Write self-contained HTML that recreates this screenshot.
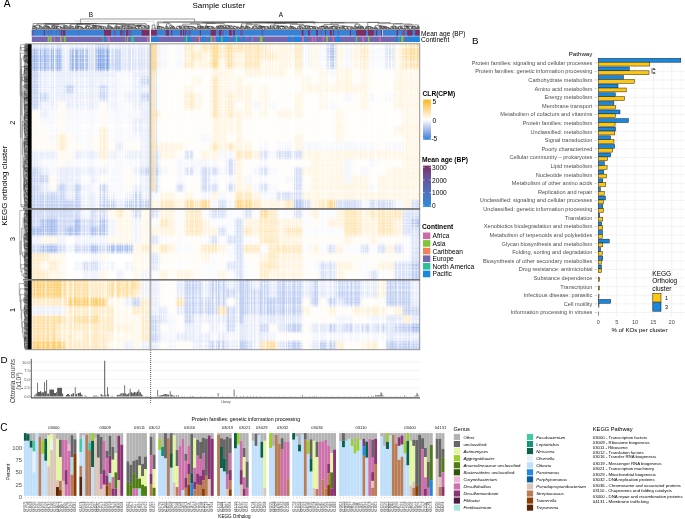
<!DOCTYPE html>
<html><head><meta charset="utf-8"><style>
html,body{margin:0;padding:0;background:#fff;}
body{width:685px;height:519px;overflow:hidden;position:relative;}
svg{position:absolute;left:0;top:0;font-family:"Liberation Sans",sans-serif;will-change:transform;}
</style></head><body>
<svg width="685" height="519" viewBox="0 0 685 519">
<rect width="685" height="519" fill="#fff"/>
<text x="3.7" y="7.3" font-size="10.2">A</text>
<text x="472" y="43.9" font-size="9.8">B</text>
<text x="0.2" y="431" font-size="10">C</text>
<text x="0.6" y="362.8" font-size="9.9">D</text>
<defs><filter id="bl" x="-5%" y="-5%" width="110%" height="110%"><feGaussianBlur stdDeviation="1.3"/></filter></defs>
<clipPath id="cp1"><rect x="32" y="44" width="117.6" height="164.2"/></clipPath>
<g clip-path="url(#cp1)"><g filter="url(#bl)">
<rect x="28" y="40" width="125.6" height="172.2" fill="#fff"/>
<rect x="28" y="40" width="12.42" height="12.23" fill="#c5d3f3"/>
<rect x="40.4" y="40" width="8.42" height="12.23" fill="#e8edfa"/>
<rect x="48.8" y="40" width="16.82" height="12.23" fill="#c5d3f3"/>
<rect x="65.6" y="40" width="8.42" height="12.23" fill="#e8edfa"/>
<rect x="74" y="40" width="8.42" height="12.23" fill="#c5d3f3"/>
<rect x="82.4" y="40" width="16.82" height="12.23" fill="#e8edfa"/>
<rect x="99.2" y="40" width="16.82" height="12.23" fill="#c5d3f3"/>
<rect x="116" y="40" width="37.62" height="12.23" fill="#e8edfa"/>
<rect x="28" y="52.21" width="12.42" height="8.23" fill="#9eb8eb"/>
<rect x="40.4" y="52.21" width="8.42" height="8.23" fill="#c5d3f3"/>
<rect x="48.8" y="52.21" width="8.42" height="8.23" fill="#9eb8eb"/>
<rect x="57.2" y="52.21" width="8.42" height="8.23" fill="#c5d3f3"/>
<rect x="65.6" y="52.21" width="8.42" height="8.23" fill="#e8edfa"/>
<rect x="74" y="52.21" width="16.82" height="8.23" fill="#9eb8eb"/>
<rect x="90.8" y="52.21" width="8.42" height="8.23" fill="#c5d3f3"/>
<rect x="99.2" y="52.21" width="16.82" height="8.23" fill="#9eb8eb"/>
<rect x="116" y="52.21" width="8.42" height="8.23" fill="#c5d3f3"/>
<rect x="124.4" y="52.21" width="8.42" height="8.23" fill="#e8edfa"/>
<rect x="132.8" y="52.21" width="8.42" height="8.23" fill="#c5d3f3"/>
<rect x="141.2" y="52.21" width="12.42" height="8.23" fill="#e8edfa"/>
<rect x="28" y="60.42" width="12.42" height="8.23" fill="#9eb8eb"/>
<rect x="40.4" y="60.42" width="8.42" height="8.23" fill="#c5d3f3"/>
<rect x="48.8" y="60.42" width="8.42" height="8.23" fill="#9eb8eb"/>
<rect x="57.2" y="60.42" width="8.42" height="8.23" fill="#c5d3f3"/>
<rect x="65.6" y="60.42" width="8.42" height="8.23" fill="#e8edfa"/>
<rect x="74" y="60.42" width="8.42" height="8.23" fill="#9eb8eb"/>
<rect x="82.4" y="60.42" width="8.42" height="8.23" fill="#c5d3f3"/>
<rect x="90.8" y="60.42" width="8.42" height="8.23" fill="#e8edfa"/>
<rect x="99.2" y="60.42" width="8.42" height="8.23" fill="#9eb8eb"/>
<rect x="107.6" y="60.42" width="8.42" height="8.23" fill="#c5d3f3"/>
<rect x="116" y="60.42" width="16.82" height="8.23" fill="#e8edfa"/>
<rect x="132.8" y="60.42" width="8.42" height="8.23" fill="#c5d3f3"/>
<rect x="141.2" y="60.42" width="12.42" height="8.23" fill="#e8edfa"/>
<rect x="28" y="68.63" width="12.42" height="8.23" fill="#c5d3f3"/>
<rect x="40.4" y="68.63" width="75.62" height="8.23" fill="#e8edfa"/>
<rect x="116" y="68.63" width="16.82" height="8.23" fill="#f7f8fd"/>
<rect x="132.8" y="68.63" width="20.82" height="8.23" fill="#e8edfa"/>
<rect x="28" y="76.84" width="12.42" height="8.23" fill="#c5d3f3"/>
<rect x="40.4" y="76.84" width="75.62" height="8.23" fill="#e8edfa"/>
<rect x="116" y="76.84" width="16.82" height="8.23" fill="#f7f8fd"/>
<rect x="132.8" y="76.84" width="8.42" height="8.23" fill="#e8edfa"/>
<rect x="141.2" y="76.84" width="12.42" height="8.23" fill="#c5d3f3"/>
<rect x="28" y="85.05" width="12.42" height="8.23" fill="#c5d3f3"/>
<rect x="40.4" y="85.05" width="25.22" height="8.23" fill="#e8edfa"/>
<rect x="65.6" y="85.05" width="8.42" height="8.23" fill="#c5d3f3"/>
<rect x="74" y="85.05" width="25.22" height="8.23" fill="#e8edfa"/>
<rect x="99.2" y="85.05" width="8.42" height="8.23" fill="#c5d3f3"/>
<rect x="107.6" y="85.05" width="8.42" height="8.23" fill="#e8edfa"/>
<rect x="116" y="85.05" width="16.82" height="8.23" fill="#f7f8fd"/>
<rect x="132.8" y="85.05" width="20.82" height="8.23" fill="#e8edfa"/>
<rect x="28" y="93.26" width="20.82" height="8.23" fill="#c5d3f3"/>
<rect x="48.8" y="93.26" width="50.42" height="8.23" fill="#e8edfa"/>
<rect x="99.2" y="93.26" width="8.42" height="8.23" fill="#c5d3f3"/>
<rect x="107.6" y="93.26" width="8.42" height="8.23" fill="#e8edfa"/>
<rect x="116" y="93.26" width="8.42" height="8.23" fill="#f7f8fd"/>
<rect x="124.4" y="93.26" width="16.82" height="8.23" fill="#e8edfa"/>
<rect x="141.2" y="93.26" width="12.42" height="8.23" fill="#c5d3f3"/>
<rect x="28" y="101.47" width="12.42" height="8.23" fill="#c5d3f3"/>
<rect x="40.4" y="101.47" width="16.82" height="8.23" fill="#e8edfa"/>
<rect x="57.2" y="101.47" width="8.42" height="8.23" fill="#fffaf2"/>
<rect x="65.6" y="101.47" width="33.62" height="8.23" fill="#e8edfa"/>
<rect x="99.2" y="101.47" width="8.42" height="8.23" fill="#fffaf2"/>
<rect x="107.6" y="101.47" width="8.42" height="8.23" fill="#e8edfa"/>
<rect x="116" y="101.47" width="16.82" height="8.23" fill="#f7f8fd"/>
<rect x="132.8" y="101.47" width="20.82" height="8.23" fill="#e8edfa"/>
<rect x="28" y="109.68" width="12.42" height="8.23" fill="#fffaf2"/>
<rect x="40.4" y="109.68" width="8.42" height="8.23" fill="#e8edfa"/>
<rect x="48.8" y="109.68" width="8.42" height="8.23" fill="#f7f8fd"/>
<rect x="57.2" y="109.68" width="8.42" height="8.23" fill="#fffaf2"/>
<rect x="65.6" y="109.68" width="33.62" height="8.23" fill="#f7f8fd"/>
<rect x="99.2" y="109.68" width="8.42" height="8.23" fill="#fffaf2"/>
<rect x="107.6" y="109.68" width="33.62" height="8.23" fill="#f7f8fd"/>
<rect x="141.2" y="109.68" width="12.42" height="8.23" fill="#e8edfa"/>
<rect x="28" y="117.89" width="12.42" height="8.23" fill="#fffaf2"/>
<rect x="40.4" y="117.89" width="16.82" height="8.23" fill="#f7f8fd"/>
<rect x="57.2" y="117.89" width="8.42" height="8.23" fill="#fffaf2"/>
<rect x="65.6" y="117.89" width="33.62" height="8.23" fill="#f7f8fd"/>
<rect x="99.2" y="117.89" width="8.42" height="8.23" fill="#fffaf2"/>
<rect x="107.6" y="117.89" width="25.22" height="8.23" fill="#f7f8fd"/>
<rect x="132.8" y="117.89" width="20.82" height="8.23" fill="#e8edfa"/>
<rect x="28" y="126.1" width="20.82" height="8.23" fill="#fffaf2"/>
<rect x="48.8" y="126.1" width="8.42" height="8.23" fill="#f7f8fd"/>
<rect x="57.2" y="126.1" width="8.42" height="8.23" fill="#fffaf2"/>
<rect x="65.6" y="126.1" width="33.62" height="8.23" fill="#f7f8fd"/>
<rect x="99.2" y="126.1" width="8.42" height="8.23" fill="#ffeecd"/>
<rect x="107.6" y="126.1" width="25.22" height="8.23" fill="#f7f8fd"/>
<rect x="132.8" y="126.1" width="20.82" height="8.23" fill="#e8edfa"/>
<rect x="28" y="134.31" width="20.82" height="8.23" fill="#fffaf2"/>
<rect x="48.8" y="134.31" width="8.42" height="8.23" fill="#f7f8fd"/>
<rect x="57.2" y="134.31" width="8.42" height="8.23" fill="#ffeecd"/>
<rect x="65.6" y="134.31" width="8.42" height="8.23" fill="#fffaf2"/>
<rect x="74" y="134.31" width="16.82" height="8.23" fill="#f7f8fd"/>
<rect x="90.8" y="134.31" width="8.42" height="8.23" fill="#fffaf2"/>
<rect x="99.2" y="134.31" width="8.42" height="8.23" fill="#ffeecd"/>
<rect x="107.6" y="134.31" width="33.62" height="8.23" fill="#f7f8fd"/>
<rect x="141.2" y="134.31" width="12.42" height="8.23" fill="#e8edfa"/>
<rect x="28" y="142.52" width="29.22" height="8.23" fill="#fffaf2"/>
<rect x="57.2" y="142.52" width="8.42" height="8.23" fill="#ffeecd"/>
<rect x="65.6" y="142.52" width="16.82" height="8.23" fill="#fffaf2"/>
<rect x="82.4" y="142.52" width="8.42" height="8.23" fill="#f7f8fd"/>
<rect x="90.8" y="142.52" width="8.42" height="8.23" fill="#fffaf2"/>
<rect x="99.2" y="142.52" width="8.42" height="8.23" fill="#ffeecd"/>
<rect x="107.6" y="142.52" width="8.42" height="8.23" fill="#fffaf2"/>
<rect x="116" y="142.52" width="8.42" height="8.23" fill="#e8edfa"/>
<rect x="124.4" y="142.52" width="16.82" height="8.23" fill="#fffaf2"/>
<rect x="141.2" y="142.52" width="12.42" height="8.23" fill="#e8edfa"/>
<rect x="28" y="150.73" width="29.22" height="8.23" fill="#e8edfa"/>
<rect x="57.2" y="150.73" width="16.82" height="8.23" fill="#fffaf2"/>
<rect x="74" y="150.73" width="25.22" height="8.23" fill="#e8edfa"/>
<rect x="99.2" y="150.73" width="8.42" height="8.23" fill="#ffeecd"/>
<rect x="107.6" y="150.73" width="8.42" height="8.23" fill="#e8edfa"/>
<rect x="116" y="150.73" width="8.42" height="8.23" fill="#f7f8fd"/>
<rect x="124.4" y="150.73" width="29.22" height="8.23" fill="#e8edfa"/>
<rect x="28" y="158.94" width="12.42" height="8.23" fill="#e8edfa"/>
<rect x="40.4" y="158.94" width="16.82" height="8.23" fill="#f7f8fd"/>
<rect x="57.2" y="158.94" width="8.42" height="8.23" fill="#fffaf2"/>
<rect x="65.6" y="158.94" width="33.62" height="8.23" fill="#f7f8fd"/>
<rect x="99.2" y="158.94" width="8.42" height="8.23" fill="#fffaf2"/>
<rect x="107.6" y="158.94" width="33.62" height="8.23" fill="#f7f8fd"/>
<rect x="141.2" y="158.94" width="12.42" height="8.23" fill="#e8edfa"/>
<rect x="28" y="167.15" width="12.42" height="8.23" fill="#c5d3f3"/>
<rect x="40.4" y="167.15" width="8.42" height="8.23" fill="#e8edfa"/>
<rect x="48.8" y="167.15" width="8.42" height="8.23" fill="#f7f8fd"/>
<rect x="57.2" y="167.15" width="50.42" height="8.23" fill="#e8edfa"/>
<rect x="107.6" y="167.15" width="16.82" height="8.23" fill="#f7f8fd"/>
<rect x="124.4" y="167.15" width="8.42" height="8.23" fill="#fffaf2"/>
<rect x="132.8" y="167.15" width="8.42" height="8.23" fill="#e8edfa"/>
<rect x="141.2" y="167.15" width="12.42" height="8.23" fill="#c5d3f3"/>
<rect x="28" y="175.36" width="20.82" height="8.23" fill="#c5d3f3"/>
<rect x="48.8" y="175.36" width="8.42" height="8.23" fill="#fffaf2"/>
<rect x="57.2" y="175.36" width="25.22" height="8.23" fill="#e8edfa"/>
<rect x="82.4" y="175.36" width="8.42" height="8.23" fill="#f7f8fd"/>
<rect x="90.8" y="175.36" width="8.42" height="8.23" fill="#e8edfa"/>
<rect x="99.2" y="175.36" width="8.42" height="8.23" fill="#fffaf2"/>
<rect x="107.6" y="175.36" width="16.82" height="8.23" fill="#f7f8fd"/>
<rect x="124.4" y="175.36" width="8.42" height="8.23" fill="#fffaf2"/>
<rect x="132.8" y="175.36" width="8.42" height="8.23" fill="#f7f8fd"/>
<rect x="141.2" y="175.36" width="12.42" height="8.23" fill="#e8edfa"/>
<rect x="28" y="183.57" width="12.42" height="8.23" fill="#c5d3f3"/>
<rect x="40.4" y="183.57" width="8.42" height="8.23" fill="#e8edfa"/>
<rect x="48.8" y="183.57" width="8.42" height="8.23" fill="#fffaf2"/>
<rect x="57.2" y="183.57" width="8.42" height="8.23" fill="#c5d3f3"/>
<rect x="65.6" y="183.57" width="8.42" height="8.23" fill="#e8edfa"/>
<rect x="74" y="183.57" width="8.42" height="8.23" fill="#c5d3f3"/>
<rect x="82.4" y="183.57" width="8.42" height="8.23" fill="#e8edfa"/>
<rect x="90.8" y="183.57" width="8.42" height="8.23" fill="#f7f8fd"/>
<rect x="99.2" y="183.57" width="8.42" height="8.23" fill="#c5d3f3"/>
<rect x="107.6" y="183.57" width="16.82" height="8.23" fill="#f7f8fd"/>
<rect x="124.4" y="183.57" width="8.42" height="8.23" fill="#fffaf2"/>
<rect x="132.8" y="183.57" width="20.82" height="8.23" fill="#e8edfa"/>
<rect x="28" y="191.78" width="37.62" height="8.23" fill="#c5d3f3"/>
<rect x="65.6" y="191.78" width="8.42" height="8.23" fill="#e8edfa"/>
<rect x="74" y="191.78" width="8.42" height="8.23" fill="#c5d3f3"/>
<rect x="82.4" y="191.78" width="16.82" height="8.23" fill="#e8edfa"/>
<rect x="99.2" y="191.78" width="8.42" height="8.23" fill="#c5d3f3"/>
<rect x="107.6" y="191.78" width="8.42" height="8.23" fill="#e8edfa"/>
<rect x="116" y="191.78" width="8.42" height="8.23" fill="#f7f8fd"/>
<rect x="124.4" y="191.78" width="8.42" height="8.23" fill="#e8edfa"/>
<rect x="132.8" y="191.78" width="8.42" height="8.23" fill="#c5d3f3"/>
<rect x="141.2" y="191.78" width="12.42" height="8.23" fill="#e8edfa"/>
<rect x="28" y="199.99" width="54.42" height="12.23" fill="#c5d3f3"/>
<rect x="82.4" y="199.99" width="16.82" height="12.23" fill="#e8edfa"/>
<rect x="99.2" y="199.99" width="16.82" height="12.23" fill="#c5d3f3"/>
<rect x="116" y="199.99" width="8.42" height="12.23" fill="#e8edfa"/>
<rect x="124.4" y="199.99" width="29.22" height="12.23" fill="#c5d3f3"/>
<rect x="28" y="40" width="34" height="9" fill="#d9e1f7"/>
<rect x="62" y="40" width="8" height="9" fill="#f2f5fc"/>
<rect x="70" y="40" width="26" height="9" fill="#e5ebfa"/>
<rect x="96" y="40" width="14" height="9" fill="#c7d4f3"/>
<rect x="110" y="40" width="44" height="9" fill="#eaeefb"/>
<rect x="28" y="49" width="34" height="22" fill="#9eb8eb"/>
<rect x="62" y="49" width="8" height="22" fill="#eaeefb"/>
<rect x="70" y="49" width="18" height="22" fill="#9ab4ea"/>
<rect x="88" y="49" width="8" height="22" fill="#d9e1f7"/>
<rect x="96" y="49" width="14" height="22" fill="#81a5e5"/>
<rect x="110" y="49" width="11" height="22" fill="#c3d1f2"/>
<rect x="121" y="49" width="33" height="22" fill="#dde4f8"/>
</g></g>
<clipPath id="cp2"><rect x="32" y="209.8" width="117.6" height="69.2"/></clipPath>
<g clip-path="url(#cp2)"><g filter="url(#bl)">
<rect x="28" y="205.8" width="125.6" height="77.2" fill="#fff"/>
<rect x="28" y="205.8" width="54.42" height="12.67" fill="#ced9f5"/>
<rect x="82.4" y="205.8" width="8.42" height="12.67" fill="#f0f3fc"/>
<rect x="90.8" y="205.8" width="16.82" height="12.67" fill="#ced9f5"/>
<rect x="107.6" y="205.8" width="8.42" height="12.67" fill="#fff7e7"/>
<rect x="116" y="205.8" width="8.42" height="12.67" fill="#ffeac3"/>
<rect x="124.4" y="205.8" width="8.42" height="12.67" fill="#fff7e7"/>
<rect x="132.8" y="205.8" width="8.42" height="12.67" fill="#ced9f5"/>
<rect x="141.2" y="205.8" width="12.42" height="12.67" fill="#fff7e7"/>
<rect x="28" y="218.45" width="12.42" height="8.67" fill="#ced9f5"/>
<rect x="40.4" y="218.45" width="16.82" height="8.67" fill="#a8beed"/>
<rect x="57.2" y="218.45" width="16.82" height="8.67" fill="#ced9f5"/>
<rect x="74" y="218.45" width="8.42" height="8.67" fill="#a8beed"/>
<rect x="82.4" y="218.45" width="16.82" height="8.67" fill="#ced9f5"/>
<rect x="99.2" y="218.45" width="8.42" height="8.67" fill="#a8beed"/>
<rect x="107.6" y="218.45" width="8.42" height="8.67" fill="#f0f3fc"/>
<rect x="116" y="218.45" width="16.82" height="8.67" fill="#fff7e7"/>
<rect x="132.8" y="218.45" width="8.42" height="8.67" fill="#f0f3fc"/>
<rect x="141.2" y="218.45" width="12.42" height="8.67" fill="#fff7e7"/>
<rect x="28" y="227.1" width="29.22" height="8.67" fill="#a8beed"/>
<rect x="57.2" y="227.1" width="8.42" height="8.67" fill="#ced9f5"/>
<rect x="65.6" y="227.1" width="16.82" height="8.67" fill="#a8beed"/>
<rect x="82.4" y="227.1" width="8.42" height="8.67" fill="#ced9f5"/>
<rect x="90.8" y="227.1" width="16.82" height="8.67" fill="#a8beed"/>
<rect x="107.6" y="227.1" width="8.42" height="8.67" fill="#f0f3fc"/>
<rect x="116" y="227.1" width="16.82" height="8.67" fill="#fff7e7"/>
<rect x="132.8" y="227.1" width="8.42" height="8.67" fill="#f0f3fc"/>
<rect x="141.2" y="227.1" width="12.42" height="8.67" fill="#fff7e7"/>
<rect x="28" y="235.75" width="12.42" height="8.67" fill="#f0f3fc"/>
<rect x="40.4" y="235.75" width="16.82" height="8.67" fill="#fff7e7"/>
<rect x="57.2" y="235.75" width="8.42" height="8.67" fill="#f0f3fc"/>
<rect x="74" y="235.75" width="33.62" height="8.67" fill="#f0f3fc"/>
<rect x="107.6" y="235.75" width="25.22" height="8.67" fill="#fff7e7"/>
<rect x="132.8" y="235.75" width="8.42" height="8.67" fill="#f0f3fc"/>
<rect x="141.2" y="235.75" width="12.42" height="8.67" fill="#fff7e7"/>
<rect x="28" y="244.4" width="12.42" height="8.67" fill="#ced9f5"/>
<rect x="40.4" y="244.4" width="16.82" height="8.67" fill="#a8beed"/>
<rect x="57.2" y="244.4" width="8.42" height="8.67" fill="#ced9f5"/>
<rect x="65.6" y="244.4" width="8.42" height="8.67" fill="#f0f3fc"/>
<rect x="74" y="244.4" width="16.82" height="8.67" fill="#ced9f5"/>
<rect x="90.8" y="244.4" width="8.42" height="8.67" fill="#a8beed"/>
<rect x="99.2" y="244.4" width="8.42" height="8.67" fill="#ced9f5"/>
<rect x="107.6" y="244.4" width="25.22" height="8.67" fill="#a8beed"/>
<rect x="132.8" y="244.4" width="8.42" height="8.67" fill="#fff7e7"/>
<rect x="141.2" y="244.4" width="12.42" height="8.67" fill="#ffeac3"/>
<rect x="28" y="253.05" width="20.82" height="8.67" fill="#ffeac3"/>
<rect x="48.8" y="253.05" width="16.82" height="8.67" fill="#fff7e7"/>
<rect x="90.8" y="253.05" width="8.42" height="8.67" fill="#f0f3fc"/>
<rect x="99.2" y="253.05" width="8.42" height="8.67" fill="#fff7e7"/>
<rect x="132.8" y="253.05" width="20.82" height="8.67" fill="#fff7e7"/>
<rect x="28" y="261.7" width="12.42" height="8.67" fill="#ffeac3"/>
<rect x="40.4" y="261.7" width="8.42" height="8.67" fill="#fff7e7"/>
<rect x="48.8" y="261.7" width="8.42" height="8.67" fill="#ffeac3"/>
<rect x="57.2" y="261.7" width="8.42" height="8.67" fill="#fff7e7"/>
<rect x="74" y="261.7" width="8.42" height="8.67" fill="#f0f3fc"/>
<rect x="82.4" y="261.7" width="16.82" height="8.67" fill="#ced9f5"/>
<rect x="99.2" y="261.7" width="16.82" height="8.67" fill="#f0f3fc"/>
<rect x="124.4" y="261.7" width="8.42" height="8.67" fill="#f0f3fc"/>
<rect x="132.8" y="261.7" width="20.82" height="8.67" fill="#fff7e7"/>
<rect x="28" y="270.35" width="20.82" height="12.67" fill="#ffeac3"/>
<rect x="48.8" y="270.35" width="16.82" height="12.67" fill="#fff7e7"/>
<rect x="82.4" y="270.35" width="16.82" height="12.67" fill="#f0f3fc"/>
<rect x="99.2" y="270.35" width="8.42" height="12.67" fill="#fff7e7"/>
<rect x="116" y="270.35" width="8.42" height="12.67" fill="#f0f3fc"/>
<rect x="132.8" y="270.35" width="8.42" height="12.67" fill="#fff7e7"/>
<rect x="141.2" y="270.35" width="12.42" height="12.67" fill="#f0f3fc"/>
</g></g>
<clipPath id="cp3"><rect x="32" y="280.6" width="117.6" height="69"/></clipPath>
<g clip-path="url(#cp3)"><g filter="url(#bl)">
<rect x="28" y="276.6" width="125.6" height="77" fill="#fff"/>
<rect x="28" y="276.6" width="37.62" height="12.64" fill="#ffce6d"/>
<rect x="65.6" y="276.6" width="25.22" height="12.64" fill="#ffde9f"/>
<rect x="90.8" y="276.6" width="16.82" height="12.64" fill="#ffeac3"/>
<rect x="107.6" y="276.6" width="33.62" height="12.64" fill="#ffde9f"/>
<rect x="141.2" y="276.6" width="12.42" height="12.64" fill="#ecf0fb"/>
<rect x="28" y="289.23" width="37.62" height="8.64" fill="#ffce6d"/>
<rect x="65.6" y="289.23" width="25.22" height="8.64" fill="#ffde9f"/>
<rect x="90.8" y="289.23" width="16.82" height="8.64" fill="#ffeac3"/>
<rect x="107.6" y="289.23" width="25.22" height="8.64" fill="#ffde9f"/>
<rect x="132.8" y="289.23" width="8.42" height="8.64" fill="#ffeac3"/>
<rect x="141.2" y="289.23" width="12.42" height="8.64" fill="#ecf0fb"/>
<rect x="28" y="297.85" width="37.62" height="8.64" fill="#ffeac3"/>
<rect x="65.6" y="297.85" width="42.02" height="8.64" fill="#ffce6d"/>
<rect x="107.6" y="297.85" width="16.82" height="8.64" fill="#fff9ed"/>
<rect x="124.4" y="297.85" width="8.42" height="8.64" fill="#ecf0fb"/>
<rect x="132.8" y="297.85" width="8.42" height="8.64" fill="#c7d4f3"/>
<rect x="141.2" y="297.85" width="12.42" height="8.64" fill="#ffeac3"/>
<rect x="28" y="306.48" width="37.62" height="8.64" fill="#ecf0fb"/>
<rect x="65.6" y="306.48" width="50.42" height="8.64" fill="#ffeac3"/>
<rect x="116" y="306.48" width="16.82" height="8.64" fill="#fff9ed"/>
<rect x="132.8" y="306.48" width="20.82" height="8.64" fill="#ffeac3"/>
<rect x="28" y="315.1" width="37.62" height="8.64" fill="#ffde9f"/>
<rect x="65.6" y="315.1" width="8.42" height="8.64" fill="#ffeac3"/>
<rect x="74" y="315.1" width="25.22" height="8.64" fill="#ffde9f"/>
<rect x="99.2" y="315.1" width="16.82" height="8.64" fill="#ffeac3"/>
<rect x="116" y="315.1" width="25.22" height="8.64" fill="#fff9ed"/>
<rect x="141.2" y="315.1" width="12.42" height="8.64" fill="#ffeac3"/>
<rect x="28" y="323.73" width="29.22" height="8.64" fill="#ffde9f"/>
<rect x="57.2" y="323.73" width="58.82" height="8.64" fill="#ffeac3"/>
<rect x="116" y="323.73" width="16.82" height="8.64" fill="#fff2da"/>
<rect x="132.8" y="323.73" width="8.42" height="8.64" fill="#fff9ed"/>
<rect x="141.2" y="323.73" width="12.42" height="8.64" fill="#ffeac3"/>
<rect x="28" y="332.35" width="29.22" height="8.64" fill="#ffde9f"/>
<rect x="57.2" y="332.35" width="16.82" height="8.64" fill="#ffeac3"/>
<rect x="74" y="332.35" width="8.42" height="8.64" fill="#fff2da"/>
<rect x="82.4" y="332.35" width="25.22" height="8.64" fill="#ffeac3"/>
<rect x="107.6" y="332.35" width="8.42" height="8.64" fill="#fff2da"/>
<rect x="116" y="332.35" width="25.22" height="8.64" fill="#fff9ed"/>
<rect x="141.2" y="332.35" width="12.42" height="8.64" fill="#ffeac3"/>
<rect x="28" y="340.98" width="37.62" height="12.64" fill="#ffce6d"/>
<rect x="65.6" y="340.98" width="42.02" height="12.64" fill="#ffeac3"/>
<rect x="107.6" y="340.98" width="16.82" height="12.64" fill="#fff9ed"/>
<rect x="124.4" y="340.98" width="8.42" height="12.64" fill="#ecf0fb"/>
<rect x="132.8" y="340.98" width="8.42" height="12.64" fill="#fff9ed"/>
<rect x="141.2" y="340.98" width="12.42" height="12.64" fill="#ecf0fb"/>
</g></g>
<clipPath id="cp4"><rect x="151.2" y="44" width="268.4" height="164.2"/></clipPath>
<g clip-path="url(#cp4)"><g filter="url(#bl)">
<rect x="147.2" y="40" width="276.4" height="172.2" fill="#fff"/>
<rect x="147.2" y="40" width="12.41" height="12.23" fill="#ffe8bd"/>
<rect x="159.59" y="40" width="8.41" height="12.23" fill="#f5f7fd"/>
<rect x="167.97" y="40" width="8.41" height="12.23" fill="#fffdf9"/>
<rect x="176.36" y="40" width="8.41" height="12.23" fill="#f5f7fd"/>
<rect x="184.75" y="40" width="8.41" height="12.23" fill="#ffe8bd"/>
<rect x="193.14" y="40" width="8.41" height="12.23" fill="#fff5e1"/>
<rect x="201.52" y="40" width="8.41" height="12.23" fill="#ffe8bd"/>
<rect x="209.91" y="40" width="8.41" height="12.23" fill="#ffd88c"/>
<rect x="218.3" y="40" width="8.41" height="12.23" fill="#ffe8bd"/>
<rect x="226.69" y="40" width="8.41" height="12.23" fill="#ffd88c"/>
<rect x="235.07" y="40" width="33.57" height="12.23" fill="#ffe8bd"/>
<rect x="268.62" y="40" width="25.18" height="12.23" fill="#fff5e1"/>
<rect x="293.79" y="40" width="8.41" height="12.23" fill="#ffe8bd"/>
<rect x="302.18" y="40" width="8.41" height="12.23" fill="#f5f7fd"/>
<rect x="310.56" y="40" width="8.41" height="12.23" fill="#fff5e1"/>
<rect x="318.95" y="40" width="8.41" height="12.23" fill="#f5f7fd"/>
<rect x="327.34" y="40" width="8.41" height="12.23" fill="#adc2ee"/>
<rect x="335.73" y="40" width="8.41" height="12.23" fill="#fff5e1"/>
<rect x="344.11" y="40" width="8.41" height="12.23" fill="#f5f7fd"/>
<rect x="352.5" y="40" width="8.41" height="12.23" fill="#fff5e1"/>
<rect x="360.89" y="40" width="8.41" height="12.23" fill="#ffe8bd"/>
<rect x="369.27" y="40" width="16.8" height="12.23" fill="#f5f7fd"/>
<rect x="386.05" y="40" width="8.41" height="12.23" fill="#d3ddf6"/>
<rect x="394.44" y="40" width="8.41" height="12.23" fill="#fff5e1"/>
<rect x="402.83" y="40" width="20.8" height="12.23" fill="#ffd88c"/>
<rect x="147.2" y="52.21" width="12.41" height="8.23" fill="#ffe8bd"/>
<rect x="159.59" y="52.21" width="8.41" height="8.23" fill="#f5f7fd"/>
<rect x="167.97" y="52.21" width="8.41" height="8.23" fill="#fffdf9"/>
<rect x="176.36" y="52.21" width="8.41" height="8.23" fill="#f5f7fd"/>
<rect x="184.75" y="52.21" width="16.8" height="8.23" fill="#ffe8bd"/>
<rect x="201.52" y="52.21" width="8.41" height="8.23" fill="#fff5e1"/>
<rect x="209.91" y="52.21" width="8.41" height="8.23" fill="#ffd88c"/>
<rect x="218.3" y="52.21" width="8.41" height="8.23" fill="#ffe8bd"/>
<rect x="226.69" y="52.21" width="8.41" height="8.23" fill="#ffd88c"/>
<rect x="235.07" y="52.21" width="8.41" height="8.23" fill="#fff5e1"/>
<rect x="243.46" y="52.21" width="33.57" height="8.23" fill="#ffe8bd"/>
<rect x="277.01" y="52.21" width="16.8" height="8.23" fill="#fff5e1"/>
<rect x="293.79" y="52.21" width="8.41" height="8.23" fill="#ffe8bd"/>
<rect x="302.18" y="52.21" width="8.41" height="8.23" fill="#f5f7fd"/>
<rect x="310.56" y="52.21" width="8.41" height="8.23" fill="#fff5e1"/>
<rect x="318.95" y="52.21" width="8.41" height="8.23" fill="#f5f7fd"/>
<rect x="327.34" y="52.21" width="8.41" height="8.23" fill="#adc2ee"/>
<rect x="335.73" y="52.21" width="8.41" height="8.23" fill="#fff5e1"/>
<rect x="344.11" y="52.21" width="8.41" height="8.23" fill="#f5f7fd"/>
<rect x="352.5" y="52.21" width="8.41" height="8.23" fill="#fff5e1"/>
<rect x="360.89" y="52.21" width="8.41" height="8.23" fill="#ffe8bd"/>
<rect x="369.27" y="52.21" width="16.8" height="8.23" fill="#f5f7fd"/>
<rect x="386.05" y="52.21" width="8.41" height="8.23" fill="#d3ddf6"/>
<rect x="394.44" y="52.21" width="8.41" height="8.23" fill="#fff5e1"/>
<rect x="402.83" y="52.21" width="20.8" height="8.23" fill="#ffd88c"/>
<rect x="147.2" y="60.42" width="12.41" height="8.23" fill="#ffe8bd"/>
<rect x="159.59" y="60.42" width="8.41" height="8.23" fill="#f5f7fd"/>
<rect x="167.97" y="60.42" width="8.41" height="8.23" fill="#fffdf9"/>
<rect x="176.36" y="60.42" width="8.41" height="8.23" fill="#f5f7fd"/>
<rect x="184.75" y="60.42" width="8.41" height="8.23" fill="#ffe8bd"/>
<rect x="193.14" y="60.42" width="16.8" height="8.23" fill="#fff5e1"/>
<rect x="209.91" y="60.42" width="8.41" height="8.23" fill="#ffd88c"/>
<rect x="218.3" y="60.42" width="8.41" height="8.23" fill="#fff5e1"/>
<rect x="226.69" y="60.42" width="8.41" height="8.23" fill="#ffd88c"/>
<rect x="235.07" y="60.42" width="8.41" height="8.23" fill="#fff5e1"/>
<rect x="243.46" y="60.42" width="16.8" height="8.23" fill="#ffe8bd"/>
<rect x="260.24" y="60.42" width="33.57" height="8.23" fill="#fff5e1"/>
<rect x="293.79" y="60.42" width="8.41" height="8.23" fill="#ffe8bd"/>
<rect x="302.18" y="60.42" width="8.41" height="8.23" fill="#f5f7fd"/>
<rect x="310.56" y="60.42" width="8.41" height="8.23" fill="#fff5e1"/>
<rect x="318.95" y="60.42" width="8.41" height="8.23" fill="#f5f7fd"/>
<rect x="327.34" y="60.42" width="8.41" height="8.23" fill="#adc2ee"/>
<rect x="335.73" y="60.42" width="8.41" height="8.23" fill="#fff5e1"/>
<rect x="344.11" y="60.42" width="8.41" height="8.23" fill="#f5f7fd"/>
<rect x="352.5" y="60.42" width="8.41" height="8.23" fill="#fff5e1"/>
<rect x="360.89" y="60.42" width="8.41" height="8.23" fill="#ffe8bd"/>
<rect x="369.27" y="60.42" width="16.8" height="8.23" fill="#f5f7fd"/>
<rect x="386.05" y="60.42" width="8.41" height="8.23" fill="#d3ddf6"/>
<rect x="394.44" y="60.42" width="8.41" height="8.23" fill="#fff5e1"/>
<rect x="402.83" y="60.42" width="20.8" height="8.23" fill="#ffd88c"/>
<rect x="147.2" y="68.63" width="12.41" height="8.23" fill="#fff5e1"/>
<rect x="159.59" y="68.63" width="50.35" height="8.23" fill="#fffdf9"/>
<rect x="209.91" y="68.63" width="25.18" height="8.23" fill="#fff5e1"/>
<rect x="235.07" y="68.63" width="8.41" height="8.23" fill="#fffdf9"/>
<rect x="243.46" y="68.63" width="41.96" height="8.23" fill="#fff5e1"/>
<rect x="285.4" y="68.63" width="8.41" height="8.23" fill="#fffdf9"/>
<rect x="293.79" y="68.63" width="8.41" height="8.23" fill="#fff5e1"/>
<rect x="302.18" y="68.63" width="16.8" height="8.23" fill="#fffdf9"/>
<rect x="318.95" y="68.63" width="8.41" height="8.23" fill="#fff5e1"/>
<rect x="327.34" y="68.63" width="8.41" height="8.23" fill="#f5f7fd"/>
<rect x="335.73" y="68.63" width="16.8" height="8.23" fill="#fff5e1"/>
<rect x="352.5" y="68.63" width="8.41" height="8.23" fill="#fffdf9"/>
<rect x="360.89" y="68.63" width="8.41" height="8.23" fill="#fff5e1"/>
<rect x="369.27" y="68.63" width="25.18" height="8.23" fill="#fffdf9"/>
<rect x="394.44" y="68.63" width="29.18" height="8.23" fill="#fff5e1"/>
<rect x="147.2" y="76.84" width="45.96" height="8.23" fill="#fffdf9"/>
<rect x="193.14" y="76.84" width="8.41" height="8.23" fill="#fff5e1"/>
<rect x="201.52" y="76.84" width="8.41" height="8.23" fill="#fffdf9"/>
<rect x="209.91" y="76.84" width="8.41" height="8.23" fill="#ffe8bd"/>
<rect x="218.3" y="76.84" width="25.18" height="8.23" fill="#fff5e1"/>
<rect x="243.46" y="76.84" width="58.73" height="8.23" fill="#fffdf9"/>
<rect x="302.18" y="76.84" width="8.41" height="8.23" fill="#fff5e1"/>
<rect x="310.56" y="76.84" width="8.41" height="8.23" fill="#fffdf9"/>
<rect x="318.95" y="76.84" width="8.41" height="8.23" fill="#fff5e1"/>
<rect x="327.34" y="76.84" width="8.41" height="8.23" fill="#fffdf9"/>
<rect x="335.73" y="76.84" width="16.8" height="8.23" fill="#fff5e1"/>
<rect x="352.5" y="76.84" width="8.41" height="8.23" fill="#fffdf9"/>
<rect x="360.89" y="76.84" width="8.41" height="8.23" fill="#fff5e1"/>
<rect x="369.27" y="76.84" width="25.18" height="8.23" fill="#fffdf9"/>
<rect x="394.44" y="76.84" width="29.18" height="8.23" fill="#fff5e1"/>
<rect x="147.2" y="85.05" width="12.41" height="8.23" fill="#f5f7fd"/>
<rect x="159.59" y="85.05" width="25.18" height="8.23" fill="#fffdf9"/>
<rect x="184.75" y="85.05" width="8.41" height="8.23" fill="#fff5e1"/>
<rect x="193.14" y="85.05" width="16.8" height="8.23" fill="#fffdf9"/>
<rect x="209.91" y="85.05" width="8.41" height="8.23" fill="#ffe8bd"/>
<rect x="218.3" y="85.05" width="33.57" height="8.23" fill="#fff5e1"/>
<rect x="251.85" y="85.05" width="8.41" height="8.23" fill="#fffdf9"/>
<rect x="260.24" y="85.05" width="8.41" height="8.23" fill="#fff5e1"/>
<rect x="268.62" y="85.05" width="33.57" height="8.23" fill="#fffdf9"/>
<rect x="302.18" y="85.05" width="67.12" height="8.23" fill="#fff5e1"/>
<rect x="369.27" y="85.05" width="25.18" height="8.23" fill="#fffdf9"/>
<rect x="394.44" y="85.05" width="29.18" height="8.23" fill="#fff5e1"/>
<rect x="147.2" y="93.26" width="12.41" height="8.23" fill="#f5f7fd"/>
<rect x="159.59" y="93.26" width="25.18" height="8.23" fill="#fffdf9"/>
<rect x="184.75" y="93.26" width="8.41" height="8.23" fill="#ffe8bd"/>
<rect x="193.14" y="93.26" width="8.41" height="8.23" fill="#fff5e1"/>
<rect x="201.52" y="93.26" width="8.41" height="8.23" fill="#fffdf9"/>
<rect x="209.91" y="93.26" width="8.41" height="8.23" fill="#ffe8bd"/>
<rect x="218.3" y="93.26" width="8.41" height="8.23" fill="#fff5e1"/>
<rect x="226.69" y="93.26" width="8.41" height="8.23" fill="#ffe8bd"/>
<rect x="235.07" y="93.26" width="16.8" height="8.23" fill="#fff5e1"/>
<rect x="251.85" y="93.26" width="8.41" height="8.23" fill="#fffdf9"/>
<rect x="260.24" y="93.26" width="8.41" height="8.23" fill="#fff5e1"/>
<rect x="268.62" y="93.26" width="25.18" height="8.23" fill="#fffdf9"/>
<rect x="293.79" y="93.26" width="8.41" height="8.23" fill="#fff5e1"/>
<rect x="302.18" y="93.26" width="16.8" height="8.23" fill="#fffdf9"/>
<rect x="318.95" y="93.26" width="8.41" height="8.23" fill="#fff5e1"/>
<rect x="327.34" y="93.26" width="16.8" height="8.23" fill="#fffdf9"/>
<rect x="344.11" y="93.26" width="8.41" height="8.23" fill="#f5f7fd"/>
<rect x="352.5" y="93.26" width="8.41" height="8.23" fill="#fffdf9"/>
<rect x="360.89" y="93.26" width="8.41" height="8.23" fill="#fff5e1"/>
<rect x="369.27" y="93.26" width="8.41" height="8.23" fill="#f5f7fd"/>
<rect x="377.66" y="93.26" width="8.41" height="8.23" fill="#fffdf9"/>
<rect x="386.05" y="93.26" width="8.41" height="8.23" fill="#f5f7fd"/>
<rect x="394.44" y="93.26" width="29.18" height="8.23" fill="#fff5e1"/>
<rect x="147.2" y="101.47" width="12.41" height="8.23" fill="#f5f7fd"/>
<rect x="159.59" y="101.47" width="25.18" height="8.23" fill="#fffdf9"/>
<rect x="184.75" y="101.47" width="8.41" height="8.23" fill="#ffe8bd"/>
<rect x="193.14" y="101.47" width="8.41" height="8.23" fill="#fff5e1"/>
<rect x="201.52" y="101.47" width="8.41" height="8.23" fill="#fffdf9"/>
<rect x="209.91" y="101.47" width="8.41" height="8.23" fill="#ffe8bd"/>
<rect x="218.3" y="101.47" width="8.41" height="8.23" fill="#fff5e1"/>
<rect x="226.69" y="101.47" width="8.41" height="8.23" fill="#ffe8bd"/>
<rect x="235.07" y="101.47" width="8.41" height="8.23" fill="#fffdf9"/>
<rect x="243.46" y="101.47" width="8.41" height="8.23" fill="#fff5e1"/>
<rect x="251.85" y="101.47" width="8.41" height="8.23" fill="#f5f7fd"/>
<rect x="260.24" y="101.47" width="8.41" height="8.23" fill="#fff5e1"/>
<rect x="268.62" y="101.47" width="8.41" height="8.23" fill="#f5f7fd"/>
<rect x="277.01" y="101.47" width="16.8" height="8.23" fill="#fffdf9"/>
<rect x="293.79" y="101.47" width="8.41" height="8.23" fill="#fff5e1"/>
<rect x="302.18" y="101.47" width="16.8" height="8.23" fill="#fffdf9"/>
<rect x="318.95" y="101.47" width="8.41" height="8.23" fill="#fff5e1"/>
<rect x="327.34" y="101.47" width="8.41" height="8.23" fill="#f5f7fd"/>
<rect x="335.73" y="101.47" width="25.18" height="8.23" fill="#fffdf9"/>
<rect x="360.89" y="101.47" width="8.41" height="8.23" fill="#fff5e1"/>
<rect x="369.27" y="101.47" width="25.18" height="8.23" fill="#fffdf9"/>
<rect x="394.44" y="101.47" width="29.18" height="8.23" fill="#fff5e1"/>
<rect x="147.2" y="109.68" width="12.41" height="8.23" fill="#ffe8bd"/>
<rect x="159.59" y="109.68" width="50.35" height="8.23" fill="#fffdf9"/>
<rect x="209.91" y="109.68" width="8.41" height="8.23" fill="#ffe8bd"/>
<rect x="218.3" y="109.68" width="8.41" height="8.23" fill="#fff5e1"/>
<rect x="226.69" y="109.68" width="8.41" height="8.23" fill="#ffe8bd"/>
<rect x="235.07" y="109.68" width="16.8" height="8.23" fill="#fff5e1"/>
<rect x="251.85" y="109.68" width="8.41" height="8.23" fill="#fffdf9"/>
<rect x="260.24" y="109.68" width="8.41" height="8.23" fill="#fff5e1"/>
<rect x="268.62" y="109.68" width="8.41" height="8.23" fill="#fffdf9"/>
<rect x="277.01" y="109.68" width="25.18" height="8.23" fill="#fff5e1"/>
<rect x="302.18" y="109.68" width="33.57" height="8.23" fill="#fffdf9"/>
<rect x="335.73" y="109.68" width="8.41" height="8.23" fill="#fff5e1"/>
<rect x="344.11" y="109.68" width="58.73" height="8.23" fill="#fffdf9"/>
<rect x="402.83" y="109.68" width="20.8" height="8.23" fill="#fff5e1"/>
<rect x="147.2" y="117.89" width="12.41" height="8.23" fill="#fff5e1"/>
<rect x="159.59" y="117.89" width="50.35" height="8.23" fill="#fffdf9"/>
<rect x="209.91" y="117.89" width="33.57" height="8.23" fill="#fff5e1"/>
<rect x="243.46" y="117.89" width="92.28" height="8.23" fill="#fffdf9"/>
<rect x="335.73" y="117.89" width="8.41" height="8.23" fill="#fff5e1"/>
<rect x="344.11" y="117.89" width="58.73" height="8.23" fill="#fffdf9"/>
<rect x="402.83" y="117.89" width="20.8" height="8.23" fill="#fff5e1"/>
<rect x="147.2" y="126.1" width="12.41" height="8.23" fill="#fff5e1"/>
<rect x="159.59" y="126.1" width="50.35" height="8.23" fill="#fffdf9"/>
<rect x="209.91" y="126.1" width="33.57" height="8.23" fill="#fff5e1"/>
<rect x="243.46" y="126.1" width="92.28" height="8.23" fill="#fffdf9"/>
<rect x="335.73" y="126.1" width="8.41" height="8.23" fill="#fff5e1"/>
<rect x="344.11" y="126.1" width="50.35" height="8.23" fill="#fffdf9"/>
<rect x="394.44" y="126.1" width="29.18" height="8.23" fill="#fff5e1"/>
<rect x="147.2" y="134.31" width="12.41" height="8.23" fill="#f5f7fd"/>
<rect x="159.59" y="134.31" width="41.96" height="8.23" fill="#fffdf9"/>
<rect x="201.52" y="134.31" width="8.41" height="8.23" fill="#f5f7fd"/>
<rect x="209.91" y="134.31" width="16.8" height="8.23" fill="#fff5e1"/>
<rect x="226.69" y="134.31" width="8.41" height="8.23" fill="#fffdf9"/>
<rect x="235.07" y="134.31" width="8.41" height="8.23" fill="#fff5e1"/>
<rect x="243.46" y="134.31" width="50.35" height="8.23" fill="#fffdf9"/>
<rect x="293.79" y="134.31" width="8.41" height="8.23" fill="#fff5e1"/>
<rect x="302.18" y="134.31" width="33.57" height="8.23" fill="#fffdf9"/>
<rect x="335.73" y="134.31" width="8.41" height="8.23" fill="#fff5e1"/>
<rect x="344.11" y="134.31" width="58.73" height="8.23" fill="#fffdf9"/>
<rect x="402.83" y="134.31" width="20.8" height="8.23" fill="#fff5e1"/>
<rect x="147.2" y="142.52" width="12.41" height="8.23" fill="#ffe8bd"/>
<rect x="159.59" y="142.52" width="25.18" height="8.23" fill="#fff5e1"/>
<rect x="184.75" y="142.52" width="25.18" height="8.23" fill="#fffdf9"/>
<rect x="209.91" y="142.52" width="8.41" height="8.23" fill="#ffe8bd"/>
<rect x="218.3" y="142.52" width="8.41" height="8.23" fill="#fff5e1"/>
<rect x="226.69" y="142.52" width="8.41" height="8.23" fill="#ffe8bd"/>
<rect x="235.07" y="142.52" width="16.8" height="8.23" fill="#fff5e1"/>
<rect x="251.85" y="142.52" width="8.41" height="8.23" fill="#fffdf9"/>
<rect x="260.24" y="142.52" width="8.41" height="8.23" fill="#f5f7fd"/>
<rect x="268.62" y="142.52" width="8.41" height="8.23" fill="#fffdf9"/>
<rect x="277.01" y="142.52" width="16.8" height="8.23" fill="#f5f7fd"/>
<rect x="293.79" y="142.52" width="8.41" height="8.23" fill="#fff5e1"/>
<rect x="302.18" y="142.52" width="75.51" height="8.23" fill="#f5f7fd"/>
<rect x="377.66" y="142.52" width="8.41" height="8.23" fill="#fffdf9"/>
<rect x="386.05" y="142.52" width="16.8" height="8.23" fill="#f5f7fd"/>
<rect x="402.83" y="142.52" width="20.8" height="8.23" fill="#fff5e1"/>
<rect x="147.2" y="150.73" width="12.41" height="8.23" fill="#d3ddf6"/>
<rect x="159.59" y="150.73" width="16.8" height="8.23" fill="#fff5e1"/>
<rect x="176.36" y="150.73" width="8.41" height="8.23" fill="#fffdf9"/>
<rect x="184.75" y="150.73" width="8.41" height="8.23" fill="#d3ddf6"/>
<rect x="193.14" y="150.73" width="8.41" height="8.23" fill="#fffdf9"/>
<rect x="201.52" y="150.73" width="16.8" height="8.23" fill="#fff5e1"/>
<rect x="218.3" y="150.73" width="16.8" height="8.23" fill="#f5f7fd"/>
<rect x="235.07" y="150.73" width="16.8" height="8.23" fill="#ffe8bd"/>
<rect x="251.85" y="150.73" width="8.41" height="8.23" fill="#fff5e1"/>
<rect x="260.24" y="150.73" width="8.41" height="8.23" fill="#d3ddf6"/>
<rect x="268.62" y="150.73" width="8.41" height="8.23" fill="#f5f7fd"/>
<rect x="277.01" y="150.73" width="25.18" height="8.23" fill="#d3ddf6"/>
<rect x="302.18" y="150.73" width="121.45" height="8.23" fill="#fff5e1"/>
<rect x="147.2" y="158.94" width="12.41" height="8.23" fill="#d3ddf6"/>
<rect x="159.59" y="158.94" width="16.8" height="8.23" fill="#fffdf9"/>
<rect x="176.36" y="158.94" width="41.96" height="8.23" fill="#f5f7fd"/>
<rect x="218.3" y="158.94" width="8.41" height="8.23" fill="#fffdf9"/>
<rect x="226.69" y="158.94" width="8.41" height="8.23" fill="#d3ddf6"/>
<rect x="235.07" y="158.94" width="8.41" height="8.23" fill="#fff5e1"/>
<rect x="243.46" y="158.94" width="16.8" height="8.23" fill="#fffdf9"/>
<rect x="260.24" y="158.94" width="8.41" height="8.23" fill="#f5f7fd"/>
<rect x="268.62" y="158.94" width="41.96" height="8.23" fill="#fffdf9"/>
<rect x="310.56" y="158.94" width="33.57" height="8.23" fill="#fff5e1"/>
<rect x="344.11" y="158.94" width="8.41" height="8.23" fill="#f5f7fd"/>
<rect x="352.5" y="158.94" width="16.8" height="8.23" fill="#fffdf9"/>
<rect x="369.27" y="158.94" width="8.41" height="8.23" fill="#f5f7fd"/>
<rect x="377.66" y="158.94" width="25.18" height="8.23" fill="#fffdf9"/>
<rect x="402.83" y="158.94" width="20.8" height="8.23" fill="#fff5e1"/>
<rect x="147.2" y="167.15" width="12.41" height="8.23" fill="#adc2ee"/>
<rect x="159.59" y="167.15" width="8.41" height="8.23" fill="#f5f7fd"/>
<rect x="167.97" y="167.15" width="8.41" height="8.23" fill="#fffdf9"/>
<rect x="176.36" y="167.15" width="8.41" height="8.23" fill="#f5f7fd"/>
<rect x="184.75" y="167.15" width="8.41" height="8.23" fill="#d3ddf6"/>
<rect x="193.14" y="167.15" width="8.41" height="8.23" fill="#f5f7fd"/>
<rect x="201.52" y="167.15" width="16.8" height="8.23" fill="#d3ddf6"/>
<rect x="218.3" y="167.15" width="8.41" height="8.23" fill="#f5f7fd"/>
<rect x="226.69" y="167.15" width="8.41" height="8.23" fill="#d3ddf6"/>
<rect x="235.07" y="167.15" width="8.41" height="8.23" fill="#fff5e1"/>
<rect x="243.46" y="167.15" width="8.41" height="8.23" fill="#fffdf9"/>
<rect x="251.85" y="167.15" width="8.41" height="8.23" fill="#f5f7fd"/>
<rect x="260.24" y="167.15" width="8.41" height="8.23" fill="#d3ddf6"/>
<rect x="268.62" y="167.15" width="8.41" height="8.23" fill="#f5f7fd"/>
<rect x="277.01" y="167.15" width="16.8" height="8.23" fill="#fffdf9"/>
<rect x="293.79" y="167.15" width="8.41" height="8.23" fill="#d3ddf6"/>
<rect x="302.18" y="167.15" width="41.96" height="8.23" fill="#fff5e1"/>
<rect x="344.11" y="167.15" width="8.41" height="8.23" fill="#f5f7fd"/>
<rect x="352.5" y="167.15" width="8.41" height="8.23" fill="#fffdf9"/>
<rect x="360.89" y="167.15" width="8.41" height="8.23" fill="#f5f7fd"/>
<rect x="369.27" y="167.15" width="16.8" height="8.23" fill="#fffdf9"/>
<rect x="386.05" y="167.15" width="37.57" height="8.23" fill="#fff5e1"/>
<rect x="147.2" y="175.36" width="12.41" height="8.23" fill="#d3ddf6"/>
<rect x="159.59" y="175.36" width="16.8" height="8.23" fill="#fffdf9"/>
<rect x="176.36" y="175.36" width="8.41" height="8.23" fill="#f5f7fd"/>
<rect x="184.75" y="175.36" width="16.8" height="8.23" fill="#fffdf9"/>
<rect x="201.52" y="175.36" width="8.41" height="8.23" fill="#d3ddf6"/>
<rect x="209.91" y="175.36" width="8.41" height="8.23" fill="#f5f7fd"/>
<rect x="218.3" y="175.36" width="8.41" height="8.23" fill="#fffdf9"/>
<rect x="226.69" y="175.36" width="8.41" height="8.23" fill="#f5f7fd"/>
<rect x="235.07" y="175.36" width="8.41" height="8.23" fill="#fff5e1"/>
<rect x="243.46" y="175.36" width="8.41" height="8.23" fill="#f5f7fd"/>
<rect x="251.85" y="175.36" width="8.41" height="8.23" fill="#fffdf9"/>
<rect x="260.24" y="175.36" width="8.41" height="8.23" fill="#f5f7fd"/>
<rect x="268.62" y="175.36" width="16.8" height="8.23" fill="#fffdf9"/>
<rect x="285.4" y="175.36" width="8.41" height="8.23" fill="#f5f7fd"/>
<rect x="293.79" y="175.36" width="8.41" height="8.23" fill="#d3ddf6"/>
<rect x="302.18" y="175.36" width="8.41" height="8.23" fill="#fffdf9"/>
<rect x="310.56" y="175.36" width="33.57" height="8.23" fill="#fff5e1"/>
<rect x="344.11" y="175.36" width="8.41" height="8.23" fill="#f5f7fd"/>
<rect x="352.5" y="175.36" width="16.8" height="8.23" fill="#fff5e1"/>
<rect x="369.27" y="175.36" width="8.41" height="8.23" fill="#fffdf9"/>
<rect x="377.66" y="175.36" width="45.96" height="8.23" fill="#fff5e1"/>
<rect x="147.2" y="183.57" width="12.41" height="8.23" fill="#d3ddf6"/>
<rect x="159.59" y="183.57" width="16.8" height="8.23" fill="#fffdf9"/>
<rect x="176.36" y="183.57" width="8.41" height="8.23" fill="#d3ddf6"/>
<rect x="184.75" y="183.57" width="16.8" height="8.23" fill="#fffdf9"/>
<rect x="201.52" y="183.57" width="16.8" height="8.23" fill="#d3ddf6"/>
<rect x="218.3" y="183.57" width="8.41" height="8.23" fill="#fffdf9"/>
<rect x="226.69" y="183.57" width="8.41" height="8.23" fill="#d3ddf6"/>
<rect x="235.07" y="183.57" width="16.8" height="8.23" fill="#fff5e1"/>
<rect x="251.85" y="183.57" width="8.41" height="8.23" fill="#f5f7fd"/>
<rect x="260.24" y="183.57" width="8.41" height="8.23" fill="#d3ddf6"/>
<rect x="268.62" y="183.57" width="8.41" height="8.23" fill="#f5f7fd"/>
<rect x="277.01" y="183.57" width="16.8" height="8.23" fill="#fffdf9"/>
<rect x="293.79" y="183.57" width="8.41" height="8.23" fill="#d3ddf6"/>
<rect x="302.18" y="183.57" width="8.41" height="8.23" fill="#fffdf9"/>
<rect x="310.56" y="183.57" width="58.73" height="8.23" fill="#fff5e1"/>
<rect x="369.27" y="183.57" width="8.41" height="8.23" fill="#f5f7fd"/>
<rect x="377.66" y="183.57" width="45.96" height="8.23" fill="#fff5e1"/>
<rect x="147.2" y="191.78" width="12.41" height="8.23" fill="#f5f7fd"/>
<rect x="159.59" y="191.78" width="16.8" height="8.23" fill="#fff5e1"/>
<rect x="176.36" y="191.78" width="8.41" height="8.23" fill="#fffdf9"/>
<rect x="184.75" y="191.78" width="8.41" height="8.23" fill="#fff5e1"/>
<rect x="193.14" y="191.78" width="8.41" height="8.23" fill="#fffdf9"/>
<rect x="201.52" y="191.78" width="8.41" height="8.23" fill="#f5f7fd"/>
<rect x="209.91" y="191.78" width="8.41" height="8.23" fill="#fff5e1"/>
<rect x="218.3" y="191.78" width="8.41" height="8.23" fill="#f5f7fd"/>
<rect x="226.69" y="191.78" width="8.41" height="8.23" fill="#fffdf9"/>
<rect x="235.07" y="191.78" width="16.8" height="8.23" fill="#ffe8bd"/>
<rect x="251.85" y="191.78" width="8.41" height="8.23" fill="#fff5e1"/>
<rect x="260.24" y="191.78" width="16.8" height="8.23" fill="#f5f7fd"/>
<rect x="277.01" y="191.78" width="25.18" height="8.23" fill="#d3ddf6"/>
<rect x="302.18" y="191.78" width="121.45" height="8.23" fill="#fff5e1"/>
<rect x="147.2" y="199.99" width="12.41" height="12.23" fill="#fff5e1"/>
<rect x="159.59" y="199.99" width="16.8" height="12.23" fill="#ffe8bd"/>
<rect x="176.36" y="199.99" width="8.41" height="12.23" fill="#fff5e1"/>
<rect x="184.75" y="199.99" width="8.41" height="12.23" fill="#ffd88c"/>
<rect x="193.14" y="199.99" width="8.41" height="12.23" fill="#ffe8bd"/>
<rect x="201.52" y="199.99" width="8.41" height="12.23" fill="#ffd88c"/>
<rect x="209.91" y="199.99" width="8.41" height="12.23" fill="#f5f7fd"/>
<rect x="218.3" y="199.99" width="8.41" height="12.23" fill="#d3ddf6"/>
<rect x="226.69" y="199.99" width="8.41" height="12.23" fill="#f5f7fd"/>
<rect x="235.07" y="199.99" width="16.8" height="12.23" fill="#ffd88c"/>
<rect x="251.85" y="199.99" width="8.41" height="12.23" fill="#ffe8bd"/>
<rect x="260.24" y="199.99" width="25.18" height="12.23" fill="#fff5e1"/>
<rect x="285.4" y="199.99" width="8.41" height="12.23" fill="#ffe8bd"/>
<rect x="293.79" y="199.99" width="8.41" height="12.23" fill="#adc2ee"/>
<rect x="302.18" y="199.99" width="8.41" height="12.23" fill="#d3ddf6"/>
<rect x="310.56" y="199.99" width="8.41" height="12.23" fill="#fff5e1"/>
<rect x="318.95" y="199.99" width="8.41" height="12.23" fill="#ffe8bd"/>
<rect x="327.34" y="199.99" width="8.41" height="12.23" fill="#ffd88c"/>
<rect x="335.73" y="199.99" width="25.18" height="12.23" fill="#d3ddf6"/>
<rect x="360.89" y="199.99" width="8.41" height="12.23" fill="#f5f7fd"/>
<rect x="369.27" y="199.99" width="25.18" height="12.23" fill="#d3ddf6"/>
<rect x="394.44" y="199.99" width="8.41" height="12.23" fill="#f5f7fd"/>
<rect x="402.83" y="199.99" width="8.41" height="12.23" fill="#fff5e1"/>
<rect x="411.21" y="199.99" width="12.41" height="12.23" fill="#d3ddf6"/>
</g></g>
<clipPath id="cp5"><rect x="151.2" y="209.8" width="268.4" height="69.2"/></clipPath>
<g clip-path="url(#cp5)"><g filter="url(#bl)">
<rect x="147.2" y="205.8" width="276.4" height="77.2" fill="#fff"/>
<rect x="147.2" y="205.8" width="12.41" height="12.67" fill="#d6e0f7"/>
<rect x="159.59" y="205.8" width="16.8" height="12.67" fill="#fff3dd"/>
<rect x="176.36" y="205.8" width="8.41" height="12.67" fill="#f9fafe"/>
<rect x="184.75" y="205.8" width="16.8" height="12.67" fill="#ffe7b9"/>
<rect x="201.52" y="205.8" width="8.41" height="12.67" fill="#f9fafe"/>
<rect x="209.91" y="205.8" width="16.8" height="12.67" fill="#d6e0f7"/>
<rect x="226.69" y="205.8" width="16.8" height="12.67" fill="#f9fafe"/>
<rect x="243.46" y="205.8" width="8.41" height="12.67" fill="#d6e0f7"/>
<rect x="251.85" y="205.8" width="8.41" height="12.67" fill="#f9fafe"/>
<rect x="260.24" y="205.8" width="8.41" height="12.67" fill="#ffd688"/>
<rect x="268.62" y="205.8" width="8.41" height="12.67" fill="#ffe7b9"/>
<rect x="277.01" y="205.8" width="16.8" height="12.67" fill="#f9fafe"/>
<rect x="293.79" y="205.8" width="8.41" height="12.67" fill="#d6e0f7"/>
<rect x="302.18" y="205.8" width="8.41" height="12.67" fill="#f9fafe"/>
<rect x="310.56" y="205.8" width="8.41" height="12.67" fill="#fff3dd"/>
<rect x="318.95" y="205.8" width="16.8" height="12.67" fill="#f9fafe"/>
<rect x="335.73" y="205.8" width="8.41" height="12.67" fill="#fff3dd"/>
<rect x="344.11" y="205.8" width="16.8" height="12.67" fill="#ffe7b9"/>
<rect x="360.89" y="205.8" width="8.41" height="12.67" fill="#fff3dd"/>
<rect x="369.27" y="205.8" width="33.57" height="12.67" fill="#ffe7b9"/>
<rect x="402.83" y="205.8" width="20.8" height="12.67" fill="#d6e0f7"/>
<rect x="147.2" y="218.45" width="12.41" height="8.67" fill="#f9fafe"/>
<rect x="159.59" y="218.45" width="8.41" height="8.67" fill="#ffe7b9"/>
<rect x="167.97" y="218.45" width="8.41" height="8.67" fill="#fff3dd"/>
<rect x="176.36" y="218.45" width="8.41" height="8.67" fill="#f9fafe"/>
<rect x="184.75" y="218.45" width="16.8" height="8.67" fill="#ffe7b9"/>
<rect x="201.52" y="218.45" width="8.41" height="8.67" fill="#fff3dd"/>
<rect x="209.91" y="218.45" width="25.18" height="8.67" fill="#f9fafe"/>
<rect x="235.07" y="218.45" width="8.41" height="8.67" fill="#d6e0f7"/>
<rect x="243.46" y="218.45" width="16.8" height="8.67" fill="#fff3dd"/>
<rect x="260.24" y="218.45" width="16.8" height="8.67" fill="#ffe7b9"/>
<rect x="277.01" y="218.45" width="25.18" height="8.67" fill="#fff3dd"/>
<rect x="302.18" y="218.45" width="8.41" height="8.67" fill="#f9fafe"/>
<rect x="310.56" y="218.45" width="8.41" height="8.67" fill="#fffbf5"/>
<rect x="318.95" y="218.45" width="8.41" height="8.67" fill="#f9fafe"/>
<rect x="327.34" y="218.45" width="16.8" height="8.67" fill="#fff3dd"/>
<rect x="344.11" y="218.45" width="16.8" height="8.67" fill="#ffe7b9"/>
<rect x="360.89" y="218.45" width="16.8" height="8.67" fill="#fff3dd"/>
<rect x="377.66" y="218.45" width="16.8" height="8.67" fill="#ffe7b9"/>
<rect x="394.44" y="218.45" width="8.41" height="8.67" fill="#fff3dd"/>
<rect x="402.83" y="218.45" width="8.41" height="8.67" fill="#d6e0f7"/>
<rect x="411.21" y="218.45" width="12.41" height="8.67" fill="#b1c4ef"/>
<rect x="147.2" y="227.1" width="29.18" height="8.67" fill="#fff3dd"/>
<rect x="176.36" y="227.1" width="8.41" height="8.67" fill="#fffbf5"/>
<rect x="184.75" y="227.1" width="16.8" height="8.67" fill="#ffe7b9"/>
<rect x="201.52" y="227.1" width="16.8" height="8.67" fill="#fff3dd"/>
<rect x="218.3" y="227.1" width="8.41" height="8.67" fill="#d6e0f7"/>
<rect x="226.69" y="227.1" width="8.41" height="8.67" fill="#f9fafe"/>
<rect x="235.07" y="227.1" width="8.41" height="8.67" fill="#d6e0f7"/>
<rect x="243.46" y="227.1" width="8.41" height="8.67" fill="#ffe7b9"/>
<rect x="251.85" y="227.1" width="8.41" height="8.67" fill="#fff3dd"/>
<rect x="260.24" y="227.1" width="16.8" height="8.67" fill="#ffe7b9"/>
<rect x="277.01" y="227.1" width="8.41" height="8.67" fill="#fff3dd"/>
<rect x="285.4" y="227.1" width="16.8" height="8.67" fill="#ffe7b9"/>
<rect x="302.18" y="227.1" width="41.96" height="8.67" fill="#f9fafe"/>
<rect x="344.11" y="227.1" width="16.8" height="8.67" fill="#ffe7b9"/>
<rect x="360.89" y="227.1" width="16.8" height="8.67" fill="#fff3dd"/>
<rect x="377.66" y="227.1" width="16.8" height="8.67" fill="#ffe7b9"/>
<rect x="394.44" y="227.1" width="8.41" height="8.67" fill="#fff3dd"/>
<rect x="402.83" y="227.1" width="20.8" height="8.67" fill="#d6e0f7"/>
<rect x="147.2" y="235.75" width="12.41" height="8.67" fill="#d6e0f7"/>
<rect x="159.59" y="235.75" width="8.41" height="8.67" fill="#f9fafe"/>
<rect x="167.97" y="235.75" width="8.41" height="8.67" fill="#fffbf5"/>
<rect x="176.36" y="235.75" width="8.41" height="8.67" fill="#f9fafe"/>
<rect x="184.75" y="235.75" width="16.8" height="8.67" fill="#fffbf5"/>
<rect x="201.52" y="235.75" width="8.41" height="8.67" fill="#f9fafe"/>
<rect x="209.91" y="235.75" width="8.41" height="8.67" fill="#d6e0f7"/>
<rect x="218.3" y="235.75" width="8.41" height="8.67" fill="#f9fafe"/>
<rect x="226.69" y="235.75" width="16.8" height="8.67" fill="#d6e0f7"/>
<rect x="243.46" y="235.75" width="8.41" height="8.67" fill="#f9fafe"/>
<rect x="251.85" y="235.75" width="8.41" height="8.67" fill="#fffbf5"/>
<rect x="260.24" y="235.75" width="16.8" height="8.67" fill="#ffe7b9"/>
<rect x="277.01" y="235.75" width="25.18" height="8.67" fill="#fff3dd"/>
<rect x="302.18" y="235.75" width="41.96" height="8.67" fill="#fffbf5"/>
<rect x="344.11" y="235.75" width="8.41" height="8.67" fill="#fff3dd"/>
<rect x="352.5" y="235.75" width="16.8" height="8.67" fill="#fffbf5"/>
<rect x="369.27" y="235.75" width="8.41" height="8.67" fill="#fff3dd"/>
<rect x="377.66" y="235.75" width="25.18" height="8.67" fill="#fffbf5"/>
<rect x="402.83" y="235.75" width="8.41" height="8.67" fill="#f9fafe"/>
<rect x="411.21" y="235.75" width="12.41" height="8.67" fill="#d6e0f7"/>
<rect x="147.2" y="244.4" width="12.41" height="8.67" fill="#fff3dd"/>
<rect x="159.59" y="244.4" width="8.41" height="8.67" fill="#ffe7b9"/>
<rect x="167.97" y="244.4" width="8.41" height="8.67" fill="#fff3dd"/>
<rect x="176.36" y="244.4" width="16.8" height="8.67" fill="#f9fafe"/>
<rect x="193.14" y="244.4" width="8.41" height="8.67" fill="#fffbf5"/>
<rect x="201.52" y="244.4" width="16.8" height="8.67" fill="#ffe7b9"/>
<rect x="218.3" y="244.4" width="8.41" height="8.67" fill="#fff3dd"/>
<rect x="226.69" y="244.4" width="8.41" height="8.67" fill="#f9fafe"/>
<rect x="235.07" y="244.4" width="8.41" height="8.67" fill="#d6e0f7"/>
<rect x="243.46" y="244.4" width="16.8" height="8.67" fill="#ffe7b9"/>
<rect x="260.24" y="244.4" width="8.41" height="8.67" fill="#f9fafe"/>
<rect x="268.62" y="244.4" width="33.57" height="8.67" fill="#ffe7b9"/>
<rect x="302.18" y="244.4" width="8.41" height="8.67" fill="#f9fafe"/>
<rect x="310.56" y="244.4" width="8.41" height="8.67" fill="#fff3dd"/>
<rect x="318.95" y="244.4" width="8.41" height="8.67" fill="#f9fafe"/>
<rect x="327.34" y="244.4" width="8.41" height="8.67" fill="#d6e0f7"/>
<rect x="335.73" y="244.4" width="8.41" height="8.67" fill="#fff3dd"/>
<rect x="344.11" y="244.4" width="16.8" height="8.67" fill="#f9fafe"/>
<rect x="360.89" y="244.4" width="8.41" height="8.67" fill="#d6e0f7"/>
<rect x="369.27" y="244.4" width="8.41" height="8.67" fill="#f9fafe"/>
<rect x="377.66" y="244.4" width="8.41" height="8.67" fill="#d6e0f7"/>
<rect x="386.05" y="244.4" width="8.41" height="8.67" fill="#fff3dd"/>
<rect x="394.44" y="244.4" width="8.41" height="8.67" fill="#d6e0f7"/>
<rect x="402.83" y="244.4" width="8.41" height="8.67" fill="#f9fafe"/>
<rect x="411.21" y="244.4" width="12.41" height="8.67" fill="#d6e0f7"/>
<rect x="147.2" y="253.05" width="12.41" height="8.67" fill="#d6e0f7"/>
<rect x="159.59" y="253.05" width="41.96" height="8.67" fill="#fffbf5"/>
<rect x="201.52" y="253.05" width="8.41" height="8.67" fill="#fff3dd"/>
<rect x="209.91" y="253.05" width="8.41" height="8.67" fill="#f9fafe"/>
<rect x="218.3" y="253.05" width="8.41" height="8.67" fill="#fffbf5"/>
<rect x="226.69" y="253.05" width="8.41" height="8.67" fill="#f9fafe"/>
<rect x="235.07" y="253.05" width="8.41" height="8.67" fill="#d6e0f7"/>
<rect x="243.46" y="253.05" width="16.8" height="8.67" fill="#fffbf5"/>
<rect x="260.24" y="253.05" width="8.41" height="8.67" fill="#fff3dd"/>
<rect x="268.62" y="253.05" width="8.41" height="8.67" fill="#ffe7b9"/>
<rect x="277.01" y="253.05" width="25.18" height="8.67" fill="#fff3dd"/>
<rect x="302.18" y="253.05" width="100.67" height="8.67" fill="#fffbf5"/>
<rect x="402.83" y="253.05" width="8.41" height="8.67" fill="#f9fafe"/>
<rect x="411.21" y="253.05" width="12.41" height="8.67" fill="#d6e0f7"/>
<rect x="147.2" y="261.7" width="12.41" height="8.67" fill="#d6e0f7"/>
<rect x="159.59" y="261.7" width="16.8" height="8.67" fill="#fffbf5"/>
<rect x="176.36" y="261.7" width="8.41" height="8.67" fill="#f9fafe"/>
<rect x="184.75" y="261.7" width="16.8" height="8.67" fill="#fffbf5"/>
<rect x="201.52" y="261.7" width="16.8" height="8.67" fill="#f9fafe"/>
<rect x="218.3" y="261.7" width="8.41" height="8.67" fill="#fffbf5"/>
<rect x="226.69" y="261.7" width="16.8" height="8.67" fill="#d6e0f7"/>
<rect x="243.46" y="261.7" width="8.41" height="8.67" fill="#f9fafe"/>
<rect x="251.85" y="261.7" width="8.41" height="8.67" fill="#fffbf5"/>
<rect x="260.24" y="261.7" width="16.8" height="8.67" fill="#ffe7b9"/>
<rect x="277.01" y="261.7" width="25.18" height="8.67" fill="#fff3dd"/>
<rect x="302.18" y="261.7" width="8.41" height="8.67" fill="#fffbf5"/>
<rect x="310.56" y="261.7" width="8.41" height="8.67" fill="#f9fafe"/>
<rect x="318.95" y="261.7" width="16.8" height="8.67" fill="#d6e0f7"/>
<rect x="335.73" y="261.7" width="16.8" height="8.67" fill="#fff3dd"/>
<rect x="352.5" y="261.7" width="8.41" height="8.67" fill="#fffbf5"/>
<rect x="360.89" y="261.7" width="8.41" height="8.67" fill="#f9fafe"/>
<rect x="369.27" y="261.7" width="8.41" height="8.67" fill="#fffbf5"/>
<rect x="377.66" y="261.7" width="16.8" height="8.67" fill="#fff3dd"/>
<rect x="394.44" y="261.7" width="16.8" height="8.67" fill="#d6e0f7"/>
<rect x="411.21" y="261.7" width="12.41" height="8.67" fill="#b1c4ef"/>
<rect x="147.2" y="270.35" width="12.41" height="12.67" fill="#f9fafe"/>
<rect x="159.59" y="270.35" width="8.41" height="12.67" fill="#fff3dd"/>
<rect x="167.97" y="270.35" width="8.41" height="12.67" fill="#fffbf5"/>
<rect x="176.36" y="270.35" width="16.8" height="12.67" fill="#fff3dd"/>
<rect x="193.14" y="270.35" width="8.41" height="12.67" fill="#fffbf5"/>
<rect x="201.52" y="270.35" width="16.8" height="12.67" fill="#f9fafe"/>
<rect x="218.3" y="270.35" width="8.41" height="12.67" fill="#fff3dd"/>
<rect x="226.69" y="270.35" width="8.41" height="12.67" fill="#f9fafe"/>
<rect x="235.07" y="270.35" width="8.41" height="12.67" fill="#d6e0f7"/>
<rect x="243.46" y="270.35" width="8.41" height="12.67" fill="#f9fafe"/>
<rect x="251.85" y="270.35" width="8.41" height="12.67" fill="#fffbf5"/>
<rect x="260.24" y="270.35" width="8.41" height="12.67" fill="#ffe7b9"/>
<rect x="268.62" y="270.35" width="33.57" height="12.67" fill="#fff3dd"/>
<rect x="302.18" y="270.35" width="16.8" height="12.67" fill="#fffbf5"/>
<rect x="318.95" y="270.35" width="16.8" height="12.67" fill="#d6e0f7"/>
<rect x="335.73" y="270.35" width="8.41" height="12.67" fill="#fff3dd"/>
<rect x="344.11" y="270.35" width="16.8" height="12.67" fill="#fffbf5"/>
<rect x="360.89" y="270.35" width="8.41" height="12.67" fill="#f9fafe"/>
<rect x="369.27" y="270.35" width="8.41" height="12.67" fill="#d6e0f7"/>
<rect x="377.66" y="270.35" width="8.41" height="12.67" fill="#f9fafe"/>
<rect x="386.05" y="270.35" width="8.41" height="12.67" fill="#fffbf5"/>
<rect x="394.44" y="270.35" width="16.8" height="12.67" fill="#d6e0f7"/>
<rect x="411.21" y="270.35" width="12.41" height="12.67" fill="#b1c4ef"/>
</g></g>
<clipPath id="cp6"><rect x="151.2" y="280.6" width="268.4" height="69"/></clipPath>
<g clip-path="url(#cp6)"><g filter="url(#bl)">
<rect x="147.2" y="276.6" width="276.4" height="77" fill="#fff"/>
<rect x="147.2" y="276.6" width="12.41" height="12.64" fill="#e3e9f9"/>
<rect x="159.59" y="276.6" width="16.8" height="12.64" fill="#fffcf7"/>
<rect x="176.36" y="276.6" width="8.41" height="12.64" fill="#e3e9f9"/>
<rect x="184.75" y="276.6" width="16.8" height="12.64" fill="#c0cff2"/>
<rect x="201.52" y="276.6" width="8.41" height="12.64" fill="#e3e9f9"/>
<rect x="209.91" y="276.6" width="16.8" height="12.64" fill="#c0cff2"/>
<rect x="226.69" y="276.6" width="8.41" height="12.64" fill="#e3e9f9"/>
<rect x="235.07" y="276.6" width="16.8" height="12.64" fill="#c0cff2"/>
<rect x="251.85" y="276.6" width="8.41" height="12.64" fill="#e3e9f9"/>
<rect x="260.24" y="276.6" width="8.41" height="12.64" fill="#c0cff2"/>
<rect x="268.62" y="276.6" width="8.41" height="12.64" fill="#e3e9f9"/>
<rect x="277.01" y="276.6" width="25.18" height="12.64" fill="#c0cff2"/>
<rect x="302.18" y="276.6" width="8.41" height="12.64" fill="#e3e9f9"/>
<rect x="310.56" y="276.6" width="8.41" height="12.64" fill="#c0cff2"/>
<rect x="318.95" y="276.6" width="16.8" height="12.64" fill="#e3e9f9"/>
<rect x="335.73" y="276.6" width="25.18" height="12.64" fill="#c0cff2"/>
<rect x="360.89" y="276.6" width="16.8" height="12.64" fill="#e3e9f9"/>
<rect x="377.66" y="276.6" width="8.41" height="12.64" fill="#fff0d3"/>
<rect x="386.05" y="276.6" width="25.18" height="12.64" fill="#c0cff2"/>
<rect x="411.21" y="276.6" width="12.41" height="12.64" fill="#e3e9f9"/>
<rect x="147.2" y="289.23" width="12.41" height="8.64" fill="#e3e9f9"/>
<rect x="159.59" y="289.23" width="16.8" height="8.64" fill="#fffcf7"/>
<rect x="176.36" y="289.23" width="8.41" height="8.64" fill="#e3e9f9"/>
<rect x="184.75" y="289.23" width="16.8" height="8.64" fill="#c0cff2"/>
<rect x="201.52" y="289.23" width="8.41" height="8.64" fill="#e3e9f9"/>
<rect x="209.91" y="289.23" width="58.73" height="8.64" fill="#c0cff2"/>
<rect x="268.62" y="289.23" width="8.41" height="8.64" fill="#e3e9f9"/>
<rect x="277.01" y="289.23" width="25.18" height="8.64" fill="#c0cff2"/>
<rect x="302.18" y="289.23" width="8.41" height="8.64" fill="#e3e9f9"/>
<rect x="310.56" y="289.23" width="8.41" height="8.64" fill="#c0cff2"/>
<rect x="318.95" y="289.23" width="16.8" height="8.64" fill="#e3e9f9"/>
<rect x="335.73" y="289.23" width="25.18" height="8.64" fill="#c0cff2"/>
<rect x="360.89" y="289.23" width="16.8" height="8.64" fill="#e3e9f9"/>
<rect x="377.66" y="289.23" width="8.41" height="8.64" fill="#fff0d3"/>
<rect x="386.05" y="289.23" width="25.18" height="8.64" fill="#c0cff2"/>
<rect x="411.21" y="289.23" width="12.41" height="8.64" fill="#e3e9f9"/>
<rect x="147.2" y="297.85" width="12.41" height="8.64" fill="#e3e9f9"/>
<rect x="159.59" y="297.85" width="16.8" height="8.64" fill="#fffcf7"/>
<rect x="176.36" y="297.85" width="8.41" height="8.64" fill="#ffdfa2"/>
<rect x="184.75" y="297.85" width="41.96" height="8.64" fill="#c0cff2"/>
<rect x="226.69" y="297.85" width="8.41" height="8.64" fill="#fffcf7"/>
<rect x="235.07" y="297.85" width="67.12" height="8.64" fill="#c0cff2"/>
<rect x="302.18" y="297.85" width="8.41" height="8.64" fill="#fffcf7"/>
<rect x="310.56" y="297.85" width="8.41" height="8.64" fill="#c0cff2"/>
<rect x="318.95" y="297.85" width="8.41" height="8.64" fill="#fffcf7"/>
<rect x="327.34" y="297.85" width="8.41" height="8.64" fill="#c0cff2"/>
<rect x="335.73" y="297.85" width="8.41" height="8.64" fill="#e3e9f9"/>
<rect x="344.11" y="297.85" width="16.8" height="8.64" fill="#c0cff2"/>
<rect x="360.89" y="297.85" width="25.18" height="8.64" fill="#fffcf7"/>
<rect x="386.05" y="297.85" width="25.18" height="8.64" fill="#c0cff2"/>
<rect x="411.21" y="297.85" width="12.41" height="8.64" fill="#e3e9f9"/>
<rect x="147.2" y="306.48" width="20.8" height="8.64" fill="#e3e9f9"/>
<rect x="167.97" y="306.48" width="8.41" height="8.64" fill="#fffcf7"/>
<rect x="176.36" y="306.48" width="8.41" height="8.64" fill="#e3e9f9"/>
<rect x="184.75" y="306.48" width="33.57" height="8.64" fill="#c0cff2"/>
<rect x="218.3" y="306.48" width="8.41" height="8.64" fill="#ffdfa2"/>
<rect x="226.69" y="306.48" width="75.51" height="8.64" fill="#c0cff2"/>
<rect x="302.18" y="306.48" width="8.41" height="8.64" fill="#fff0d3"/>
<rect x="310.56" y="306.48" width="16.8" height="8.64" fill="#fffcf7"/>
<rect x="327.34" y="306.48" width="8.41" height="8.64" fill="#fff0d3"/>
<rect x="335.73" y="306.48" width="16.8" height="8.64" fill="#fffcf7"/>
<rect x="352.5" y="306.48" width="33.57" height="8.64" fill="#fff0d3"/>
<rect x="386.05" y="306.48" width="8.41" height="8.64" fill="#fffcf7"/>
<rect x="394.44" y="306.48" width="8.41" height="8.64" fill="#fff0d3"/>
<rect x="402.83" y="306.48" width="20.8" height="8.64" fill="#c0cff2"/>
<rect x="147.2" y="315.1" width="12.41" height="8.64" fill="#c0cff2"/>
<rect x="159.59" y="315.1" width="8.41" height="8.64" fill="#e3e9f9"/>
<rect x="167.97" y="315.1" width="8.41" height="8.64" fill="#f2f5fc"/>
<rect x="176.36" y="315.1" width="8.41" height="8.64" fill="#fffcf7"/>
<rect x="184.75" y="315.1" width="8.41" height="8.64" fill="#c0cff2"/>
<rect x="193.14" y="315.1" width="33.57" height="8.64" fill="#e3e9f9"/>
<rect x="226.69" y="315.1" width="16.8" height="8.64" fill="#c0cff2"/>
<rect x="243.46" y="315.1" width="58.73" height="8.64" fill="#e3e9f9"/>
<rect x="302.18" y="315.1" width="33.57" height="8.64" fill="#fffcf7"/>
<rect x="335.73" y="315.1" width="16.8" height="8.64" fill="#f2f5fc"/>
<rect x="352.5" y="315.1" width="16.8" height="8.64" fill="#fffcf7"/>
<rect x="369.27" y="315.1" width="16.8" height="8.64" fill="#f2f5fc"/>
<rect x="386.05" y="315.1" width="16.8" height="8.64" fill="#e3e9f9"/>
<rect x="402.83" y="315.1" width="8.41" height="8.64" fill="#fff0d3"/>
<rect x="411.21" y="315.1" width="12.41" height="8.64" fill="#e3e9f9"/>
<rect x="147.2" y="323.73" width="12.41" height="8.64" fill="#c0cff2"/>
<rect x="159.59" y="323.73" width="8.41" height="8.64" fill="#fffcf7"/>
<rect x="167.97" y="323.73" width="8.41" height="8.64" fill="#f2f5fc"/>
<rect x="176.36" y="323.73" width="8.41" height="8.64" fill="#fffcf7"/>
<rect x="184.75" y="323.73" width="16.8" height="8.64" fill="#e3e9f9"/>
<rect x="201.52" y="323.73" width="8.41" height="8.64" fill="#fffcf7"/>
<rect x="209.91" y="323.73" width="8.41" height="8.64" fill="#e3e9f9"/>
<rect x="218.3" y="323.73" width="8.41" height="8.64" fill="#f2f5fc"/>
<rect x="226.69" y="323.73" width="8.41" height="8.64" fill="#c0cff2"/>
<rect x="235.07" y="323.73" width="25.18" height="8.64" fill="#e3e9f9"/>
<rect x="260.24" y="323.73" width="8.41" height="8.64" fill="#c0cff2"/>
<rect x="268.62" y="323.73" width="8.41" height="8.64" fill="#fffcf7"/>
<rect x="277.01" y="323.73" width="8.41" height="8.64" fill="#e3e9f9"/>
<rect x="285.4" y="323.73" width="16.8" height="8.64" fill="#c0cff2"/>
<rect x="302.18" y="323.73" width="8.41" height="8.64" fill="#fffcf7"/>
<rect x="310.56" y="323.73" width="16.8" height="8.64" fill="#e3e9f9"/>
<rect x="327.34" y="323.73" width="8.41" height="8.64" fill="#c0cff2"/>
<rect x="335.73" y="323.73" width="8.41" height="8.64" fill="#e3e9f9"/>
<rect x="344.11" y="323.73" width="8.41" height="8.64" fill="#c0cff2"/>
<rect x="352.5" y="323.73" width="8.41" height="8.64" fill="#e3e9f9"/>
<rect x="360.89" y="323.73" width="8.41" height="8.64" fill="#c0cff2"/>
<rect x="369.27" y="323.73" width="8.41" height="8.64" fill="#e3e9f9"/>
<rect x="377.66" y="323.73" width="8.41" height="8.64" fill="#c0cff2"/>
<rect x="386.05" y="323.73" width="8.41" height="8.64" fill="#e3e9f9"/>
<rect x="394.44" y="323.73" width="16.8" height="8.64" fill="#c0cff2"/>
<rect x="411.21" y="323.73" width="12.41" height="8.64" fill="#9ab4ea"/>
<rect x="147.2" y="332.35" width="12.41" height="8.64" fill="#c0cff2"/>
<rect x="159.59" y="332.35" width="16.8" height="8.64" fill="#f2f5fc"/>
<rect x="176.36" y="332.35" width="33.57" height="8.64" fill="#e3e9f9"/>
<rect x="209.91" y="332.35" width="8.41" height="8.64" fill="#f2f5fc"/>
<rect x="218.3" y="332.35" width="8.41" height="8.64" fill="#e3e9f9"/>
<rect x="226.69" y="332.35" width="8.41" height="8.64" fill="#f2f5fc"/>
<rect x="235.07" y="332.35" width="33.57" height="8.64" fill="#e3e9f9"/>
<rect x="268.62" y="332.35" width="8.41" height="8.64" fill="#f2f5fc"/>
<rect x="277.01" y="332.35" width="33.57" height="8.64" fill="#fffcf7"/>
<rect x="310.56" y="332.35" width="75.51" height="8.64" fill="#f2f5fc"/>
<rect x="386.05" y="332.35" width="37.57" height="8.64" fill="#e3e9f9"/>
<rect x="147.2" y="340.98" width="12.41" height="12.64" fill="#e3e9f9"/>
<rect x="159.59" y="340.98" width="8.41" height="12.64" fill="#fffcf7"/>
<rect x="167.97" y="340.98" width="8.41" height="12.64" fill="#f2f5fc"/>
<rect x="176.36" y="340.98" width="16.8" height="12.64" fill="#fffcf7"/>
<rect x="193.14" y="340.98" width="16.8" height="12.64" fill="#e3e9f9"/>
<rect x="209.91" y="340.98" width="16.8" height="12.64" fill="#c0cff2"/>
<rect x="226.69" y="340.98" width="8.41" height="12.64" fill="#e3e9f9"/>
<rect x="235.07" y="340.98" width="16.8" height="12.64" fill="#c0cff2"/>
<rect x="251.85" y="340.98" width="8.41" height="12.64" fill="#e3e9f9"/>
<rect x="260.24" y="340.98" width="16.8" height="12.64" fill="#ffdfa2"/>
<rect x="277.01" y="340.98" width="8.41" height="12.64" fill="#e3e9f9"/>
<rect x="285.4" y="340.98" width="16.8" height="12.64" fill="#c0cff2"/>
<rect x="302.18" y="340.98" width="8.41" height="12.64" fill="#fffcf7"/>
<rect x="310.56" y="340.98" width="8.41" height="12.64" fill="#e3e9f9"/>
<rect x="318.95" y="340.98" width="16.8" height="12.64" fill="#c0cff2"/>
<rect x="335.73" y="340.98" width="8.41" height="12.64" fill="#fff0d3"/>
<rect x="344.11" y="340.98" width="16.8" height="12.64" fill="#fffcf7"/>
<rect x="360.89" y="340.98" width="16.8" height="12.64" fill="#fff0d3"/>
<rect x="377.66" y="340.98" width="8.41" height="12.64" fill="#fffcf7"/>
<rect x="386.05" y="340.98" width="37.57" height="12.64" fill="#c0cff2"/>
</g></g>
<defs>
<filter id="nz" x="0" y="0" width="1" height="1" color-interpolation-filters="sRGB">
<feTurbulence type="fractalNoise" baseFrequency="0.7 0.004" numOctaves="2" seed="7"/>
<feColorMatrix type="matrix" values="1 0 0 0 0  1 0 0 0 0  1 0 0 0 0  0 0 0 0 1" result="t1"/>
<feTurbulence type="fractalNoise" baseFrequency="0.004 0.7" numOctaves="2" seed="11"/>
<feColorMatrix type="matrix" values="1 0 0 0 0  1 0 0 0 0  1 0 0 0 0  0 0 0 0 1" result="t2"/>
<feComposite in="t1" in2="t2" operator="arithmetic" k1="0" k2="0.72" k3="0.28" k4="0" result="t"/>
<feColorMatrix in="t" type="matrix" values="0 0 0 0 1  0 0 0 0 1  0 0 0 0 1  3.4 0 0 0 -1.45"/></filter></defs>
<rect x="32" y="44" width="117.6" height="164.2" fill="#fff" filter="url(#nz)"/>
<rect x="151.2" y="44" width="268.4" height="164.2" fill="#fff" filter="url(#nz)"/>
<rect x="32" y="209.8" width="117.6" height="69.2" fill="#fff" filter="url(#nz)"/>
<rect x="151.2" y="209.8" width="268.4" height="69.2" fill="#fff" filter="url(#nz)"/>
<rect x="32" y="280.6" width="117.6" height="69" fill="#fff" filter="url(#nz)"/>
<rect x="151.2" y="280.6" width="268.4" height="69" fill="#fff" filter="url(#nz)"/>
<rect x="151.3" y="44" width="4.2" height="27" fill="#fbd585" opacity="0.7"/>
<rect x="151.3" y="71" width="3.6" height="120" fill="#fde3b0" opacity="0.8"/>
<rect x="155.5" y="44" width="1.4" height="150" fill="#c5d6f2" opacity="0.6"/>
<path d="M80.4,23.6V19H194.7V21.9" fill="none" stroke="#333" stroke-width="0.5"/>
<path d="M74.5,21.2H154V29" fill="none" stroke="#b0b0b0" stroke-width="0.45"/>
<path d="M33,27V23.6H146V25.5" fill="none" stroke="#333" stroke-width="0.5"/>
<path d="M157.2,29.5V21.9H314V24.5" fill="none" stroke="#333" stroke-width="0.5"/>
<path d="M32.4,29.6V28.55H33.02V29.6M33.64,29.6V28.03H34.25V29.6M36.73,29.6V29.53H37.34V29.6M36.11,29.6V29.3H37.03V29.53M35.49,29.6V28.87H36.57V29.3M37.96,29.6V28.78H38.58V29.6M36.03,28.87V28.12H38.27V28.78M34.87,29.6V27.42H37.15V28.12M33.94,28.03V26.64H36.01V27.42M32.71,28.55V26.46H34.98V26.64M41.05,29.6V29.19H41.67V29.6M40.43,29.6V28.64H41.36V29.19M42.29,29.6V27.82H42.91V29.6M40.9,28.64V27.14H42.6V27.82M39.82,29.6V26.37H41.75V27.14M39.2,29.6V25.87H40.78V26.37M33.84,26.46V25.57H39.99V25.87M44.14,29.6V28.99H44.76V29.6M43.52,29.6V26.32H44.45V28.99M46,29.6V28.48H46.61V29.6M45.38,29.6V26.55H46.3V28.48M50.32,29.6V28.94H50.94V29.6M49.7,29.6V28.53H50.63V28.94M49.09,29.6V27.69H50.17V28.53M48.47,29.6V26.89H49.63V27.69M47.85,29.6V26.57H49.05V26.89M47.23,29.6V26.35H48.45V26.57M45.84,26.55V26.1H47.84V26.35M43.99,26.32V25.75H46.84V26.1M52.18,29.6V28.37H52.79V29.6M53.41,29.6V27.98H54.03V29.6M54.65,29.6V27.73H55.27V29.6M53.72,27.98V27.32H54.96V27.73M58.97,29.6V29.46H59.59V29.6M58.36,29.6V29.28H59.28V29.46M57.74,29.6V29.03H58.82V29.28M57.12,29.6V28.17H58.28V29.03M56.5,29.6V27.85H57.7V28.17M55.88,29.6V27.62H57.1V27.85M61.45,29.6V29.08H62.06V29.6M60.83,29.6V27.48H61.75V29.08M60.21,29.6V27.01H61.29V27.48M56.49,27.62V26.66H60.75V27.01M54.34,27.32V26.23H58.62V26.66M52.48,28.37V25.96H56.48V26.23M51.56,29.6V25.78H54.48V25.96M62.68,29.6V27.46H63.3V29.6M64.54,29.6V27.6H65.15V29.6M63.92,29.6V27.1H64.84V27.6M62.99,27.46V26H64.38V27.1M66.39,29.6V28.96H67.01V29.6M67.63,29.6V27.67H68.24V29.6M66.7,28.96V26.69H67.93V27.67M65.77,29.6V25.8H67.32V26.69M63.69,26V25.69H66.54V25.8M69.48,29.6V27.96H70.1V29.6M70.72,29.6V27.8H71.33V29.6M69.79,27.96V27.16H71.02V27.8M71.95,29.6V28.69H72.57V29.6M73.81,29.6V28.67H74.42V29.6M73.19,29.6V28.58H74.11V28.67M72.26,28.69V26.8H73.65V28.58M70.41,27.16V26.3H72.96V26.8M68.86,29.6V25.89H71.68V26.3M75.66,29.6V27.51H76.28V29.6M75.04,29.6V26.48H75.97V27.51M78.75,29.6V29.44H79.37V29.6M78.13,29.6V27.55H79.06V29.44M77.51,29.6V26.91H78.59V27.55M79.99,29.6V28.76H80.6V29.6M81.22,29.6V29.14H81.84V29.6M83.69,29.6V29.35H84.31V29.6M83.08,29.6V28.44H84V29.35M82.46,29.6V28.26H83.54V28.44M81.53,29.14V27.57H83V28.26M80.29,28.76V26.82H82.26V27.57M78.05,26.91V26.39H81.28V26.82M76.9,29.6V26.12H79.67V26.39M75.5,26.48V25.82H78.28V26.12M84.93,29.6V27.23H85.55V29.6M86.17,29.6V27.3H86.78V29.6M87.4,29.6V29.58H88.02V29.6M89.26,29.6V29.51H89.87V29.6M88.64,29.6V28.83H89.56V29.51M87.71,29.58V28.51H89.1V28.83M91.11,29.6V28.01H91.73V29.6M90.49,29.6V27.71H91.42V28.01M88.41,28.51V27.05H90.95V27.71M86.47,27.3V26.41H89.68V27.05M85.24,27.23V25.91H88.08V26.41M92.96,29.6V26.19H93.58V29.6M94.2,29.6V27.21H94.82V29.6M96.67,29.6V29.12H97.29V29.6M96.05,29.6V27.94H96.98V29.12M95.43,29.6V26.62H96.52V27.94M94.51,27.21V26.25H95.98V26.62M98.52,29.6V28.21H99.14V29.6M99.76,29.6V29.33H100.38V29.6M101.61,29.6V28.46H102.23V29.6M101,29.6V27.78H101.92V28.46M100.07,29.33V27.44H101.46V27.78M98.83,28.21V26.96H100.77V27.44M104.09,29.6V29.42H104.7V29.6M103.47,29.6V28.74H104.4V29.42M102.85,29.6V28.23H103.93V28.74M105.94,29.6V29.1H106.56V29.6M105.32,29.6V27.76H106.25V29.1M103.39,28.23V26.87H105.79V27.76M99.8,26.96V26.76H104.59V26.87M97.91,29.6V26.05H102.19V26.76M95.24,26.25V25.98H100.05V26.05M93.27,26.19V25.64H97.65V25.98M92.34,29.6V25.41H95.46V25.64M108.41,29.6V28.71H109.03V29.6M107.79,29.6V27.37H108.72V28.71M110.27,29.6V28.85H110.88V29.6M113.36,29.6V29.49H113.97V29.6M112.74,29.6V28.33H113.67V29.49M112.12,29.6V27.89H113.2V28.33M111.5,29.6V27.53H112.66V27.89M110.58,28.85V27.12H112.08V27.53M109.65,29.6V26.71H111.33V27.12M108.26,27.37V26.16H110.49V26.71M107.18,29.6V25.71H109.37V26.16M114.59,29.6V27.64H115.21V29.6M116.45,29.6V28.08H117.06V29.6M115.83,29.6V27.28H116.76V28.08M118.3,29.6V28.19H118.92V29.6M117.68,29.6V26.73H118.61V28.19M116.29,27.28V26.28H118.15V26.73M114.9,27.64V26.14H117.22V26.28M119.54,29.6V26.85H120.15V29.6M121.39,29.6V29.4H122.01V29.6M120.77,29.6V28.62H121.7V29.4M122.63,29.6V28.3H123.24V29.6M121.24,28.62V27.35H122.94V28.3M124.48,29.6V29.21H125.1V29.6M123.86,29.6V28.42H124.79V29.21M125.72,29.6V28.35H126.33V29.6M124.33,28.42V26.94H126.03V28.35M122.09,27.35V26.21H125.18V26.94M119.85,26.85V26.07H123.63V26.21M128.19,29.6V28.89H128.81V29.6M127.57,29.6V28.14H128.5V28.89M129.42,29.6V28.1H130.04V29.6M128.03,28.14V27.19H129.73V28.1M126.95,29.6V26.53H128.88V27.19M131.28,29.6V27.39H131.9V29.6M130.66,29.6V26.51H131.59V27.39M127.92,26.53V26.03H131.12V26.51M121.74,26.07V25.73H129.52V26.03M132.51,29.6V27.03H133.13V29.6M133.75,29.6V29.01H134.37V29.6M136.22,29.6V28.92H136.84V29.6M135.6,29.6V28.39H136.53V28.92M134.99,29.6V27.92H136.07V28.39M134.06,29.01V27.26H135.53V27.92M137.46,29.6V29.26H138.08V29.6M139.31,29.6V29.37H139.93V29.6M138.69,29.6V28.6H139.62V29.37M137.77,29.26V28.05H139.16V28.6M141.17,29.6V29.55H141.78V29.6M140.55,29.6V29.24H141.48V29.55M142.4,29.6V29.05H143.02V29.6M141.01,29.24V27.87H142.71V29.05M138.46,28.05V26.98H141.86V27.87M134.79,27.26V26.6H140.16V26.98M143.64,29.6V28.8H144.26V29.6M145.49,29.6V29.17H146.11V29.6M146.73,29.6V28.28H147.35V29.6M145.8,29.17V27.07H147.04V28.28M144.87,29.6V26.78H146.42V27.07M143.95,28.8V26.44H145.65V26.78M137.48,26.6V25.94H144.8V26.44M132.82,27.03V25.66H141.14V25.94M148.58,29.6V25.85H149.2V29.6M147.96,29.6V25.62H148.89V25.85" fill="none" stroke="#111" stroke-width="0.5"/>
<path d="M53.02,25.78V24.81H65.11V25.69M45.41,25.75V24.66H59.07V24.81M36.92,25.57V24.05H52.24V24.66M86.66,25.91V25.11H93.9V25.41M76.89,25.82V24.36H90.28V25.11M70.27,25.89V24.2H83.59V24.36M136.98,25.66V25.26H148.43V25.62M125.63,25.73V24.96H142.7V25.26M116.06,26.14V24.51H134.17V24.96M108.28,25.71V23.9H125.11V24.51M76.93,24.2V23.75H116.69V23.9M44.58,24.05V23.6H96.81V23.75" fill="none" stroke="#333" stroke-width="0.5"/>
<path d="M159.37,29.6V29.01H160V29.6M158.75,29.6V27.76H159.69V29.01M161.25,29.6V29.08H161.87V29.6M160.62,29.6V28.79H161.56V29.08M162.5,29.6V29.57H163.12V29.6M164.37,29.6V29.4H164.99V29.6M163.75,29.6V28.77H164.68V29.4M162.81,29.57V27.52H164.21V28.77M161.09,28.79V27.3H163.51V27.52M159.22,27.76V26.84H162.3V27.3M158.12,29.6V26.51H160.76V26.84M157.5,29.6V26.19H159.44V26.51M166.24,29.6V28.56H166.87V29.6M168.12,29.6V28.35H168.74V29.6M167.49,29.6V27.98H168.43V28.35M166.56,28.56V26.78H167.96V27.98M165.62,29.6V26.26H167.26V26.78M170.62,29.6V28.76H171.24V29.6M169.99,29.6V27.86H170.93V28.76M171.87,29.6V27.54H172.49V29.6M170.46,27.86V27.11H172.18V27.54M174.99,29.6V29.02H175.61V29.6M174.36,29.6V28.46H175.3V29.02M173.74,29.6V27.51H174.83V28.46M173.11,29.6V26.63H174.29V27.51M171.32,27.11V26.41H173.7V26.63M177.49,29.6V29.59H178.11V29.6M176.86,29.6V28.65H177.8V29.59M176.24,29.6V28.09H177.33V28.65M178.74,29.6V28.9H179.36V29.6M179.98,29.6V28.23H180.61V29.6M179.05,28.9V27.59H180.3V28.23M181.23,29.6V27.14H181.86V29.6M179.67,27.59V26.93H181.55V27.14M176.78,28.09V26.5H180.61V26.93M183.11,29.6V29.29H183.73V29.6M182.48,29.6V28.93H183.42V29.29M185.61,29.6V28.87H186.23V29.6M184.98,29.6V28.43H185.92V28.87M184.36,29.6V27.66H185.45V28.43M182.95,28.93V27.31H184.9V27.66M187.48,29.6V29.5H188.1V29.6M189.35,29.6V29.04H189.98V29.6M188.73,29.6V28H189.67V29.04M187.79,29.5V27.85H189.2V28M186.86,29.6V26.99H188.49V27.85M190.6,29.6V28.06H191.23V29.6M192.48,29.6V29.41H193.1V29.6M191.85,29.6V29.13H192.79V29.41M193.73,29.6V28.73H194.35V29.6M194.97,29.6V29.2H195.6V29.6M196.22,29.6V28.85H196.85V29.6M195.29,29.2V27.97H196.54V28.85M194.04,28.73V27.61H195.91V27.97M192.32,29.13V27.13H194.97V27.61M190.92,28.06V26.72H193.65V27.13M187.68,26.99V26.46H192.28V26.72M183.93,27.31V26.27H189.98V26.46M178.7,26.5V26.02H186.95V26.27M198.72,29.6V28.12H199.35V29.6M198.1,29.6V26.49H199.03V28.12M201.22,29.6V27.84H201.85V29.6M200.6,29.6V27.23H201.53V27.84M199.97,29.6V26.92H201.06V27.23M203.72,29.6V28.29H204.34V29.6M203.09,29.6V27.16H204.03V28.29M202.47,29.6V26.48H203.56V27.16M200.52,26.92V26.43H203.02V26.48M198.57,26.49V26.12H201.77V26.43M206.84,29.6V28.14H207.47V29.6M208.09,29.6V29.32H208.72V29.6M209.96,29.6V29.25H210.59V29.6M209.34,29.6V28.4H210.28V29.25M208.4,29.32V28.03H209.81V28.4M207.15,28.14V27.68H209.11V28.03M206.22,29.6V27.36H208.13V27.68M211.84,29.6V28.57H212.46V29.6M214.34,29.6V29.24H214.96V29.6M213.71,29.6V28.49H214.65V29.24M213.09,29.6V27.41H214.18V28.49M212.15,28.57V27.04H213.63V27.41M211.21,29.6V26.75H212.89V27.04M207.17,27.36V26.56H212.05V26.75M205.59,29.6V26.3H209.61V26.56M204.97,29.6V26.09H207.6V26.3M215.59,29.6V29.18H216.21V29.6M216.84,29.6V27.93H217.46V29.6M215.9,29.18V26.91H217.15V27.93M218.71,29.6V27.12H219.33V29.6M218.08,29.6V26.59H219.02V27.12M216.52,26.91V26.32H218.55V26.59M221.21,29.6V29.06H221.83V29.6M220.58,29.6V27.62H221.52V29.06M219.96,29.6V26.45H221.05V27.62M223.71,29.6V27.42H224.33V29.6M223.08,29.6V27.01H224.02V27.42M222.46,29.6V26.34H223.55V27.01M220.5,26.45V26.08H223V26.34M217.54,26.32V25.96H221.75V26.08M226.2,29.6V28.3H226.83V29.6M225.58,29.6V27.1H226.52V28.3M224.95,29.6V26.65H226.05V27.1M227.45,29.6V28.2H228.08V29.6M229.95,29.6V28.96H230.58V29.6M229.33,29.6V28.72H230.26V28.96M231.2,29.6V28.71H231.83V29.6M229.8,28.72V27.91H231.51V28.71M228.7,29.6V27.35H230.65V27.91M227.77,28.2V26.83H229.68V27.35M233.7,29.6V29.39H234.32V29.6M234.95,29.6V29.35H235.57V29.6M234.01,29.39V28.74H235.26V29.35M233.07,29.6V28.21H234.64V28.74M232.45,29.6V27.83H233.86V28.21M236.2,29.6V27.75H236.82V29.6M238.07,29.6V29.44H238.7V29.6M237.45,29.6V28.86H238.38V29.44M239.32,29.6V28.38H239.94V29.6M237.91,28.86V27.39H239.63V28.38M236.51,27.75V27.24H238.77V27.39M233.15,27.83V26.82H237.64V27.24M228.72,26.83V26.25H235.4V26.82M225.5,26.65V25.83H232.06V26.25M241.19,29.6V27.48H241.82V29.6M242.44,29.6V29.34H243.07V29.6M243.69,29.6V28.19H244.32V29.6M242.76,29.34V26.74H244V28.19M241.51,27.48V26.28H243.38V26.74M240.57,29.6V26.04H242.44V26.28M244.94,29.6V27.55H245.57V29.6M248.06,29.6V28.95H248.69V29.6M249.31,29.6V29.52H249.94V29.6M250.56,29.6V29.46H251.19V29.6M249.63,29.52V28.08H250.88V29.46M248.38,28.95V27.73H250.25V28.08M247.44,29.6V26.86H249.31V27.73M246.82,29.6V26.67H248.38V26.86M246.19,29.6V26.23H247.6V26.67M245.25,27.55V26.1H246.89V26.23M251.81,29.6V28.07H252.44V29.6M254.31,29.6V29.36H254.93V29.6M253.69,29.6V28.82H254.62V29.36M253.06,29.6V27.79H254.15V28.82M252.12,28.07V26.99H253.61V27.79M255.56,29.6V28.2H256.18V29.6M256.81,29.6V27.64H257.43V29.6M255.87,28.2V26.62H257.12V27.64M252.87,26.99V26.36H256.5V26.62M258.06,29.6V28.11H258.68V29.6M262.43,29.6V29.48H263.05V29.6M261.81,29.6V29.28H262.74V29.48M261.18,29.6V28.58H262.27V29.28M260.56,29.6V27.96H261.73V28.58M264.3,29.6V29.15H264.93V29.6M263.68,29.6V29.07H264.62V29.15M265.55,29.6V28.81H266.18V29.6M264.15,29.07V27.74H265.87V28.81M261.14,27.96V27.58H265.01V27.74M259.93,29.6V27.17H263.07V27.58M266.8,29.6V28.66H267.43V29.6M268.68,29.6V28.25H269.3V29.6M268.05,29.6V27.28H268.99V28.25M267.11,28.66V26.81H268.52V27.28M261.5,27.17V26.54H267.82V26.81M259.31,29.6V26.26H264.66V26.54M258.37,28.11V26.18H261.98V26.26M270.55,29.6V26.4H271.17V29.6M269.92,29.6V26.13H270.86V26.4M271.8,29.6V28.62H272.42V29.6M273.67,29.6V28.97H274.3V29.6M274.92,29.6V28.45H275.55V29.6M273.98,28.97V28.04H275.23V28.45M273.05,29.6V27.26H274.61V28.04M272.11,28.62V26.73H273.83V27.26M276.17,29.6V29.03H276.8V29.6M278.67,29.6V29.31H279.29V29.6M278.04,29.6V28.69H278.98V29.31M281.17,29.6V29.45H281.79V29.6M280.54,29.6V29.3H281.48V29.45M279.92,29.6V28.24H281.01V29.3M278.51,28.69V27.95H280.46V28.24M277.42,29.6V27.43H279.49V27.95M276.48,29.03V27.03H278.45V27.43M283.04,29.6V29.37H283.67V29.6M282.42,29.6V28.69H283.35V29.37M284.29,29.6V27.45H284.91V29.6M282.88,28.69V26.8H284.6V27.45M277.47,27.03V26.52H283.74V26.8M285.54,29.6V28.26H286.16V29.6M286.79,29.6V29.43H287.41V29.6M288.04,29.6V29H288.66V29.6M287.1,29.43V27.23H288.35V29M285.85,28.26V26.38H287.73V27.23M280.61,26.52V26.21H286.79V26.38M272.97,26.73V26.07H283.7V26.21M289.29,29.6V28.6H289.91V29.6M291.16,29.6V27.56H291.79V29.6M293.66,29.6V29.05H294.28V29.6M293.03,29.6V28.32H293.97V29.05M296.16,29.6V29.05H296.78V29.6M295.53,29.6V28.61H296.47V29.05M294.91,29.6V28.22H296V28.61M293.5,28.32V27.81H295.45V28.22M292.41,29.6V27.05H294.48V27.81M291.47,27.56V26.89H293.44V27.05M290.54,29.6V26.55H292.46V26.89M289.6,28.6V26.47H291.5V26.55M297.41,29.6V27.7H298.03V29.6M298.66,29.6V28.67H299.28V29.6M300.53,29.6V29.26H301.15V29.6M299.9,29.6V28.33H300.84V29.26M298.97,28.67V27.67H300.37V28.33M302.4,29.6V28.41H303.03V29.6M301.78,29.6V27.34H302.72V28.41M299.67,27.67V26.87H302.25V27.34M297.72,27.7V26.31H300.96V26.87M303.65,29.6V28.33H304.28V29.6M306.15,29.6V28.94H306.78V29.6M305.53,29.6V27.94H306.46V28.94M304.9,29.6V27.69H305.99V27.94M303.96,28.33V26.42H305.45V27.69M307.4,29.6V27.21H308.02V29.6M310.52,29.6V29.11H311.15V29.6M309.9,29.6V28.78H310.83V29.11M309.27,29.6V28.28H310.37V28.78M308.65,29.6V27.71H309.82V28.28M311.77,29.6V28.64H312.4V29.6M313.02,29.6V28.36H313.65V29.6M312.08,28.64V27.46H313.33V28.36M316.14,29.6V29.55H316.77V29.6M315.52,29.6V29.3H316.46V29.55M314.89,29.6V28.45H315.99V29.3M314.27,29.6V27.92H315.44V28.45M318.02,29.6V28.08H318.64V29.6M317.39,29.6V27.72H318.33V28.08M314.86,27.92V27.15H317.86V27.72M312.71,27.46V26.88H316.36V27.15M309.23,27.71V26.53H314.53V26.88M307.71,27.21V26.29H311.88V26.53M304.71,26.42V26.14H309.8V26.29M319.89,29.6V28.93H320.52V29.6M319.27,29.6V26.96H320.2V28.93M322.39,29.6V29.19H323.01V29.6M321.77,29.6V29.09H322.7V29.19M321.14,29.6V27.82H322.23V29.09M324.26,29.6V27.65H324.89V29.6M323.64,29.6V27.18H324.58V27.65M321.69,27.82V26.51H324.11V27.18M319.74,26.96V26.44H322.9V26.51M325.51,29.6V27.37H326.14V29.6M328.01,29.6V28.57H328.64V29.6M327.39,29.6V27.06H328.32V28.57M326.76,29.6V26.64H327.85V27.06M325.82,27.37V26.17H327.31V26.64M321.32,26.44V26.14H326.57V26.17M329.88,29.6V28.34H330.51V29.6M329.26,29.6V27.25H330.2V28.34M333.01,29.6V29.42H333.63V29.6M332.38,29.6V28.75H333.32V29.42M331.76,29.6V27.99H332.85V28.75M331.13,29.6V27.5H332.3V27.99M334.26,29.6V29.54H334.88V29.6M336.13,29.6V29.22H336.76V29.6M338,29.6V29.53H338.63V29.6M337.38,29.6V28.91H338.32V29.53M336.44,29.22V28.68H337.85V28.91M335.51,29.6V28.39H337.15V28.68M334.57,29.54V28.05H336.33V28.39M340.5,29.6V29.42H341.13V29.6M339.88,29.6V27.88H340.81V29.42M339.25,29.6V27.53H340.35V27.88M335.45,28.05V27.38H339.8V27.53M331.72,27.5V26.7H337.62V27.38M329.73,27.25V26.57H334.67V26.7M341.75,29.6V26.85H342.38V29.6M345.5,29.6V29.38H346.12V29.6M344.87,29.6V29.12H345.81V29.38M344.25,29.6V28.83H345.34V29.12M343.63,29.6V28.17H344.8V28.83M343,29.6V27.47H344.21V28.17M348.62,29.6V29.54H349.25V29.6M348,29.6V29.17H348.93V29.54M347.37,29.6V28.55H348.47V29.17M346.75,29.6V27.96H347.92V28.55M349.87,29.6V29.33H350.5V29.6M351.12,29.6V29.16H351.75V29.6M350.18,29.33V28.02H351.43V29.16M352.99,29.6V28.53H353.62V29.6M352.37,29.6V27.78H353.31V28.53M350.81,28.02V26.94H352.84V27.78M347.33,27.96V26.87H351.82V26.94M343.61,27.47V26.63H349.58V26.87M342.06,26.85V26.16H346.59V26.63M332.2,26.57V26.02H344.33V26.16M354.87,29.6V28.42H355.49V29.6M356.12,29.6V27.19H356.74V29.6M355.18,28.42V26.15H356.43V27.19M354.24,29.6V26.05H355.8V26.15M357.37,29.6V27.33H357.99V29.6M358.62,29.6V27.22H359.24V29.6M357.68,27.33V26.6H358.93V27.22M360.49,29.6V27.77H361.11V29.6M359.86,29.6V27.11H360.8V27.77M364.24,29.6V29.58H364.86V29.6M363.61,29.6V28.98H364.55V29.58M362.99,29.6V28.01H364.08V28.98M362.36,29.6V26.9H363.53V28.01M361.74,29.6V26.71H362.95V26.9M360.33,27.11V26.35H362.34V26.71M358.3,26.6V26.03H361.34V26.35M366.11,29.6V27.84H366.74V29.6M365.49,29.6V27.4H366.42V27.84M368.61,29.6V29.14H369.23V29.6M367.98,29.6V28.92H368.92V29.14M367.36,29.6V27.2H368.45V28.92M369.86,29.6V27.8H370.48V29.6M371.11,29.6V29.56H371.73V29.6M372.36,29.6V28.51H372.98V29.6M371.42,29.56V27.48H372.67V28.51M370.17,27.8V27.09H372.04V27.48M367.91,27.2V26.69H371.11V27.09M365.95,27.4V26.38H369.51V26.69M374.23,29.6V28.63H374.85V29.6M373.61,29.6V28.15H374.54V28.63M377.98,29.6V29.47H378.6V29.6M377.35,29.6V29.27H378.29V29.47M376.73,29.6V28.8H377.82V29.27M376.1,29.6V28.13H377.27V28.8M375.48,29.6V27.63H376.69V28.13M374.07,28.15V27H376.08V27.63M380.48,29.6V28.47H381.1V29.6M381.73,29.6V27.9H382.35V29.6M380.79,28.47V27.29H382.04V27.9M379.85,29.6V26.58H381.41V27.29M382.97,29.6V27.44H383.6V29.6M384.22,29.6V27.49H384.85V29.6M386.72,29.6V29.18H387.35V29.6M386.1,29.6V28.5H387.03V29.18M387.97,29.6V28.89H388.6V29.6M389.22,29.6V28.59H389.84V29.6M388.28,28.89V27.87H389.53V28.59M386.57,28.5V27.57H388.91V27.87M385.47,29.6V27.02H387.74V27.57M384.54,27.49V26.75H386.6V27.02M383.29,27.44V26.37H385.57V26.75M380.63,26.58V26.2H384.43V26.37M379.23,29.6V26.01H382.53V26.2M390.47,29.6V28.48H391.09V29.6M391.72,29.6V28.7H392.34V29.6M393.59,29.6V28.81H394.22V29.6M392.97,29.6V27.89H393.9V28.81M392.03,28.7V27.36H393.44V27.89M390.78,28.48V26.66H392.73V27.36M396.09,29.6V28.31H396.72V29.6M395.47,29.6V26.61H396.4V28.31M394.84,29.6V26.24H395.93V26.61M391.76,26.66V26.22H395.39V26.24M399.21,29.6V29.23H399.84V29.6M398.59,29.6V28.88H399.53V29.23M397.96,29.6V28.52H399.06V28.88M397.34,29.6V27.27H398.51V28.52M402.96,29.6V29.1H403.59V29.6M402.34,29.6V28.37H403.27V29.1M401.71,29.6V28.16H402.8V28.37M401.09,29.6V27.72H402.26V28.16M400.46,29.6V26.98H401.67V27.72M397.93,27.27V26.76H401.07V26.98M405.46,29.6V28.99H406.08V29.6M404.83,29.6V28.84H405.77V28.99M404.21,29.6V28.27H405.3V28.84M409.83,29.6V29.51H410.46V29.6M409.21,29.6V29.21H410.14V29.51M408.58,29.6V28.54H409.68V29.21M407.96,29.6V27.6H409.13V28.54M407.33,29.6V27.32H408.54V27.6M406.71,29.6V26.97H407.94V27.32M404.76,28.27V26.68H407.32V26.97M411.08,29.6V28.18H411.71V29.6M412.33,29.6V27.6H412.95V29.6M411.39,28.18V27.08H412.64V27.6M414.2,29.6V29.49H414.83V29.6M413.58,29.6V28.1H414.52V29.49M416.08,29.6V28.44H416.7V29.6M415.45,29.6V27.07H416.39V28.44M414.05,28.1V26.79H415.92V27.07M412.02,27.08V26.39H414.98V26.79M406.04,26.68V26.33H413.5V26.39M399.5,26.76V26.11H409.77V26.33M417.33,29.6V26.95H417.95V29.6M418.58,29.6V26.77H419.2V29.6M417.64,26.95V26.06H418.89V26.77" fill="none" stroke="#111" stroke-width="0.5"/>
<path d="M169.37,29.6V25.57H172.51V26.41M166.44,26.26V23.88H170.94V25.57M158.47,26.19V22.85H168.69V23.88M197.47,29.6V24.66H200.17V26.12M182.82,26.02V24.14H198.82V24.66M219.65,25.96V25.31H228.78V25.83M206.29,26.09V23.5H224.21V25.31M190.82,24.14V23.24H215.25V23.5M254.68,26.36V25.05H260.18V26.18M246.07,26.1V24.79H257.43V25.05M241.51,26.04V23.75H251.75V24.79M270.39,26.13V25.18H278.33V26.07M299.34,26.31V25.44H307.25V26.14M290.55,26.47V24.4H303.3V25.44M274.36,25.18V23.37H296.92V24.4M246.63,23.75V23.11H285.64V23.37M323.94,26.14V24.53H338.26V26.02M355.02,26.05V24.27H359.82V26.03M331.1,24.53V22.98H357.42V24.27M266.14,23.11V22.72H344.26V22.98M203.04,23.24V22.59H305.2V22.72M375.08,27V25.7H380.88V26.01M404.63,26.11V24.92H418.26V26.06M393.57,26.22V24.01H411.45V24.92M377.98,25.7V23.63H402.51V24.01M367.73,26.38V22.46H390.24V23.63M254.12,22.59V22.33H378.99V22.46M163.58,22.85V22.2H316.55V22.33" fill="none" stroke="#333" stroke-width="0.5"/>
<path d="M151.6,29.8V28.99H152.82V29.8M155.28,29.8V29.6H156.5V29.8M154.05,29.8V27.98H155.89V29.6" fill="none" stroke="#1a1a1a" stroke-width="0.5"/>
<path d="M152.21,28.99V25H154.97V27.98" fill="none" stroke="#333" stroke-width="0.5"/>
<rect x="31.8" y="30" width="387.8" height="5.9" fill="#3a80d5"/>
<rect x="31.8" y="30" width="2" height="5.9" fill="#5c5fa8"/>
<rect x="43.8" y="30" width="1.1" height="5.9" fill="#7a2e62"/>
<rect x="48" y="30" width="0.7" height="5.9" fill="#5c5fa8"/>
<rect x="51.3" y="30" width="0.7" height="5.9" fill="#5c5fa8"/>
<rect x="56" y="30" width="0.7" height="5.9" fill="#5c5fa8"/>
<rect x="59" y="30" width="0.6" height="5.9" fill="#5c5fa8"/>
<rect x="60.8" y="30" width="1.3" height="5.9" fill="#7a2e62"/>
<rect x="62.1" y="30" width="0.9" height="5.9" fill="#5c5fa8"/>
<rect x="63" y="30" width="2.3" height="5.9" fill="#7a2e62"/>
<rect x="78.2" y="30" width="0.6" height="5.9" fill="#5c5fa8"/>
<rect x="104" y="30" width="7" height="5.9" fill="#7a2e62"/>
<rect x="114" y="30" width="1.8" height="5.9" fill="#5c5fa8"/>
<rect x="120.3" y="30" width="1.6" height="5.9" fill="#7a2e62"/>
<rect x="121.9" y="30" width="2.9" height="5.9" fill="#5c5fa8"/>
<rect x="126" y="30" width="2" height="5.9" fill="#7a2e62"/>
<rect x="128" y="30" width="3.6" height="5.9" fill="#5c5fa8"/>
<rect x="141.6" y="30" width="8.1" height="5.9" fill="#7a2e62"/>
<rect x="149.7" y="30" width="1.3" height="5.9" fill="#fff"/>
<rect x="151" y="30" width="5.8" height="5.9" fill="#7a2e62"/>
<rect x="165.8" y="30" width="3.2" height="5.9" fill="#7a2e62"/>
<rect x="171.3" y="30" width="0.9" height="5.9" fill="#7a2e62"/>
<rect x="180.3" y="30" width="1.6" height="5.9" fill="#7a2e62"/>
<rect x="183" y="30" width="1.2" height="5.9" fill="#7a2e62"/>
<rect x="185.3" y="30" width="0.9" height="5.9" fill="#7a2e62"/>
<rect x="187.6" y="30" width="3.1" height="5.9" fill="#5c5fa8"/>
<rect x="199.8" y="30" width="1.1" height="5.9" fill="#7a2e62"/>
<rect x="210.2" y="30" width="1.8" height="5.9" fill="#5c5fa8"/>
<rect x="211" y="30" width="4.9" height="5.9" fill="#7a2e62"/>
<rect x="219" y="30" width="2.3" height="5.9" fill="#7a2e62"/>
<rect x="221.3" y="30" width="2.3" height="5.9" fill="#5c5fa8"/>
<rect x="229" y="30" width="2.7" height="5.9" fill="#7a2e62"/>
<rect x="233" y="30" width="1.9" height="5.9" fill="#7a2e62"/>
<rect x="239.9" y="30" width="3.1" height="5.9" fill="#5c5fa8"/>
<rect x="261.6" y="30" width="1.8" height="5.9" fill="#5c5fa8"/>
<rect x="301.7" y="30" width="1.8" height="5.9" fill="#7a2e62"/>
<rect x="308" y="30" width="1.8" height="5.9" fill="#7a2e62"/>
<rect x="316.2" y="30" width="1.8" height="5.9" fill="#7a2e62"/>
<rect x="320.7" y="30" width="1.3" height="5.9" fill="#5c5fa8"/>
<rect x="325.2" y="30" width="0.9" height="5.9" fill="#7a2e62"/>
<rect x="329.7" y="30" width="2.1" height="5.9" fill="#7a2e62"/>
<rect x="333.2" y="30" width="0.8" height="5.9" fill="#7a2e62"/>
<rect x="338.1" y="30" width="0.9" height="5.9" fill="#5c5fa8"/>
<rect x="349.9" y="30" width="1.1" height="5.9" fill="#7a2e62"/>
<rect x="356.2" y="30" width="9.8" height="5.9" fill="#7a2e62"/>
<rect x="368" y="30" width="5.9" height="5.9" fill="#7a2e62"/>
<rect x="375.9" y="30" width="1.3" height="5.9" fill="#7a2e62"/>
<rect x="381" y="30" width="1.1" height="5.9" fill="#7a2e62"/>
<rect x="382.1" y="30" width="0.8" height="5.9" fill="#dfe6f4"/>
<rect x="396.6" y="30" width="1.4" height="5.9" fill="#7a2e62"/>
<rect x="402.3" y="30" width="2.7" height="5.9" fill="#8a4a86"/>
<rect x="407.2" y="30" width="5.3" height="5.9" fill="#7a2e62"/>
<rect x="415.2" y="30" width="4.5" height="5.9" fill="#7a2e62"/>
<rect x="31.8" y="36.3" width="387.8" height="5.7" fill="#7467b0"/>
<rect x="47.6" y="36.3" width="1.4" height="5.7" fill="#f0825a"/>
<rect x="49" y="36.3" width="1" height="5.7" fill="#2bbf9c"/>
<rect x="50" y="36.3" width="1.7" height="5.7" fill="#7dc734"/>
<rect x="53.7" y="36.3" width="1.5" height="5.7" fill="#cc6aa8"/>
<rect x="59.9" y="36.3" width="1.1" height="5.7" fill="#7dc734"/>
<rect x="61" y="36.3" width="1.1" height="5.7" fill="#cc6aa8"/>
<rect x="63.9" y="36.3" width="1.8" height="5.7" fill="#7dc734"/>
<rect x="102.7" y="36.3" width="0.9" height="5.7" fill="#7dc734"/>
<rect x="103.6" y="36.3" width="2.4" height="5.7" fill="#1a87e0"/>
<rect x="107.6" y="36.3" width="2.1" height="5.7" fill="#cc6aa8"/>
<rect x="124.8" y="36.3" width="1.2" height="5.7" fill="#cc6aa8"/>
<rect x="127.1" y="36.3" width="0.9" height="5.7" fill="#7dc734"/>
<rect x="131.2" y="36.3" width="2.7" height="5.7" fill="#2bbf9c"/>
<rect x="146.8" y="36.3" width="1.8" height="5.7" fill="#cc6aa8"/>
<rect x="149.7" y="36.3" width="1.3" height="5.7" fill="#fff"/>
<rect x="151" y="36.3" width="1.3" height="5.7" fill="#1a87e0"/>
<rect x="153.2" y="36.3" width="4.5" height="5.7" fill="#1a87e0"/>
<rect x="157.7" y="36.3" width="1.3" height="5.7" fill="#4a78c8"/>
<rect x="184" y="36.3" width="1.7" height="5.7" fill="#1a87e0"/>
<rect x="185.7" y="36.3" width="1.6" height="5.7" fill="#7dc734"/>
<rect x="187.3" y="36.3" width="3.9" height="5.7" fill="#1a87e0"/>
<rect x="198.9" y="36.3" width="1.1" height="5.7" fill="#f0825a"/>
<rect x="202" y="36.3" width="3.7" height="5.7" fill="#1a87e0"/>
<rect x="208.8" y="36.3" width="1.8" height="5.7" fill="#1a87e0"/>
<rect x="210.6" y="36.3" width="1.7" height="5.7" fill="#7dc734"/>
<rect x="213.6" y="36.3" width="2.3" height="5.7" fill="#cc6aa8"/>
<rect x="215.9" y="36.3" width="5.4" height="5.7" fill="#1a87e0"/>
<rect x="221.3" y="36.3" width="1.4" height="5.7" fill="#7dc734"/>
<rect x="222.7" y="36.3" width="6.3" height="5.7" fill="#1a87e0"/>
<rect x="232.6" y="36.3" width="3.2" height="5.7" fill="#1a87e0"/>
<rect x="235.8" y="36.3" width="1.3" height="5.7" fill="#7dc734"/>
<rect x="237.1" y="36.3" width="2.8" height="5.7" fill="#1a87e0"/>
<rect x="242.1" y="36.3" width="2.3" height="5.7" fill="#1a87e0"/>
<rect x="249.8" y="36.3" width="2" height="5.7" fill="#1a87e0"/>
<rect x="251.8" y="36.3" width="1.2" height="5.7" fill="#cc6aa8"/>
<rect x="259.8" y="36.3" width="2.7" height="5.7" fill="#7dc734"/>
<rect x="288" y="36.3" width="3.3" height="5.7" fill="#1a87e0"/>
<rect x="294" y="36.3" width="6.3" height="5.7" fill="#1a87e0"/>
<rect x="302" y="36.3" width="2.2" height="5.7" fill="#cc6aa8"/>
<rect x="304.2" y="36.3" width="2" height="5.7" fill="#1a87e0"/>
<rect x="311.6" y="36.3" width="1.8" height="5.7" fill="#cc6aa8"/>
<rect x="314.8" y="36.3" width="1.4" height="5.7" fill="#cc6aa8"/>
<rect x="322.5" y="36.3" width="1.6" height="5.7" fill="#cc6aa8"/>
<rect x="326.1" y="36.3" width="1.8" height="5.7" fill="#7dc734"/>
<rect x="332.7" y="36.3" width="1.3" height="5.7" fill="#cc6aa8"/>
<rect x="335.9" y="36.3" width="4.1" height="5.7" fill="#1a87e0"/>
<rect x="354.9" y="36.3" width="0.9" height="5.7" fill="#1a87e0"/>
<rect x="355.8" y="36.3" width="1.2" height="5.7" fill="#7dc734"/>
<rect x="362.1" y="36.3" width="2.1" height="5.7" fill="#cc6aa8"/>
<rect x="368" y="36.3" width="1.4" height="5.7" fill="#7dc734"/>
<rect x="379.3" y="36.3" width="1.7" height="5.7" fill="#cc6aa8"/>
<rect x="395" y="36.3" width="2.7" height="5.7" fill="#1a87e0"/>
<rect x="398.9" y="36.3" width="0.7" height="5.7" fill="#7dc734"/>
<rect x="399.6" y="36.3" width="1.5" height="5.7" fill="#1a87e0"/>
<rect x="401.1" y="36.3" width="2.3" height="5.7" fill="#7dc734"/>
<rect x="405.3" y="36.3" width="1.9" height="5.7" fill="#1a87e0"/>
<rect x="408" y="36.3" width="3" height="5.7" fill="#1a87e0"/>
<rect x="412.2" y="36.3" width="7.5" height="5.7" fill="#1a87e0"/>
<line x1="31.8" y1="36.1" x2="419.6" y2="36.1" stroke="#ffffff" stroke-width="0.4"/>
<rect x="23.9" y="44.5" width="4" height="163.3" fill="#a8a8a8"/>
<rect x="24.2" y="210.2" width="3.7" height="68.4" fill="#a0a0a0"/>
<rect x="24.2" y="281" width="3.7" height="68.2" fill="#a0a0a0"/>
<path d="M31,44.5H25.74V44.81H31M31,45.13H29.99V45.44H31M31,45.76H29.16V46.07H31M31,46.39H30.92V46.7H31M31,47.02H29.96V47.33H31M30.92,46.55H28.73V47.17H29.96M29.16,45.92H27.73V46.86H28.73M31,47.96H29.71V48.28H31M31,47.65H27.11V48.12H29.71M27.73,46.39H26.48V47.88H27.11M29.99,45.29H25.98V47.14H26.48M31,49.22H30.33V49.53H31M31,48.91H26.82V49.38H30.33M31,48.59H25.94V49.14H26.82M25.98,46.21H25.31V48.87H25.94M31,49.85H25.29V50.16H31M31,51.11H29.5V51.42H31M31,51.74H27.98V52.05H31M29.5,51.26H26.56V51.89H27.98M31,50.79H25.27V51.58H26.56M31,50.48H25.08V51.19H25.27M25.29,50.01H24.39V50.83H25.08M31,52.68H30.53V53H31M31,53.94H30.77V54.25H31M31,53.62H29.6V54.1H30.77M31,53.31H29.3V53.86H29.6M30.53,52.84H28.3V53.59H29.3M31,54.57H27.82V54.88H31M28.3,53.21H27.02V54.73H27.82M31,52.37H26.58V53.97H27.02M31,56.14H28.77V56.46H31M31,55.83H25.88V56.3H28.77M31,55.51H24.89V56.06H25.88M31,57.4H30.75V57.72H31M31,58.03H29.48V58.34H31M30.75,57.56H29.12V58.19H29.48M31,57.09H28.02V57.87H29.12M31,58.66H29.45V58.97H31M31,59.29H28.41V59.6H31M29.45,58.82H26.44V59.45H28.41M28.02,57.48H26.13V59.13H26.44M31,56.77H24.68V58.3H26.13M24.89,55.79H24.42V57.54H24.68M31,55.2H24.26V56.66H24.42M31,60.23H29.47V60.55H31M31,61.18H27.3V61.49H31M31,61.81H30.78V62.12H31M31,62.43H29.92V62.75H31M31,64.01H30.99V64.32H31M31,64.64H30.98V64.95H31M30.99,64.17H30.91V64.79H30.98M31,65.27H30.82V65.58H31M30.91,64.48H30.55V65.42H30.82M31,63.69H29.19V64.95H30.55M31,63.38H28.58V64.32H29.19M31,63.06H28.06V63.85H28.58M29.92,62.59H27.23V63.46H28.06M30.78,61.96H26.8V63.02H27.23M27.3,61.33H25.58V62.49H26.8M31,60.86H25.25V61.91H25.58M29.47,60.39H24.98V61.39H25.25M31,59.92H24.15V60.89H24.98M31,67.47H30.78V67.78H31M31,67.15H30.02V67.63H30.78M31,66.84H29.49V67.39H30.02M31,66.53H27.58V67.12H29.49M31,66.21H26.52V66.82H27.58M31,68.1H25.45V68.41H31M26.52,66.52H24.48V68.26H25.45M31,65.9H24.17V67.39H24.48M31,69.67H30.79V69.99H31M31,69.36H29.86V69.83H30.79M31,69.04H27.29V69.59H29.86M31,68.73H24.95V69.32H27.29M31,71.24H30.95V71.56H31M31,70.93H30.82V71.4H30.95M31,70.62H30.45V71.17H30.82M31,70.3H26.37V70.89H30.45M31,72.19H28.49V72.5H31M31,71.87H26.89V72.35H28.49M31,73.13H30.8V73.45H31M31,72.82H30.29V73.29H30.8M31,74.71H30.99V75.02H31M31,74.39H30.51V74.86H30.99M31,74.08H30.21V74.63H30.51M31,73.76H29.52V74.35H30.21M30.29,73.05H28.53V74.06H29.52M31,75.65H30.99V75.96H31M31,75.34H28.4V75.81H30.99M28.53,73.56H26.74V75.57H28.4M26.89,72.11H25.78V74.56H26.74M26.37,70.6H24.78V73.34H25.78M24.95,69.02H24.59V71.97H24.78M31,76.28H28.55V76.59H31M31,77.22H30.17V77.54H31M31,76.91H29.36V77.38H30.17M31,78.48H30.42V78.8H31M31,78.17H28.35V78.64H30.42M31,77.85H26.65V78.4H28.35M29.36,77.14H25.92V78.13H26.65M28.55,76.44H25.7V77.64H25.92M31,79.11H24.81V79.43H31M25.7,77.04H24.55V79.27H24.81M24.59,70.49H24.09V78.15H24.55M31,80.37H30.65V80.68H31M31,80.05H27.8V80.53H30.65M31,79.74H26.17V80.29H27.8M31,81.94H28.98V82.26H31M31,81.63H28.94V82.1H28.98M31,82.57H30.49V82.89H31M31,83.2H31V83.52H31M31,83.83H30.61V84.15H31M31,83.36H29.98V83.99H30.61M30.49,82.73H28.93V83.67H29.98M28.94,81.86H26.78V83.2H28.93M31,81.31H26V82.53H26.78M31,81H24.66V81.92H26M26.17,80.02H24.04V81.46H24.66M31,84.46H30.03V84.77H31M31,86.03H30.97V86.35H31M31,85.72H30.46V86.19H30.97M31,85.4H28.13V85.95H30.46M31,85.09H26.46V85.68H28.13M30.03,84.62H25.39V85.38H26.46M31,86.98H28.46V87.29H31M31,87.92H29.61V88.24H31M31,87.61H28.18V88.08H29.61M31,88.86H30.24V89.18H31M31,88.55H29.57V89.02H30.24M31,89.81H30.68V90.12H31M31,89.49H28.97V89.97H30.68M29.57,88.79H27.43V89.73H28.97M28.18,87.84H26.72V89.26H27.43M28.46,87.13H26.33V88.55H26.72M31,86.66H25.37V87.84H26.33M25.39,85H24.13V87.25H25.37M31,90.75H29.97V91.07H31M31,90.44H29.54V90.91H29.97M31,91.38H30.95V91.7H31M31,92.01H30.86V92.33H31M30.95,91.54H28.74V92.17H30.86M29.54,90.67H27.97V91.85H28.74M31,92.96H30.94V93.27H31M31,92.64H29.31V93.11H30.94M31,93.58H30.73V93.9H31M31,94.53H30.26V94.84H31M31,94.21H29.83V94.69H30.26M30.73,93.74H28.62V94.45H29.83M29.31,92.88H27.07V94.1H28.62M31,95.16H28.91V95.47H31M31,96.42H30.96V96.73H31M31,96.1H30.64V96.57H30.96M31,95.79H28.47V96.34H30.64M28.91,95.31H26.23V96.06H28.47M27.07,93.49H25.56V95.69H26.23M27.97,91.26H24.57V94.59H25.56M31,97.05H26.63V97.36H31M31,97.67H25.66V97.99H31M26.63,97.2H25.04V97.83H25.66M31,98.62H28.68V98.93H31M31,98.3H27.05V98.78H28.68M31,99.88H31V100.19H31M31,100.51H30.93V100.82H31M31,100.03H29.58V100.66H30.93M31,99.56H28.19V100.35H29.58M31,101.14H30.11V101.45H31M31,102.08H30.85V102.39H31M31,103.34H30.99V103.65H31M31,103.02H30.96V103.5H30.99M31,102.71H30.18V103.26H30.96M30.85,102.24H29.11V102.98H30.18M31,101.77H28.56V102.61H29.11M30.11,101.29H28V102.19H28.56M28.19,99.96H27.63V101.74H28M31,99.25H26.08V100.85H27.63M27.05,98.54H25V100.05H26.08M25.04,97.52H24.53V99.29H25M31,104.28H29.8V104.6H31M31,103.97H26.19V104.44H29.8M31,105.54H30.63V105.86H31M31,105.23H28.76V105.7H30.63M31,106.48H29.2V106.8H31M31,106.17H28.5V106.64H29.2M28.76,105.46H25.9V106.41H28.5M31,104.91H25.62V105.93H25.9M26.19,104.2H25.21V105.42H25.62M31,107.74H30.12V108.06H31M31,107.43H29.22V107.9H30.12M31,107.11H28.38V107.66H29.22M31,108.69H29.69V109H31M31,108.37H28.89V108.84H29.69M31,109.32H30.58V109.63H31M31,110.58H30.94V110.89H31M31,110.26H30.67V110.73H30.94M31,109.95H29.88V110.5H30.67M31,111.2H29.35V111.52H31M29.88,110.22H27.67V111.36H29.35M30.58,109.47H27.16V110.79H27.67M28.89,108.61H26.61V110.13H27.16M28.38,107.39H25.43V109.37H26.61M31,112.15H28.03V112.46H31M31,111.83H25.1V112.31H28.03M25.43,108.38H24.74V112.07H25.1M25.21,104.81H24.44V110.22H24.74M24.53,98.41H24.22V107.52H24.44M24.57,92.93H24.11V102.96H24.22M31,113.09H30.36V113.41H31M31,114.04H30.66V114.35H31M31,113.72H30.34V114.19H30.66M30.36,113.25H28.08V113.96H30.34M31,112.78H26.76V113.6H28.08M31,115.92H30.37V116.24H31M31,115.61H27.44V116.08H30.37M31,115.29H27.09V115.85H27.44M31,114.98H26.1V115.57H27.09M31,114.67H25.16V115.28H26.1M26.76,113.19H24.72V114.97H25.16M31,117.5H30.76V117.81H31M31,117.18H29.95V117.65H30.76M31,116.87H28.36V117.42H29.95M31,116.55H25.19V117.14H28.36M31,119.07H30.52V119.39H31M31,118.76H29.44V119.23H30.52M31,118.44H27.78V118.99H29.44M31,118.13H27.04V118.72H27.78M31,119.7H30.1V120.01H31M31,120.33H29.87V120.64H31M30.1,119.86H28.84V120.49H29.87M31,120.96H29.65V121.27H31M31,121.9H30.64V122.22H31M31,121.59H29.26V122.06H30.64M29.65,121.12H27.13V121.82H29.26M28.84,120.17H26.39V121.47H27.13M27.04,118.42H24.83V120.82H26.39M25.19,116.85H24.7V119.62H24.83M24.72,114.08H24.33V118.23H24.7M31,123.16H29.73V123.48H31M31,122.85H27.88V123.32H29.73M31,122.53H26.87V123.08H27.88M31,124.1H30.61V124.42H31M31,123.79H27.62V124.26H30.61M31,124.73H30.88V125.05H31M31,125.36H30.44V125.68H31M30.88,124.89H28.8V125.52H30.44M31,126.31H30.19V126.62H31M31,125.99H27.34V126.46H30.19M28.8,125.21H26.15V126.23H27.34M27.62,124.03H25.35V125.72H26.15M26.87,122.81H24.76V124.87H25.35M31,127.25H29.78V127.57H31M31,126.94H27.36V127.41H29.78M31,128.51H30.13V128.82H31M31,128.2H29.23V128.67H30.13M31,127.88H28.27V128.43H29.23M31,129.45H30.04V129.77H31M31,129.14H27.9V129.61H30.04M28.27,128.16H25.96V129.38H27.9M27.36,127.17H25.14V128.77H25.96M31,130.4H30.53V130.71H31M31,130.08H27.87V130.56H30.53M31,131.34H30.2V131.66H31M31,132.29H30.6V132.6H31M31,131.97H29.38V132.44H30.6M30.2,131.5H28.83V132.21H29.38M31,131.03H27.7V131.85H28.83M27.87,130.32H26.59V131.44H27.7M31,133.23H30.97V133.54H31M31,133.86H30.15V134.17H31M30.97,133.39H28.52V134.02H30.15M31,132.91H27.41V133.7H28.52M31,134.8H30.28V135.12H31M31,134.49H27.65V134.96H30.28M31,135.75H30.95V136.06H31M31,135.43H30.54V135.9H30.95M31,136.38H30.08V136.69H31M30.54,135.67H28.9V136.53H30.08M31,137.32H29.85V137.63H31M31,137.01H27.55V137.48H29.85M28.9,136.1H26.91V137.24H27.55M27.65,134.72H26.04V136.67H26.91M27.41,133.31H25.33V135.7H26.04M26.59,130.88H25.02V134.5H25.33M25.14,127.97H24.37V132.69H25.02M24.76,123.84H24.2V130.33H24.37M24.33,116.16H23.97V127.08H24.2M31,138.26H27.53V138.58H31M31,137.95H26.95V138.42H27.53M31,139.84H30.69V140.15H31M31,139.52H30.32V139.99H30.69M31,139.21H26.29V139.76H30.32M31,138.89H25.5V139.48H26.29M26.95,138.19H25.06V139.19H25.5M31,140.47H29.91V140.78H31M31,141.1H28.32V141.41H31M29.91,140.62H27.2V141.25H28.32M31,142.04H29.53V142.35H31M31,141.72H26.4V142.2H29.53M27.2,140.94H26.21V141.96H26.4M31,142.98H29.32V143.3H31M31,142.67H28.43V143.14H29.32M31,143.61H27.77V143.93H31M28.43,142.9H24.91V143.77H27.77M26.21,141.45H24.85V143.34H24.91M31,144.24H28.59V144.56H31M31,145.5H30.71V145.82H31M31,145.19H29.1V145.66H30.71M31,144.87H27.39V145.42H29.1M28.59,144.4H25.82V145.15H27.39M31,146.44H31V146.76H31M31,146.13H30.97V146.6H31M31,147.39H30.81V147.7H31M31,147.07H30.14V147.55H30.81M31,148.33H30.77V148.65H31M31,148.02H29.93V148.49H30.77M30.14,147.31H28.71V148.25H29.93M30.97,146.37H28.11V147.78H28.71M31,149.28H30.81V149.59H31M31,150.22H31V150.53H31M31,149.91H30.43V150.38H31M30.81,149.43H29.66V150.14H30.43M31,148.96H27.93V149.79H29.66M28.11,147.07H26.84V149.37H27.93M31,151.48H30.85V151.79H31M31,151.16H30.39V151.64H30.85M31,152.42H30.91V152.74H31M31,152.11H29.76V152.58H30.91M31,153.05H30.8V153.37H31M31,154H30.72V154.31H31M31,153.68H29.94V154.15H30.72M30.8,153.21H29.63V153.92H29.94M29.76,152.34H27.6V153.56H29.63M30.39,151.4H26.98V152.95H27.6M31,150.85H26.02V152.18H26.98M26.84,148.22H25.84V151.51H26.02M31,154.63H29.08V154.94H31M31,155.88H30.99V156.2H31M31,155.57H30.38V156.04H30.99M31,155.25H27.85V155.81H30.38M29.08,154.78H25.72V155.53H27.85M25.84,149.87H24.93V155.16H25.72M25.82,144.77H24.46V152.51H24.93M24.85,142.39H24.24V148.64H24.46M25.06,138.69H24.02V145.52H24.24M31,156.83H30.89V157.14H31M31,156.51H28.22V156.99H30.89M31,158.09H30.22V158.4H31M31,157.77H28.86V158.24H30.22M31,157.46H26.67V158.01H28.86M28.22,156.75H25.86V157.73H26.67M31,158.72H28.67V159.03H31M31,160.29H30.84V160.6H31M31,159.97H30.71V160.45H30.84M31,159.66H29.67V160.21H30.71M31,159.34H27.68V159.93H29.67M28.67,158.87H26.85V159.64H27.68M31,161.86H30.49V162.18H31M31,161.55H29.15V162.02H30.49M31,161.23H28.29V161.78H29.15M31,160.92H26.93V161.51H28.29M31,162.49H30.91V162.81H31M31,163.12H30.75V163.44H31M30.91,162.65H30.27V163.28H30.75M31,163.75H29.27V164.06H31M30.27,162.96H28.05V163.91H29.27M31,165.01H30.56V165.32H31M31,164.69H29.34V165.17H30.56M31,166.58H30.89V166.9H31M31,166.27H30.73V166.74H30.89M31,165.95H29.64V166.5H30.73M31,165.64H29.04V166.23H29.64M29.34,164.93H28.44V165.93H29.04M31,164.38H27.83V165.43H28.44M28.05,163.44H26.31V164.91H27.83M26.93,161.21H25.76V164.17H26.31M26.85,159.26H25.23V162.69H25.76M31,167.21H29.77V167.53H31M31,167.84H30.93V168.15H31M31,168.78H29.01V169.1H31M31,168.47H28.1V168.94H29.01M30.93,168H25.8V168.71H28.1M29.77,167.37H25.47V168.35H25.8M31,169.41H29.05V169.73H31M31,170.04H29V170.36H31M29.05,169.57H27.27V170.2H29M31,170.67H28.33V170.99H31M31,171.3H29.72V171.62H31M31,172.56H30.35V172.87H31M31,172.25H29.18V172.72H30.35M31,171.93H27.5V172.48H29.18M29.72,171.46H26.71V172.21H27.5M28.33,170.83H26.06V171.83H26.71M27.27,169.89H25.41V171.33H26.06M25.47,167.86H24.63V170.61H25.41M25.23,160.97H24.28V169.23H24.63M31,173.19H30.87V173.5H31M31,173.82H30.7V174.13H31M30.87,173.35H29.43V173.98H30.7M31,176.02H30.98V176.34H31M31,175.71H30.87V176.18H30.98M31,175.39H30.59V175.94H30.87M31,175.08H30.31V175.67H30.59M31,174.76H30.09V175.37H30.31M31,174.45H28.65V175.07H30.09M31,177.28H30.97V177.59H31M31,176.96H30.5V177.44H30.97M31,177.91H30.96V178.22H31M31,178.54H30.92V178.85H31M30.96,178.07H30.3V178.7H30.92M30.5,177.2H28.64V178.38H30.3M31,176.65H27.75V177.79H28.64M28.65,174.76H27.14V177.22H27.75M29.43,173.66H26.42V175.99H27.14M31,179.48H30.4V179.8H31M31,179.17H29.03V179.64H30.4M31,181.06H30.98V181.37H31M31,180.74H30.07V181.21H30.98M31,180.43H29.55V180.98H30.07M31,180.11H28.21V180.7H29.55M29.03,179.4H27V180.41H28.21M31,182H30.74V182.31H31M31,182.63H30.23V182.94H31M30.74,182.16H29.75V182.79H30.23M31,181.68H28.14V182.47H29.75M31,183.57H30.9V183.89H31M31,183.26H27.56V183.73H30.9M28.14,182.08H26.54V183.49H27.56M27,179.9H26.25V182.79H26.54M26.42,174.83H25.12V181.35H26.25M31,185.46H30.84V185.77H31M31,185.15H30.05V185.62H30.84M31,184.83H29.41V185.38H30.05M31,184.52H27.25V185.11H29.41M31,186.09H30.83V186.4H31M31,186.72H29.39V187.03H31M30.83,186.25H28.81V186.88H29.39M31,187.66H31V187.98H31M31,187.35H30.69V187.82H31M31,188.29H29.82V188.61H31M30.69,187.58H28.61V188.45H29.82M28.81,186.56H26.96V188.02H28.61M27.25,184.81H26.27V187.29H26.96M31,184.2H25.64V186.05H26.27M31,188.92H30.93V189.24H31M31,190.18H30.98V190.49H31M31,189.87H30.57V190.34H30.98M31,189.55H29.59V190.1H30.57M30.93,189.08H29.28V189.83H29.59M31,190.81H30.43V191.12H31M31,191.75H30.66V192.07H31M31,191.44H29.24V191.91H30.66M30.43,190.97H28.16V191.67H29.24M29.28,189.45H27.37V191.32H28.16M31,192.7H28.96V193.01H31M31,192.38H27.18V192.85H28.96M27.37,190.39H25.54V192.62H27.18M25.64,185.13H24.87V191.5H25.54M25.12,178.09H24.35V188.31H24.87M31,193.64H29.79V193.96H31M31,193.33H27.51V193.8H29.79M31,194.27H29.07V194.58H31M31,195.84H30.9V196.16H31M31,195.53H30.57V196H30.9M31,195.21H28.24V195.76H30.57M31,194.9H27.22V195.49H28.24M29.07,194.43H26.69V195.19H27.22M27.51,193.56H26.35V194.81H26.69M31,196.47H30V196.79H31M31,197.42H30.88V197.73H31M31,197.1H29.14V197.57H30.88M30,196.63H28.25V197.34H29.14M31,198.36H29.89V198.68H31M31,198.05H27.92V198.52H29.89M31,198.99H30.48V199.3H31M31,199.62H30.47V199.93H31M31,200.25H30.41V200.56H31M30.47,199.78H28.7V200.41H30.41M30.48,199.15H27.46V200.09H28.7M27.92,198.28H26.5V199.62H27.46M28.25,196.98H25.6V198.95H26.5M31,201.19H30.34V201.51H31M31,200.88H28.78V201.35H30.34M31,202.14H29.84V202.45H31M31,201.82H29.7V202.29H29.84M31,202.77H30.25V203.08H31M31,203.71H30.62V204.02H31M31,203.39H29.4V203.87H30.62M30.25,202.92H27.72V203.63H29.4M29.7,202.06H25.68V203.28H27.72M28.78,201.11H25.52V202.67H25.68M25.6,197.97H24.61V201.89H25.52M26.35,194.19H24.31V199.93H24.61M24.35,183.2H24.06V197.06H24.31M24.28,165.1H23.76V190.13H24.06M31,204.97H30.16V205.28H31M31,204.65H27.95V205.13H30.16M31,205.91H28.87V206.23H31M31,205.6H27.48V206.07H28.87M27.95,204.89H26.11V205.83H27.48M31,204.34H24.5V205.36H26.11M31,207.49H30.86V207.8H31M31,207.17H30.06V207.64H30.86M31,206.86H27.32V207.41H30.06" fill="none" stroke="#2a2a2a" stroke-width="0.42"/>
<path d="M25.31,47.54H21.04V50.42H24.39M25.74,44.66H20.62V48.98H21.04M24.26,55.93H23.55V60.4H24.15M24.09,74.32H22.71V80.74H24.04M24.13,86.13H23.13V97.94H24.11M25.86,157.24H23.34V177.62H23.76M24.02,142.1H22.92V167.43H23.34M23.97,121.62H22.29V154.77H22.92M23.13,92.04H22.08V138.19H22.29M22.71,77.53H21.87V115.11H22.08M24.17,66.64H21.66V96.32H21.87M23.55,58.17H21.46V81.48H21.66M31,206.54H22.5V207.13H27.32M24.5,204.85H21.25V206.84H22.5M21.46,69.82H20.83V205.84H21.25M26.58,53.17H20.41V137.83H20.83M20.62,46.82H20.2V95.5H20.41" fill="none" stroke="#555" stroke-width="0.45"/>
<path d="M31,211.76H31V212.07H31M31,211.45H30.81V211.92H31M31,211.14H29.81V211.68H30.81M31,212.39H28.75V212.7H31M29.81,211.41H27.9V212.54H28.75M31,210.82H26.06V211.98H27.9M31,210.51H25.82V211.4H26.06M31,210.2H25.2V210.96H25.82M31,213.32H29.05V213.64H31M31,214.26H29.18V214.57H31M31,213.95H27.86V214.42H29.18M31,215.2H30.59V215.51H31M31,214.88H26.69V215.35H30.59M27.86,214.18H26.56V215.12H26.69M29.05,213.48H25.87V214.65H26.56M31,213.01H24.95V214.07H25.87M31,217.07H31V217.38H31M31,216.76H30.61V217.23H31M31,216.45H29.52V216.99H30.61M31,216.13H28.92V216.72H29.52M31,215.82H28.06V216.43H28.92M31,218.01H29.78V218.32H31M31,217.7H26.96V218.16H29.78M28.06,216.12H26.52V217.93H26.96M31,218.95H30.16V219.26H31M31,218.63H30.02V219.1H30.16M31,219.88H30.93V220.19H31M31,219.57H29.64V220.04H30.93M30.02,218.87H28.09V219.8H29.64M31,220.82H28.89V221.13H31M31,220.51H28.02V220.98H28.89M28.09,219.34H26.83V220.74H28.02M31,222.38H30.68V222.69H31M31,222.07H29.12V222.54H30.68M31,221.76H28.36V222.3H29.12M31,223.01H30.37V223.32H31M31,223.63H30.84V223.94H31M31,224.57H30.35V224.88H31M31,224.25H29.91V224.72H30.35M30.84,223.79H28.57V224.49H29.91M30.37,223.16H28.28V224.14H28.57M28.36,222.03H27.5V223.65H28.28M31,221.44H26.1V222.84H27.5M26.83,220.04H25.34V222.14H26.1M26.52,217.03H24.9V221.09H25.34M31,226.13H30.92V226.44H31M31,225.82H30.19V226.28H30.92M31,225.5H28.32V226.05H30.19M31,226.75H30.62V227.07H31M31,227.38H30.21V227.69H31M30.62,226.91H27.46V227.53H30.21M28.32,225.78H26.43V227.22H27.46M31,228H30.95V228.32H31M31,228.63H30.88V228.94H31M31,229.25H30.53V229.56H31M30.88,228.78H29.49V229.41H30.53M30.95,228.16H29.4V229.1H29.49M31,230.81H30.99V231.13H31M31,230.5H30.85V230.97H30.99M31,230.19H30.57V230.74H30.85M31,229.88H30.09V230.46H30.57M31,231.75H30.3V232.06H31M31,231.44H29.31V231.91H30.3M30.09,230.17H28.64V231.67H29.31M29.4,228.63H27.7V230.92H28.64M31,232.69H30.94V233H31M31,232.38H27.25V232.84H30.94M27.7,229.77H26.33V232.61H27.25M26.43,226.5H25.92V231.19H26.33M31,225.19H24.79V228.85H25.92M24.9,219.06H24.33V227.02H24.79M24.95,213.54H24.12V223.04H24.33M31,233.31H29.46V233.62H31M31,233.94H29.25V234.25H31M29.46,233.47H26.29V234.09H29.25M31,235.5H30.51V235.81H31M31,235.19H29.94V235.65H30.51M31,234.87H27.04V235.42H29.94M31,236.12H29.86V236.44H31M31,237.37H30.47V237.68H31M31,237.06H28.78V237.53H30.47M31,236.75H27.54V237.29H28.78M29.86,236.28H26.47V237.02H27.54M27.04,235.15H25.78V236.65H26.47M31,234.56H25.49V235.9H25.78M26.29,233.78H24.74V235.23H25.49M31,238.62H28.13V238.93H31M31,239.25H29.09V239.56H31M31,240.5H30.99V240.81H31M31,240.18H30.66V240.65H30.99M31,239.87H29.69V240.42H30.66M31,241.12H28.99V241.43H31M29.69,240.14H28.39V241.28H28.99M29.09,239.4H27V240.71H28.39M28.13,238.78H26.78V240.06H27M31,238.31H25.68V239.42H26.78M31,238H24.49V238.86H25.68M31,241.75H30.77V242.06H31M31,242.37H30.69V242.68H31M30.77,241.9H29.61V242.53H30.69M31,242.99H29.21V243.31H31M29.61,242.21H28.24V243.15H29.21M31,243.93H28.5V244.24H31M31,243.62H27.13V244.09H28.5M28.24,242.68H26.24V243.85H27.13M31,244.56H27.74V244.87H31M31,245.49H30.07V245.81H31M31,245.18H27.34V245.65H30.07M27.74,244.71H26.01V245.42H27.34M26.24,243.27H24.64V245.06H26.01M31,246.74H30.86V247.05H31M31,247.68H30.8V247.99H31M31,247.37H30.26V247.84H30.8M30.86,246.9H28.68V247.6H30.26M31,246.43H27.21V247.25H28.68M31,246.12H27.08V246.84H27.21M31,248.93H30.43V249.24H31M31,249.87H30.71V250.18H31M31,249.55H29.43V250.02H30.71M31,251.12H30.97V251.43H31M31,250.8H30.45V251.27H30.97M31,250.49H28.82V251.04H30.45M29.43,249.79H27.62V250.76H28.82M30.43,249.08H26.65V250.28H27.62M31,248.62H26.2V249.68H26.65M31,248.3H25.05V249.15H26.2M27.08,246.48H24.44V248.73H25.05M24.64,244.17H24.23V247.6H24.44M24.49,238.43H24.07V245.88H24.23M24.74,234.51H24.02V242.16H24.07M31,252.36H30.96V252.68H31M31,252.05H30.64V252.52H30.96M31,252.99H30.04V253.3H31M30.64,252.29H27.38V253.15H30.04M31,251.74H25.29V252.72H27.38M31,254.24H29.28V254.55H31M31,253.93H25.73V254.39H29.28M31,253.61H25V254.16H25.73M31,254.86H25.63V255.18H31M31,255.49H29.72V255.8H31M31,256.42H30.78V256.74H31M31,257.05H30.76V257.36H31M30.78,256.58H29.55V257.21H30.76M31,256.11H29.02V256.89H29.55M31,258.3H30.91V258.61H31M31,257.99H30.41V258.45H30.91M31,257.67H28.61V258.22H30.41M29.02,256.5H27.98V257.95H28.61M29.72,255.64H26.74V257.23H27.98M31,258.92H28.47V259.24H31M31,259.86H29.34V260.17H31M31,259.55H27.29V260.02H29.34M28.47,259.08H25.97V259.78H27.29M26.74,256.43H25.24V259.43H25.97M25.63,255.02H24.85V257.93H25.24M31,260.48H30.23V260.8H31M31,261.42H29.15V261.73H31M31,261.11H26.87V261.58H29.15M30.23,260.64H24.59V261.34H26.87M24.85,256.48H24.38V260.99H24.59M25,253.89H24.18V258.73H24.38M31,262.05H30.55V262.36H31M31,262.67H30.49V262.98H31M31,263.61H30.98V263.92H31M31,263.3H29.83V263.76H30.98M30.49,262.83H28.95V263.53H29.83M30.55,262.2H27.17V263.18H28.95M31,264.86H28.54V265.17H31M31,264.55H26.38V265.01H28.54M31,264.23H25.54V264.78H26.38M27.17,262.69H25.15V264.51H25.54M31,265.48H24.69V265.79H31M25.15,263.6H24.54V265.64H24.69M31,266.11H30.98V266.42H31M31,266.73H29.58V267.04H31M31,267.36H29.89V267.67H31M31,268.61H30.9V268.92H31M31,268.29H30.28V268.76H30.9M31,267.98H28.43V268.53H30.28M29.89,267.51H28.17V268.25H28.43M29.58,266.89H27.42V267.88H28.17M30.98,266.26H26.6V267.39H27.42M31,269.23H29.37V269.54H31M31,269.85H29.96V270.17H31M31,270.48H30.96V270.79H31M31,271.1H30.89V271.42H31M30.96,270.64H28.85V271.26H30.89M31,272.35H30.72V272.67H31M31,272.04H29.67V272.51H30.72M31,271.73H28.71V272.28H29.67M28.85,270.95H27.82V272H28.71M29.96,270.01H26.91V271.48H27.82M29.37,269.39H25.59V270.74H26.91M26.6,266.82H24.28V270.06H25.59M31,274.23H30.74V274.54H31M31,273.92H30.32V274.38H30.74M31,273.6H30.12V274.15H30.32M31,275.48H30.83V275.79H31M31,275.16H30.39V275.63H30.83M31,274.85H29.99V275.4H30.39M31,276.1H29.75V276.41H31M29.99,275.13H28.21V276.26H29.75M30.12,273.88H27.78V275.69H28.21M31,273.29H26.15V274.78H27.78M31,272.98H25.44V274.04H26.15M31,276.73H27.58V277.04H31M31,277.35H27.94V277.66H31M31,278.29H30.14V278.6H31M31,277.98H27.66V278.44H30.14M27.94,277.51H25.39V278.21H27.66M27.58,276.88H25.1V277.86H25.39" fill="none" stroke="#2a2a2a" stroke-width="0.42"/>
<path d="M24.12,218.29H23.09V238.33H24.02M25.29,252.23H22.54V256.31H24.18M23.09,228.31H21.44V254.27H22.54M25.44,273.51H23.64V277.37H25.1M24.28,268.44H21.99V275.44H23.64M24.54,264.62H20.9V271.94H21.99M21.44,241.29H20.35V268.28H20.9M25.2,210.58H19.8V254.78H20.35" fill="none" stroke="#555" stroke-width="0.45"/>
<path d="M31,281.62H30.83V281.93H31M31,282.56H30.3V282.87H31M31,282.25H29.09V282.71H30.3M30.83,281.78H28.64V282.48H29.09M31,281.31H27.54V282.13H28.64M31,283.49H30.97V283.8H31M31,284.11H30.62V284.43H31M30.97,283.65H28.68V284.27H30.62M31,283.18H26.56V283.96H28.68M27.54,281.72H26.06V283.57H26.56M31,281H25V282.64H26.06M31,285.05H27.5V285.36H31M31,285.67H29.75V285.98H31M31,286.61H30.77V286.92H31M31,287.23H30.49V287.54H31M31,287.85H30.23V288.16H31M30.49,287.38H30.14V288.01H30.23M30.77,286.76H29.18V287.7H30.14M31,286.29H28.09V287.23H29.18M29.75,285.83H25.87V286.76H28.09M27.5,285.2H25.15V286.29H25.87M31,284.74H24.95V285.75H25.15M25,281.82H24.07V285.24H24.95M31,289.1H30.55V289.41H31M31,289.72H28.5V290.03H31M31,290.65H29.86V290.97H31M31,290.34H26.91V290.81H29.86M28.5,289.88H26.24V290.58H26.91M30.55,289.25H25.63V290.23H26.24M31,288.79H25.29V289.74H25.63M31,288.47H24.85V289.26H25.29M31,291.59H30.59V291.9H31M31,291.28H30.04V291.74H30.59M31,292.83H30.98V293.15H31M31,293.77H30.96V294.08H31M31,293.46H30.84V293.92H30.96M30.98,292.99H30.51V293.69H30.84M31,292.52H29.43V293.34H30.51M31,292.21H29.05V292.93H29.43M30.04,291.51H28.21V292.57H29.05M31,295.01H30.45V295.33H31M31,294.7H30.16V295.17H30.45M31,294.39H27.25V294.94H30.16M28.21,292.04H26.6V294.66H27.25M31,295.95H27.62V296.26H31M31,295.64H25.82V296.1H27.62M26.6,293.35H24.9V295.87H25.82M31,296.88H30.32V297.19H31M31,296.57H27.94V297.04H30.32M31,297.51H30.28V297.82H31M31,298.44H29.46V298.75H31M31,298.13H29.15V298.59H29.46M30.28,297.66H27.74V298.36H29.15M27.94,296.8H26.74V298.01H27.74M31,299.68H27.04V300H31M31,299.37H25.2V299.84H27.04M31,299.06H24.64V299.61H25.2M26.74,297.41H24.18V299.33H24.64M31,300.31H30.47V300.62H31M31,301.24H29.21V301.55H31M31,300.93H29.12V301.4H29.21M30.47,300.46H26.2V301.16H29.12M31,302.49H28.54V302.8H31M31,302.18H28.28V302.64H28.54M31,304.04H30.95V304.36H31M31,303.73H30.37V304.2H30.95M31,303.42H29.96V303.97H30.37M31,303.11H27.38V303.69H29.96M28.28,302.41H26.47V303.4H27.38M31,301.86H25.44V302.91H26.47M26.2,300.81H24.12V302.39H25.44M31,305.29H30.94V305.6H31M31,304.98H29.49V305.45H30.94M31,304.67H27.7V305.21H29.49M31,305.91H30.35V306.22H31M31,306.85H30.8V307.16H31M31,306.54H29.64V307H30.8M30.35,306.07H27.08V306.77H29.64M27.7,304.94H26.65V306.42H27.08M31,308.4H30.98V308.72H31M31,308.09H29.89V308.56H30.98M31,307.78H28.32V308.33H29.89M31,307.47H27.34V308.05H28.32M31,309.34H30.39V309.65H31M31,309.03H26.87V309.49H30.39M31,310.58H30.02V310.9H31M31,310.27H28.02V310.74H30.02M31,309.96H26.29V310.51H28.02M26.87,309.26H25.54V310.23H26.29M27.34,307.76H24.74V309.75H25.54M26.65,305.68H24.49V308.75H24.74M31,312.14H29.78V312.45H31M31,311.83H29.69V312.3H29.78M31,311.52H27.98V312.06H29.69M31,311.21H25.73V311.79H27.98M31,312.76H26.15V313.08H31M31,313.39H29.28V313.7H31M31,314.63H30.93V314.94H31M31,315.26H30.81V315.57H31M30.93,314.79H30.07V315.41H30.81M31,314.32H29.37V315.1H30.07M31,314.01H28.39V314.71H29.37M29.28,313.54H27.82V314.36H28.39M31,317.12H31V317.44H31M31,316.81H30.86V317.28H31M31,316.5H29.72V317.05H30.86M31,316.19H28.57V316.77H29.72M31,315.88H27.58V316.48H28.57M31,318.06H29.25V318.37H31M31,317.75H26.01V318.21H29.25M27.58,316.18H25.34V317.98H26.01M27.82,313.95H25.05V317.08H25.34M26.15,312.92H24.54V315.52H25.05M25.73,311.5H24.23V314.22H24.54M24.49,307.22H24.02V312.86H24.23M31,318.99H30.12V319.3H31M31,319.93H30.9V320.24H31M31,319.62H29.99V320.08H30.9M30.12,319.15H28.78V319.85H29.99M31,320.55H28.06V320.86H31M28.78,319.5H26.96V320.71H28.06M31,318.68H25.1V320.1H26.96M31,321.8H30.99V322.11H31M31,321.48H30.72V321.95H30.99M31,321.17H29.94V321.72H30.72M31,322.42H29.52V322.73H31M29.94,321.45H28.71V322.57H29.52M31,323.04H28.99V323.35H31M31,323.66H27.21V323.98H31M28.99,323.2H26.52V323.82H27.21M28.71,322.01H25.78V323.51H26.52M31,324.91H30.69V325.22H31M31,324.6H28.43V325.07H30.69M31,324.29H27.66V324.83H28.43M31,325.84H29.55V326.16H31M31,325.53H25.92V326H29.55M27.66,324.56H25.59V325.77H25.92M25.78,322.76H24.79V325.16H25.59M25.1,319.39H24.33V323.96H24.79M31,327.09H31V327.4H31M31,327.71H30.74V328.02H31M31,327.25H29.81V327.87H30.74M31,326.78H28.82V327.56H29.81M31,328.65H30.64V328.96H31M31,328.34H27.13V328.8H30.64M28.82,327.17H26.83V328.57H27.13M31,329.89H30.78V330.2H31M31,329.58H28.95V330.05H30.78M31,330.83H30.96V331.14H31M31,330.52H30.71V330.98H30.96M31,331.45H30.21V331.76H31M30.71,330.75H28.61V331.61H30.21M28.95,329.81H27.17V331.18H28.61M31,329.27H26.43V330.5H27.17M26.83,327.87H25.68V329.88H26.43M31,326.47H24.38V328.88H25.68M31,332.38H30.26V332.69H31M31,333.01H30.91V333.32H31M31,333.63H30.88V333.94H31M31,334.25H30.57V334.56H31M30.88,333.78H28.75V334.41H30.57M30.91,333.16H27.86V334.1H28.75M31,335.81H29.91V336.12H31M31,335.5H29.34V335.96H29.91M31,335.19H28.36V335.73H29.34M31,334.87H27.78V335.46H28.36M27.86,333.63H26.78V335.17H27.78M30.26,332.54H26.38V334.4H26.78M31,332.07H24.69V333.47H26.38M31,336.74H29.31V337.05H31M31,336.43H28.17V336.9H29.31M31,337.68H30.68V337.99H31M31,337.37H29.02V337.83H30.68M31,338.92H30.92V339.23H31M31,338.61H29.58V339.08H30.92M31,338.3H27.42V338.85H29.58M31,339.55H29.4V339.86H31M31,340.17H30.89V340.48H31M31,340.79H30.61V341.1H31M31,341.41H30.53V341.73H31M30.61,340.95H29.61V341.57H30.53M30.89,340.32H28.92V341.26H29.61M31,342.66H30.41V342.97H31M31,342.35H29.67V342.82H30.41M31,342.04H28.13V342.58H29.67M28.92,340.79H27.29V342.31H28.13M29.4,339.7H26.1V341.55H27.29M27.42,338.57H25.49V340.63H26.1M29.02,337.6H25.39V339.6H25.49M28.17,336.67H25.24V338.6H25.39M31,343.59H30.99V343.91H31M31,344.53H30.19V344.84H31M31,344.22H29.83V344.68H30.19M30.99,343.75H28.47V344.45H29.83M31,343.28H26.33V344.1H28.47M31,345.46H30.66V345.77H31M31,345.15H28.85V345.62H30.66M31,346.71H30.43V347.02H31M31,346.4H30.09V346.86H30.43M31,346.09H28.89V346.63H30.09M31,347.64H30.85V347.95H31M31,347.33H28.24V347.8H30.85M28.89,346.36H27.46V347.57H28.24M28.85,345.39H27V346.96H27.46M31,348.89H30.76V349.2H31M31,348.58H27.9V349.04H30.76M31,348.27H26.69V348.81H27.9M27,346.17H25.97V348.54H26.69M26.33,343.69H24.59V347.36H25.97M25.24,337.63H24.44V345.52H24.59M24.69,332.77H24.28V341.58H24.44" fill="none" stroke="#2a2a2a" stroke-width="0.42"/>
<path d="M24.18,298.37H23.59V301.6H24.12M24.38,327.67H22.98V337.17H24.28M24.33,321.68H22.37V332.42H22.98M24.02,310.04H21.75V327.05H22.37M23.59,299.99H21.14V318.54H21.75M24.9,294.61H20.53V309.26H21.14M24.85,288.87H19.91V301.94H20.53M24.07,283.53H19.3V295.4H19.91" fill="none" stroke="#555" stroke-width="0.45"/>
<rect x="27.9" y="44" width="3.7" height="305.6" fill="#000"/>
<line x1="25" y1="43.8" x2="419.9" y2="43.8" stroke="#8a8a8a" stroke-width="0.9"/>
<line x1="419.7" y1="43.4" x2="419.7" y2="350" stroke="#8a8a8a" stroke-width="0.9"/>
<line x1="25" y1="349.7" x2="420.1" y2="349.7" stroke="#8a8a8a" stroke-width="0.9"/>
<rect x="149.5" y="43.4" width="1.8" height="306.6" fill="#b2b2b2"/>
<rect x="23" y="208.1" width="397.1" height="1.7" fill="#6f6f6f"/>
<rect x="23" y="279" width="397.1" height="1.6" fill="#737373"/>
<text x="218.9" y="8.4" font-size="8" text-anchor="middle">Sample cluster</text>
<text x="91" y="17.4" font-size="6.4" text-anchor="middle">B</text>
<text x="281" y="17" font-size="6.4" text-anchor="middle">A</text>
<text x="421" y="35.6" font-size="6.6">Mean age (BP)</text>
<text x="421" y="41.8" font-size="6.6">Continent</text>
<g transform="translate(15.4,122.8) rotate(-90)"><text x="0" y="0" font-size="7.2" text-anchor="middle">2</text></g>
<g transform="translate(15.4,239) rotate(-90)"><text x="0" y="0" font-size="7.2" text-anchor="middle">3</text></g>
<g transform="translate(15.4,310) rotate(-90)"><text x="0" y="0" font-size="7.2" text-anchor="middle">1</text></g>
<g transform="translate(7.0,185.7) rotate(-90)"><text x="0" y="0" font-size="8.0" text-anchor="middle">KEGG ortholog cluster</text></g>
<text x="422.6" y="96.2" font-size="6.6" font-weight="bold">CLR(CPM)</text>
<defs><linearGradient id="gclr" x1="0" y1="0" x2="0" y2="1"><stop offset="0" stop-color="#f5b700"/><stop offset="0.05" stop-color="#f9be33"/><stop offset="0.1" stop-color="#fcc54f"/><stop offset="0.15" stop-color="#ffcc67"/><stop offset="0.2" stop-color="#ffd37d"/><stop offset="0.25" stop-color="#ffda93"/><stop offset="0.3" stop-color="#ffe1a8"/><stop offset="0.35" stop-color="#ffe9be"/><stop offset="0.4" stop-color="#fff0d3"/><stop offset="0.45" stop-color="#fff7e9"/><stop offset="0.5" stop-color="#ffffff"/><stop offset="0.55" stop-color="#edf1fb"/><stop offset="0.6" stop-color="#dbe3f8"/><stop offset="0.65" stop-color="#c9d6f4"/><stop offset="0.7" stop-color="#b7c8f0"/><stop offset="0.75" stop-color="#a4bbec"/><stop offset="0.8" stop-color="#90aee8"/><stop offset="0.85" stop-color="#7ba2e4"/><stop offset="0.9" stop-color="#6495e0"/><stop offset="0.95" stop-color="#4889db"/><stop offset="1" stop-color="#1a7dd7"/></linearGradient>
<linearGradient id="gma" x1="0" y1="0" x2="0" y2="1"><stop offset="0" stop-color="#7a2e62"/><stop offset="0.05" stop-color="#78356c"/><stop offset="0.1" stop-color="#763c77"/><stop offset="0.15" stop-color="#734282"/><stop offset="0.2" stop-color="#6f498d"/><stop offset="0.25" stop-color="#6a4f98"/><stop offset="0.3" stop-color="#67539d"/><stop offset="0.35" stop-color="#6557a2"/><stop offset="0.4" stop-color="#625ba6"/><stop offset="0.45" stop-color="#5e5fab"/><stop offset="0.5" stop-color="#5a63b0"/><stop offset="0.55" stop-color="#5867b5"/><stop offset="0.6" stop-color="#556bba"/><stop offset="0.65" stop-color="#5270be"/><stop offset="0.7" stop-color="#4e74c3"/><stop offset="0.75" stop-color="#4a78c8"/><stop offset="0.8" stop-color="#447ccd"/><stop offset="0.85" stop-color="#3e7fd2"/><stop offset="0.9" stop-color="#3683d6"/><stop offset="0.95" stop-color="#2c86db"/><stop offset="1" stop-color="#1d8ae0"/></linearGradient></defs>
<rect x="423" y="99.6" width="8" height="40.1" fill="url(#gclr)"/>
<line x1="423" y1="100.9" x2="424.6" y2="100.9" stroke="#fff" stroke-width="0.5"/>
<line x1="429.4" y1="100.9" x2="431" y2="100.9" stroke="#fff" stroke-width="0.5"/>
<line x1="423" y1="119.6" x2="424.6" y2="119.6" stroke="#fff" stroke-width="0.5"/>
<line x1="429.4" y1="119.6" x2="431" y2="119.6" stroke="#fff" stroke-width="0.5"/>
<line x1="423" y1="138.3" x2="424.6" y2="138.3" stroke="#fff" stroke-width="0.5"/>
<line x1="429.4" y1="138.3" x2="431" y2="138.3" stroke="#fff" stroke-width="0.5"/>
<text x="432.4" y="104.3" font-size="6.6">5</text>
<text x="432.4" y="122.8" font-size="6.6">0</text>
<text x="431.4" y="141.4" font-size="6.6">-5</text>
<text x="422" y="162.4" font-size="6.7" font-weight="bold">Mean age (BP)</text>
<rect x="423" y="165.6" width="8" height="41.3" fill="url(#gma)"/>
<line x1="423" y1="167.3" x2="424.6" y2="167.3" stroke="#fff" stroke-width="0.5"/>
<line x1="429.4" y1="167.3" x2="431" y2="167.3" stroke="#fff" stroke-width="0.5"/>
<line x1="423" y1="179.9" x2="424.6" y2="179.9" stroke="#fff" stroke-width="0.5"/>
<line x1="429.4" y1="179.9" x2="431" y2="179.9" stroke="#fff" stroke-width="0.5"/>
<line x1="423" y1="192.5" x2="424.6" y2="192.5" stroke="#fff" stroke-width="0.5"/>
<line x1="429.4" y1="192.5" x2="431" y2="192.5" stroke="#fff" stroke-width="0.5"/>
<line x1="423" y1="205.1" x2="424.6" y2="205.1" stroke="#fff" stroke-width="0.5"/>
<line x1="429.4" y1="205.1" x2="431" y2="205.1" stroke="#fff" stroke-width="0.5"/>
<text x="432.1" y="170" font-size="6.6">3000</text>
<text x="432.1" y="182.7" font-size="6.6">2000</text>
<text x="432.1" y="195.1" font-size="6.6">1000</text>
<text x="432.1" y="207.6" font-size="6.6">0</text>
<text x="422" y="228.5" font-size="6.7" font-weight="bold">Continent</text>
<rect x="423" y="232.5" width="7.3" height="6.6" fill="#cc6aa8"/>
<text x="432.5" y="238.3" font-size="6.6">Africa</text>
<rect x="423" y="240.13" width="7.3" height="6.6" fill="#7dc734"/>
<text x="432.5" y="245.93" font-size="6.6">Asia</text>
<rect x="423" y="247.76" width="7.3" height="6.6" fill="#f0825a"/>
<text x="432.5" y="253.56" font-size="6.6">Caribbean</text>
<rect x="423" y="255.39" width="7.3" height="6.6" fill="#7467b0"/>
<text x="432.5" y="261.19" font-size="6.6">Europe</text>
<rect x="423" y="263.02" width="7.3" height="6.6" fill="#2bbf9c"/>
<text x="432.5" y="268.82" font-size="6.6">North America</text>
<rect x="423" y="270.65" width="7.3" height="6.6" fill="#1a87e0"/>
<text x="432.5" y="276.45" font-size="6.6">Pacific</text>
<line x1="607.56" y1="57.6" x2="607.56" y2="317" stroke="#f4f4f4" stroke-width="0.45"/>
<line x1="625.89" y1="57.6" x2="625.89" y2="317" stroke="#f4f4f4" stroke-width="0.45"/>
<line x1="644.21" y1="57.6" x2="644.21" y2="317" stroke="#f4f4f4" stroke-width="0.45"/>
<line x1="662.54" y1="57.6" x2="662.54" y2="317" stroke="#f4f4f4" stroke-width="0.45"/>
<line x1="680.86" y1="57.6" x2="680.86" y2="317" stroke="#f4f4f4" stroke-width="0.45"/>
<line x1="598.4" y1="57.6" x2="598.4" y2="317" stroke="#e6e6e6" stroke-width="0.6"/>
<line x1="616.73" y1="57.6" x2="616.73" y2="317" stroke="#e6e6e6" stroke-width="0.6"/>
<line x1="635.05" y1="57.6" x2="635.05" y2="317" stroke="#e6e6e6" stroke-width="0.6"/>
<line x1="653.38" y1="57.6" x2="653.38" y2="317" stroke="#e6e6e6" stroke-width="0.6"/>
<line x1="671.7" y1="57.6" x2="671.7" y2="317" stroke="#e6e6e6" stroke-width="0.6"/>
<line x1="598.4" y1="62.8" x2="685" y2="62.8" stroke="#ebebeb" stroke-width="0.6"/>
<line x1="598.4" y1="71.41" x2="685" y2="71.41" stroke="#ebebeb" stroke-width="0.6"/>
<line x1="598.4" y1="80.02" x2="685" y2="80.02" stroke="#ebebeb" stroke-width="0.6"/>
<line x1="598.4" y1="88.63" x2="685" y2="88.63" stroke="#ebebeb" stroke-width="0.6"/>
<line x1="598.4" y1="97.24" x2="685" y2="97.24" stroke="#ebebeb" stroke-width="0.6"/>
<line x1="598.4" y1="105.85" x2="685" y2="105.85" stroke="#ebebeb" stroke-width="0.6"/>
<line x1="598.4" y1="114.46" x2="685" y2="114.46" stroke="#ebebeb" stroke-width="0.6"/>
<line x1="598.4" y1="123.07" x2="685" y2="123.07" stroke="#ebebeb" stroke-width="0.6"/>
<line x1="598.4" y1="131.68" x2="685" y2="131.68" stroke="#ebebeb" stroke-width="0.6"/>
<line x1="598.4" y1="140.29" x2="685" y2="140.29" stroke="#ebebeb" stroke-width="0.6"/>
<line x1="598.4" y1="148.9" x2="685" y2="148.9" stroke="#ebebeb" stroke-width="0.6"/>
<line x1="598.4" y1="157.51" x2="685" y2="157.51" stroke="#ebebeb" stroke-width="0.6"/>
<line x1="598.4" y1="166.12" x2="685" y2="166.12" stroke="#ebebeb" stroke-width="0.6"/>
<line x1="598.4" y1="174.73" x2="685" y2="174.73" stroke="#ebebeb" stroke-width="0.6"/>
<line x1="598.4" y1="183.34" x2="685" y2="183.34" stroke="#ebebeb" stroke-width="0.6"/>
<line x1="598.4" y1="191.95" x2="685" y2="191.95" stroke="#ebebeb" stroke-width="0.6"/>
<line x1="598.4" y1="200.56" x2="685" y2="200.56" stroke="#ebebeb" stroke-width="0.6"/>
<line x1="598.4" y1="209.17" x2="685" y2="209.17" stroke="#ebebeb" stroke-width="0.6"/>
<line x1="598.4" y1="217.78" x2="685" y2="217.78" stroke="#ebebeb" stroke-width="0.6"/>
<line x1="598.4" y1="226.39" x2="685" y2="226.39" stroke="#ebebeb" stroke-width="0.6"/>
<line x1="598.4" y1="235" x2="685" y2="235" stroke="#ebebeb" stroke-width="0.6"/>
<line x1="598.4" y1="243.61" x2="685" y2="243.61" stroke="#ebebeb" stroke-width="0.6"/>
<line x1="598.4" y1="252.22" x2="685" y2="252.22" stroke="#ebebeb" stroke-width="0.6"/>
<line x1="598.4" y1="260.83" x2="685" y2="260.83" stroke="#ebebeb" stroke-width="0.6"/>
<line x1="598.4" y1="269.44" x2="685" y2="269.44" stroke="#ebebeb" stroke-width="0.6"/>
<line x1="598.4" y1="278.05" x2="685" y2="278.05" stroke="#ebebeb" stroke-width="0.6"/>
<line x1="598.4" y1="286.66" x2="685" y2="286.66" stroke="#ebebeb" stroke-width="0.6"/>
<line x1="598.4" y1="295.27" x2="685" y2="295.27" stroke="#ebebeb" stroke-width="0.6"/>
<line x1="598.4" y1="303.88" x2="685" y2="303.88" stroke="#ebebeb" stroke-width="0.6"/>
<line x1="598.4" y1="312.49" x2="685" y2="312.49" stroke="#ebebeb" stroke-width="0.6"/>
<rect x="598.4" y="58.35" width="82.4" height="3.85" fill="#1688e0" stroke="#111" stroke-width="0.45"/>
<rect x="598.4" y="62.2" width="51.4" height="3.85" fill="#fbc712" stroke="#111" stroke-width="0.45"/>
<rect x="598.4" y="66.96" width="30.9" height="3.85" fill="#1688e0" stroke="#111" stroke-width="0.45"/>
<rect x="598.4" y="70.81" width="50.6" height="3.85" fill="#fbc712" stroke="#111" stroke-width="0.45"/>
<rect x="598.4" y="75.57" width="25.1" height="3.85" fill="#1688e0" stroke="#111" stroke-width="0.45"/>
<rect x="598.4" y="79.42" width="36.1" height="3.85" fill="#fbc712" stroke="#111" stroke-width="0.45"/>
<rect x="598.4" y="84.18" width="19.6" height="3.85" fill="#1688e0" stroke="#111" stroke-width="0.45"/>
<rect x="598.4" y="88.03" width="27.8" height="3.85" fill="#fbc712" stroke="#111" stroke-width="0.45"/>
<rect x="598.4" y="92.79" width="16.9" height="3.85" fill="#1688e0" stroke="#111" stroke-width="0.45"/>
<rect x="598.4" y="96.64" width="26.2" height="3.85" fill="#fbc712" stroke="#111" stroke-width="0.45"/>
<rect x="598.4" y="101.4" width="15.5" height="3.85" fill="#1688e0" stroke="#111" stroke-width="0.45"/>
<rect x="598.4" y="105.25" width="17.2" height="3.85" fill="#fbc712" stroke="#111" stroke-width="0.45"/>
<rect x="598.4" y="110.01" width="21.6" height="3.85" fill="#1688e0" stroke="#111" stroke-width="0.45"/>
<rect x="598.4" y="113.86" width="17.2" height="3.85" fill="#fbc712" stroke="#111" stroke-width="0.45"/>
<rect x="598.4" y="118.62" width="30" height="3.85" fill="#1688e0" stroke="#111" stroke-width="0.45"/>
<rect x="598.4" y="122.47" width="16.7" height="3.85" fill="#fbc712" stroke="#111" stroke-width="0.45"/>
<rect x="598.4" y="127.23" width="17.2" height="3.85" fill="#1688e0" stroke="#111" stroke-width="0.45"/>
<rect x="598.4" y="131.08" width="16.4" height="3.85" fill="#fbc712" stroke="#111" stroke-width="0.45"/>
<rect x="598.4" y="135.84" width="12.2" height="3.85" fill="#1688e0" stroke="#111" stroke-width="0.45"/>
<rect x="598.4" y="139.69" width="15.6" height="3.85" fill="#fbc712" stroke="#111" stroke-width="0.45"/>
<rect x="598.4" y="144.45" width="16.3" height="3.85" fill="#1688e0" stroke="#111" stroke-width="0.45"/>
<rect x="598.4" y="148.3" width="14.3" height="3.85" fill="#fbc712" stroke="#111" stroke-width="0.45"/>
<rect x="598.4" y="153.06" width="12.2" height="3.85" fill="#1688e0" stroke="#111" stroke-width="0.45"/>
<rect x="598.4" y="156.91" width="9.3" height="3.85" fill="#fbc712" stroke="#111" stroke-width="0.45"/>
<rect x="598.4" y="161.67" width="6" height="3.85" fill="#1688e0" stroke="#111" stroke-width="0.45"/>
<rect x="598.4" y="165.52" width="8.7" height="3.85" fill="#fbc712" stroke="#111" stroke-width="0.45"/>
<rect x="598.4" y="170.28" width="5.4" height="3.85" fill="#1688e0" stroke="#111" stroke-width="0.45"/>
<rect x="598.4" y="174.13" width="8.1" height="3.85" fill="#fbc712" stroke="#111" stroke-width="0.45"/>
<rect x="598.4" y="178.89" width="4.4" height="3.85" fill="#1688e0" stroke="#111" stroke-width="0.45"/>
<rect x="598.4" y="182.74" width="7.4" height="3.85" fill="#fbc712" stroke="#111" stroke-width="0.45"/>
<rect x="598.4" y="187.5" width="2" height="3.85" fill="#1688e0" stroke="#111" stroke-width="0.45"/>
<rect x="598.4" y="191.35" width="5.8" height="3.85" fill="#fbc712" stroke="#111" stroke-width="0.45"/>
<rect x="598.4" y="196.11" width="7.1" height="3.85" fill="#1688e0" stroke="#111" stroke-width="0.45"/>
<rect x="598.4" y="199.96" width="5.1" height="3.85" fill="#fbc712" stroke="#111" stroke-width="0.45"/>
<rect x="598.4" y="204.72" width="4.4" height="3.85" fill="#1688e0" stroke="#111" stroke-width="0.45"/>
<rect x="598.4" y="208.57" width="5.1" height="3.85" fill="#fbc712" stroke="#111" stroke-width="0.45"/>
<rect x="598.4" y="213.33" width="1.3" height="3.85" fill="#1688e0" stroke="#111" stroke-width="0.45"/>
<rect x="598.4" y="217.18" width="4.4" height="3.85" fill="#fbc712" stroke="#111" stroke-width="0.45"/>
<rect x="598.4" y="221.94" width="3.3" height="3.85" fill="#1688e0" stroke="#111" stroke-width="0.45"/>
<rect x="598.4" y="225.79" width="4.4" height="3.85" fill="#fbc712" stroke="#111" stroke-width="0.45"/>
<rect x="598.4" y="230.55" width="4.1" height="3.85" fill="#1688e0" stroke="#111" stroke-width="0.45"/>
<rect x="598.4" y="234.4" width="4.1" height="3.85" fill="#fbc712" stroke="#111" stroke-width="0.45"/>
<rect x="598.4" y="239.16" width="10.8" height="3.85" fill="#1688e0" stroke="#111" stroke-width="0.45"/>
<rect x="598.4" y="243.01" width="4.4" height="3.85" fill="#fbc712" stroke="#111" stroke-width="0.45"/>
<rect x="598.4" y="247.77" width="2.2" height="3.85" fill="#1688e0" stroke="#111" stroke-width="0.45"/>
<rect x="598.4" y="251.62" width="3.9" height="3.85" fill="#fbc712" stroke="#111" stroke-width="0.45"/>
<rect x="598.4" y="256.38" width="4.4" height="3.85" fill="#1688e0" stroke="#111" stroke-width="0.45"/>
<rect x="598.4" y="260.23" width="3" height="3.85" fill="#fbc712" stroke="#111" stroke-width="0.45"/>
<rect x="598.4" y="264.99" width="3.1" height="3.85" fill="#1688e0" stroke="#111" stroke-width="0.45"/>
<rect x="598.4" y="268.84" width="3.1" height="3.85" fill="#fbc712" stroke="#111" stroke-width="0.45"/>
<rect x="598.4" y="277.45" width="1.3" height="3.85" fill="#fbc712" stroke="#111" stroke-width="0.45"/>
<rect x="598.4" y="286.06" width="1.1" height="3.85" fill="#fbc712" stroke="#111" stroke-width="0.45"/>
<rect x="598.4" y="294.67" width="0.6" height="3.85" fill="#fbc712" stroke="#111" stroke-width="0.45"/>
<rect x="598.4" y="299.43" width="12.3" height="3.85" fill="#1688e0" stroke="#111" stroke-width="0.45"/>
<rect x="598.4" y="303.28" width="0.6" height="3.85" fill="#fbc712" stroke="#111" stroke-width="0.45"/>
<rect x="598.4" y="311.89" width="0.3" height="3.85" fill="#fbc712" stroke="#111" stroke-width="0.45"/>
<text x="592.4" y="64.7" font-size="5.6" fill="#4d4d4d" text-anchor="end">Protein families: signaling and cellular processes</text>
<line x1="594.6" y1="62.8" x2="597" y2="62.8" stroke="#8a8a8a" stroke-width="0.45"/>
<text x="592.4" y="73.31" font-size="5.6" fill="#4d4d4d" text-anchor="end">Protein families: genetic information processing</text>
<line x1="594.6" y1="71.41" x2="597" y2="71.41" stroke="#8a8a8a" stroke-width="0.45"/>
<text x="592.4" y="81.92" font-size="5.6" fill="#4d4d4d" text-anchor="end">Carbohydrate metabolism</text>
<line x1="594.6" y1="80.02" x2="597" y2="80.02" stroke="#8a8a8a" stroke-width="0.45"/>
<text x="592.4" y="90.53" font-size="5.6" fill="#4d4d4d" text-anchor="end">Amino acid metabolism</text>
<line x1="594.6" y1="88.63" x2="597" y2="88.63" stroke="#8a8a8a" stroke-width="0.45"/>
<text x="592.4" y="99.14" font-size="5.6" fill="#4d4d4d" text-anchor="end">Energy metabolism</text>
<line x1="594.6" y1="97.24" x2="597" y2="97.24" stroke="#8a8a8a" stroke-width="0.45"/>
<text x="592.4" y="107.75" font-size="5.6" fill="#4d4d4d" text-anchor="end">Membrane transport</text>
<line x1="594.6" y1="105.85" x2="597" y2="105.85" stroke="#8a8a8a" stroke-width="0.45"/>
<text x="592.4" y="116.36" font-size="5.6" fill="#4d4d4d" text-anchor="end">Metabolism of cofactors and vitamins</text>
<line x1="594.6" y1="114.46" x2="597" y2="114.46" stroke="#8a8a8a" stroke-width="0.45"/>
<text x="592.4" y="124.97" font-size="5.6" fill="#4d4d4d" text-anchor="end">Protein families: metabolism</text>
<line x1="594.6" y1="123.07" x2="597" y2="123.07" stroke="#8a8a8a" stroke-width="0.45"/>
<text x="592.4" y="133.58" font-size="5.6" fill="#4d4d4d" text-anchor="end">Unclassified: metabolism</text>
<line x1="594.6" y1="131.68" x2="597" y2="131.68" stroke="#8a8a8a" stroke-width="0.45"/>
<text x="592.4" y="142.19" font-size="5.6" fill="#4d4d4d" text-anchor="end">Signal transduction</text>
<line x1="594.6" y1="140.29" x2="597" y2="140.29" stroke="#8a8a8a" stroke-width="0.45"/>
<text x="592.4" y="150.8" font-size="5.6" fill="#4d4d4d" text-anchor="end">Poorly characterized</text>
<line x1="594.6" y1="148.9" x2="597" y2="148.9" stroke="#8a8a8a" stroke-width="0.45"/>
<text x="592.4" y="159.41" font-size="5.6" fill="#4d4d4d" text-anchor="end">Cellular community – prokaryotes</text>
<line x1="594.6" y1="157.51" x2="597" y2="157.51" stroke="#8a8a8a" stroke-width="0.45"/>
<text x="592.4" y="168.02" font-size="5.6" fill="#4d4d4d" text-anchor="end">Lipid metabolism</text>
<line x1="594.6" y1="166.12" x2="597" y2="166.12" stroke="#8a8a8a" stroke-width="0.45"/>
<text x="592.4" y="176.63" font-size="5.6" fill="#4d4d4d" text-anchor="end">Nucleotide metabolism</text>
<line x1="594.6" y1="174.73" x2="597" y2="174.73" stroke="#8a8a8a" stroke-width="0.45"/>
<text x="592.4" y="185.24" font-size="5.6" fill="#4d4d4d" text-anchor="end">Metabolism of other amino acids</text>
<line x1="594.6" y1="183.34" x2="597" y2="183.34" stroke="#8a8a8a" stroke-width="0.45"/>
<text x="592.4" y="193.85" font-size="5.6" fill="#4d4d4d" text-anchor="end">Replication and repair</text>
<line x1="594.6" y1="191.95" x2="597" y2="191.95" stroke="#8a8a8a" stroke-width="0.45"/>
<text x="592.4" y="202.46" font-size="5.6" fill="#4d4d4d" text-anchor="end">Unclassified: signaling and cellular processes</text>
<line x1="594.6" y1="200.56" x2="597" y2="200.56" stroke="#8a8a8a" stroke-width="0.45"/>
<text x="592.4" y="211.07" font-size="5.6" fill="#4d4d4d" text-anchor="end">Unclassified: genetic information processing</text>
<line x1="594.6" y1="209.17" x2="597" y2="209.17" stroke="#8a8a8a" stroke-width="0.45"/>
<text x="592.4" y="219.68" font-size="5.6" fill="#4d4d4d" text-anchor="end">Translation</text>
<line x1="594.6" y1="217.78" x2="597" y2="217.78" stroke="#8a8a8a" stroke-width="0.45"/>
<text x="592.4" y="228.29" font-size="5.6" fill="#4d4d4d" text-anchor="end">Xenobiotics biodegradation and metabolism</text>
<line x1="594.6" y1="226.39" x2="597" y2="226.39" stroke="#8a8a8a" stroke-width="0.45"/>
<text x="592.4" y="236.9" font-size="5.6" fill="#4d4d4d" text-anchor="end">Metabolism of terpenoids and polyketides</text>
<line x1="594.6" y1="235" x2="597" y2="235" stroke="#8a8a8a" stroke-width="0.45"/>
<text x="592.4" y="245.51" font-size="5.6" fill="#4d4d4d" text-anchor="end">Glycan biosynthesis and metabolism</text>
<line x1="594.6" y1="243.61" x2="597" y2="243.61" stroke="#8a8a8a" stroke-width="0.45"/>
<text x="592.4" y="254.12" font-size="5.6" fill="#4d4d4d" text-anchor="end">Folding, sorting and degradation</text>
<line x1="594.6" y1="252.22" x2="597" y2="252.22" stroke="#8a8a8a" stroke-width="0.45"/>
<text x="592.4" y="262.73" font-size="5.6" fill="#4d4d4d" text-anchor="end">Biosynthesis of other secondary metabolites</text>
<line x1="594.6" y1="260.83" x2="597" y2="260.83" stroke="#8a8a8a" stroke-width="0.45"/>
<text x="592.4" y="271.34" font-size="5.6" fill="#4d4d4d" text-anchor="end">Drug resistance: antimicrobial</text>
<line x1="594.6" y1="269.44" x2="597" y2="269.44" stroke="#8a8a8a" stroke-width="0.45"/>
<text x="592.4" y="279.95" font-size="5.6" fill="#4d4d4d" text-anchor="end">Substance dependence</text>
<line x1="594.6" y1="278.05" x2="597" y2="278.05" stroke="#8a8a8a" stroke-width="0.45"/>
<text x="592.4" y="288.56" font-size="5.6" fill="#4d4d4d" text-anchor="end">Transcription</text>
<line x1="594.6" y1="286.66" x2="597" y2="286.66" stroke="#8a8a8a" stroke-width="0.45"/>
<text x="592.4" y="297.17" font-size="5.6" fill="#4d4d4d" text-anchor="end">Infectious disease: parasitic</text>
<line x1="594.6" y1="295.27" x2="597" y2="295.27" stroke="#8a8a8a" stroke-width="0.45"/>
<text x="592.4" y="305.78" font-size="5.6" fill="#4d4d4d" text-anchor="end">Cell motility</text>
<line x1="594.6" y1="303.88" x2="597" y2="303.88" stroke="#8a8a8a" stroke-width="0.45"/>
<text x="592.4" y="314.39" font-size="5.6" fill="#4d4d4d" text-anchor="end">Information processing in viruses</text>
<line x1="594.6" y1="312.49" x2="597" y2="312.49" stroke="#8a8a8a" stroke-width="0.45"/>
<text x="592.4" y="55.8" font-size="6.2" text-anchor="end">Pathway</text>
<text x="598.4" y="324.4" font-size="5.6" fill="#4d4d4d" text-anchor="middle">0</text>
<text x="616.73" y="324.4" font-size="5.6" fill="#4d4d4d" text-anchor="middle">5</text>
<text x="635.05" y="324.4" font-size="5.6" fill="#4d4d4d" text-anchor="middle">10</text>
<text x="653.38" y="324.4" font-size="5.6" fill="#4d4d4d" text-anchor="middle">15</text>
<text x="671.7" y="324.4" font-size="5.6" fill="#4d4d4d" text-anchor="middle">20</text>
<text x="639.5" y="331.6" font-size="6.1" text-anchor="middle">% of KOs per cluster</text>
<path d="M651.2,68.3H654V69.4H652.7V72.4H654V73.5H651.2Z" fill="#9a9a9a"/><path d="M653.5,68.1L655.9,69.15L653.5,70.2Z M653.5,71.9L655.9,72.9L653.5,73.9Z" fill="#1a1a1a"/>
<text x="652.3" y="276" font-size="6.5">KEGG</text>
<text x="652.3" y="283.4" font-size="6.5">Ortholog</text>
<text x="652.3" y="290.8" font-size="6.5">cluster</text>
<rect x="652.8" y="293.4" width="8.2" height="8.6" fill="#fbc712" stroke="#111" stroke-width="0.5"/>
<rect x="652.8" y="302.6" width="8.2" height="8.6" fill="#1688e0" stroke="#111" stroke-width="0.5"/>
<text x="665" y="299.8" font-size="5.4">1</text>
<text x="665" y="309" font-size="5.4">3</text>
<line x1="31.3" y1="396.4" x2="420" y2="396.4" stroke="#ebebeb" stroke-width="0.6"/>
<line x1="31.3" y1="387.82" x2="420" y2="387.82" stroke="#ebebeb" stroke-width="0.6"/>
<line x1="31.3" y1="379.25" x2="420" y2="379.25" stroke="#ebebeb" stroke-width="0.6"/>
<line x1="31.3" y1="370.67" x2="420" y2="370.67" stroke="#ebebeb" stroke-width="0.6"/>
<line x1="31.3" y1="362.1" x2="420" y2="362.1" stroke="#ebebeb" stroke-width="0.6"/>
<rect x="34" y="395.37" width="1.5" height="1.03" fill="#5a5a5a"/>
<rect x="35.6" y="393.66" width="1" height="2.74" fill="#5a5a5a"/>
<rect x="36.6" y="392.97" width="0.9" height="3.43" fill="#5a5a5a"/>
<rect x="37.2" y="382.68" width="0.8" height="13.72" fill="#5a5a5a"/>
<rect x="38" y="391.94" width="2" height="4.46" fill="#5a5a5a"/>
<rect x="40" y="391.25" width="1.2" height="5.15" fill="#5a5a5a"/>
<rect x="41.2" y="392.63" width="1" height="3.77" fill="#5a5a5a"/>
<rect x="42.2" y="392.28" width="1.8" height="4.12" fill="#5a5a5a"/>
<rect x="44" y="381.99" width="0.8" height="14.41" fill="#5a5a5a"/>
<rect x="44.8" y="391.25" width="1.2" height="5.15" fill="#5a5a5a"/>
<rect x="46.2" y="379.94" width="0.9" height="16.46" fill="#5a5a5a"/>
<rect x="47.2" y="393.66" width="1.8" height="2.74" fill="#5a5a5a"/>
<rect x="49.4" y="389.54" width="4.6" height="6.86" fill="#5a5a5a"/>
<rect x="54" y="392.97" width="2.2" height="3.43" fill="#5a5a5a"/>
<rect x="56.2" y="391.94" width="1" height="4.46" fill="#5a5a5a"/>
<rect x="57.2" y="387.82" width="4.8" height="8.58" fill="#5a5a5a"/>
<rect x="62" y="393.66" width="1.2" height="2.74" fill="#5a5a5a"/>
<rect x="65.8" y="395.03" width="1.2" height="1.37" fill="#5a5a5a"/>
<rect x="67" y="394" width="2" height="2.4" fill="#5a5a5a"/>
<rect x="69" y="395.03" width="1.2" height="1.37" fill="#5a5a5a"/>
<rect x="71" y="394.34" width="1.5" height="2.06" fill="#5a5a5a"/>
<rect x="72.5" y="393.31" width="1.5" height="3.09" fill="#5a5a5a"/>
<rect x="74.8" y="387.14" width="0.8" height="9.26" fill="#5a5a5a"/>
<rect x="75.6" y="394" width="1.5" height="2.4" fill="#5a5a5a"/>
<rect x="77.8" y="392.97" width="2" height="3.43" fill="#5a5a5a"/>
<rect x="79.8" y="392.63" width="1.2" height="3.77" fill="#5a5a5a"/>
<rect x="81" y="394.69" width="1.5" height="1.72" fill="#5a5a5a"/>
<rect x="84.6" y="395.37" width="1" height="1.03" fill="#5a5a5a"/>
<rect x="86" y="395.89" width="1" height="0.51" fill="#5a5a5a"/>
<rect x="93" y="395.71" width="4" height="0.69" fill="#5a5a5a"/>
<rect x="97.6" y="395.89" width="1" height="0.51" fill="#5a5a5a"/>
<rect x="100.6" y="394" width="1.2" height="2.4" fill="#5a5a5a"/>
<rect x="102" y="395.37" width="1.5" height="1.03" fill="#5a5a5a"/>
<rect x="104.2" y="360.73" width="1" height="35.67" fill="#5a5a5a"/>
<rect x="105.2" y="395.03" width="1.2" height="1.37" fill="#5a5a5a"/>
<rect x="107" y="387.14" width="0.8" height="9.26" fill="#5a5a5a"/>
<rect x="107.8" y="394.34" width="1.2" height="2.06" fill="#5a5a5a"/>
<rect x="111.5" y="395.71" width="1.2" height="0.69" fill="#5a5a5a"/>
<rect x="116.8" y="395.03" width="1.5" height="1.37" fill="#5a5a5a"/>
<rect x="118.3" y="394.69" width="1.5" height="1.72" fill="#5a5a5a"/>
<rect x="120.2" y="393.66" width="1.2" height="2.74" fill="#5a5a5a"/>
<rect x="121.4" y="392.97" width="1.2" height="3.43" fill="#5a5a5a"/>
<rect x="123" y="393.31" width="1.4" height="3.09" fill="#5a5a5a"/>
<rect x="124.3" y="385.08" width="0.8" height="11.32" fill="#5a5a5a"/>
<rect x="125.1" y="393.31" width="1" height="3.09" fill="#5a5a5a"/>
<rect x="126.1" y="394.34" width="2" height="2.06" fill="#5a5a5a"/>
<rect x="128.1" y="393.31" width="1.2" height="3.09" fill="#5a5a5a"/>
<rect x="129.7" y="388.85" width="0.9" height="7.55" fill="#5a5a5a"/>
<rect x="130.6" y="392.28" width="1.6" height="4.12" fill="#5a5a5a"/>
<rect x="132.2" y="392.97" width="1.6" height="3.43" fill="#5a5a5a"/>
<rect x="133.8" y="391.94" width="1.6" height="4.46" fill="#5a5a5a"/>
<rect x="135.4" y="392.63" width="1.4" height="3.77" fill="#5a5a5a"/>
<rect x="136.8" y="391.6" width="1.6" height="4.8" fill="#5a5a5a"/>
<rect x="138.4" y="389.54" width="0.9" height="6.86" fill="#5a5a5a"/>
<rect x="139.3" y="392.28" width="1.6" height="4.12" fill="#5a5a5a"/>
<rect x="140.9" y="394.34" width="1.2" height="2.06" fill="#5a5a5a"/>
<rect x="142.2" y="395.37" width="1" height="1.03" fill="#5a5a5a"/>
<rect x="145" y="396.13" width="3" height="0.27" fill="#5a5a5a"/>
<rect x="155" y="396.23" width="1.2" height="0.17" fill="#5a5a5a"/>
<rect x="157.3" y="389.88" width="0.8" height="6.52" fill="#5a5a5a"/>
<rect x="158.5" y="395.71" width="1.5" height="0.69" fill="#5a5a5a"/>
<rect x="160" y="395.37" width="1.5" height="1.03" fill="#5a5a5a"/>
<rect x="161.5" y="395.03" width="1.5" height="1.37" fill="#5a5a5a"/>
<rect x="163.2" y="394.34" width="1.5" height="2.06" fill="#5a5a5a"/>
<rect x="164.7" y="394" width="1.5" height="2.4" fill="#5a5a5a"/>
<rect x="166.2" y="394.34" width="1.5" height="2.06" fill="#5a5a5a"/>
<rect x="167.7" y="394.69" width="1.5" height="1.72" fill="#5a5a5a"/>
<rect x="169.8" y="391.25" width="0.8" height="5.15" fill="#5a5a5a"/>
<rect x="170.6" y="394.69" width="1.5" height="1.72" fill="#5a5a5a"/>
<rect x="172.1" y="395.37" width="1.5" height="1.03" fill="#5a5a5a"/>
<rect x="174" y="395.71" width="1.2" height="0.69" fill="#5a5a5a"/>
<rect x="176" y="395.37" width="1.2" height="1.03" fill="#5a5a5a"/>
<rect x="178" y="395.37" width="1" height="1.03" fill="#5a5a5a"/>
<rect x="181" y="396.06" width="1" height="0.34" fill="#5a5a5a"/>
<rect x="184" y="396.23" width="1" height="0.17" fill="#5a5a5a"/>
<rect x="190" y="395.89" width="1" height="0.51" fill="#5a5a5a"/>
<rect x="192" y="396.06" width="2" height="0.34" fill="#5a5a5a"/>
<rect x="200" y="396.13" width="1" height="0.27" fill="#5a5a5a"/>
<rect x="205" y="396.19" width="1" height="0.21" fill="#5a5a5a"/>
<rect x="211" y="396.23" width="1" height="0.17" fill="#5a5a5a"/>
<rect x="217.7" y="392.97" width="0.8" height="3.43" fill="#5a5a5a"/>
<rect x="222" y="396.06" width="1" height="0.34" fill="#5a5a5a"/>
<rect x="228" y="396.23" width="1" height="0.17" fill="#5a5a5a"/>
<rect x="233.7" y="389.54" width="0.8" height="6.86" fill="#5a5a5a"/>
<rect x="236" y="395.71" width="1" height="0.69" fill="#5a5a5a"/>
<rect x="240" y="396.06" width="1" height="0.34" fill="#5a5a5a"/>
<rect x="243" y="395.89" width="1" height="0.51" fill="#5a5a5a"/>
<rect x="247" y="396.06" width="1" height="0.34" fill="#5a5a5a"/>
<rect x="250" y="395.99" width="1" height="0.41" fill="#5a5a5a"/>
<rect x="253" y="396.13" width="1" height="0.27" fill="#5a5a5a"/>
<rect x="256" y="396.06" width="1" height="0.34" fill="#5a5a5a"/>
<rect x="260" y="396.06" width="1" height="0.34" fill="#5a5a5a"/>
<rect x="264" y="396.23" width="1" height="0.17" fill="#5a5a5a"/>
<rect x="270" y="396.13" width="1" height="0.27" fill="#5a5a5a"/>
<rect x="275" y="396.23" width="1" height="0.17" fill="#5a5a5a"/>
<rect x="279" y="396.23" width="1" height="0.17" fill="#5a5a5a"/>
<rect x="284" y="396.23" width="1" height="0.17" fill="#5a5a5a"/>
<rect x="290" y="396.19" width="1" height="0.21" fill="#5a5a5a"/>
<rect x="295" y="396.23" width="1" height="0.17" fill="#5a5a5a"/>
<rect x="300" y="396.23" width="1" height="0.17" fill="#5a5a5a"/>
<rect x="302" y="395.37" width="1" height="1.03" fill="#5a5a5a"/>
<rect x="305" y="396.19" width="1" height="0.21" fill="#5a5a5a"/>
<rect x="309" y="396.13" width="1" height="0.27" fill="#5a5a5a"/>
<rect x="312" y="396.19" width="1" height="0.21" fill="#5a5a5a"/>
<rect x="314" y="395.89" width="1" height="0.51" fill="#5a5a5a"/>
<rect x="316" y="396.13" width="1" height="0.27" fill="#5a5a5a"/>
<rect x="320" y="396.23" width="1" height="0.17" fill="#5a5a5a"/>
<rect x="326" y="396.23" width="1" height="0.17" fill="#5a5a5a"/>
<rect x="332" y="396.23" width="1" height="0.17" fill="#5a5a5a"/>
<rect x="338" y="396.19" width="1" height="0.21" fill="#5a5a5a"/>
<rect x="344" y="396.23" width="1" height="0.17" fill="#5a5a5a"/>
<rect x="350" y="396.23" width="1" height="0.17" fill="#5a5a5a"/>
<rect x="355" y="396.23" width="1" height="0.17" fill="#5a5a5a"/>
<rect x="360" y="396.19" width="1" height="0.21" fill="#5a5a5a"/>
<rect x="364" y="396.19" width="1" height="0.21" fill="#5a5a5a"/>
<rect x="368" y="396.06" width="1" height="0.34" fill="#5a5a5a"/>
<rect x="371" y="395.89" width="1" height="0.51" fill="#5a5a5a"/>
<rect x="373" y="395.99" width="1" height="0.41" fill="#5a5a5a"/>
<rect x="375" y="395.37" width="1.2" height="1.03" fill="#5a5a5a"/>
<rect x="376.5" y="395.2" width="1.2" height="1.2" fill="#5a5a5a"/>
<rect x="378" y="395.37" width="1.2" height="1.03" fill="#5a5a5a"/>
<rect x="379.4" y="395.03" width="1" height="1.37" fill="#5a5a5a"/>
<rect x="380.6" y="392.28" width="0.8" height="4.12" fill="#5a5a5a"/>
<rect x="381.4" y="393.31" width="0.8" height="3.09" fill="#5a5a5a"/>
<rect x="382.5" y="395.37" width="1" height="1.03" fill="#5a5a5a"/>
<rect x="385" y="396.23" width="1" height="0.17" fill="#5a5a5a"/>
<rect x="390" y="396.23" width="1" height="0.17" fill="#5a5a5a"/>
<rect x="395" y="396.13" width="1" height="0.27" fill="#5a5a5a"/>
<rect x="400" y="396.19" width="1" height="0.21" fill="#5a5a5a"/>
<rect x="404" y="395.54" width="1" height="0.86" fill="#5a5a5a"/>
<rect x="406" y="396.23" width="1" height="0.17" fill="#5a5a5a"/>
<rect x="410" y="396.23" width="1" height="0.17" fill="#5a5a5a"/>
<rect x="414" y="396.06" width="1" height="0.34" fill="#5a5a5a"/>
<rect x="415.6" y="395.03" width="0.8" height="1.37" fill="#5a5a5a"/>
<rect x="416.6" y="392.97" width="0.9" height="3.43" fill="#5a5a5a"/>
<rect x="417.6" y="394.69" width="0.8" height="1.72" fill="#5a5a5a"/>
<line x1="31.3" y1="397.9" x2="420" y2="397.9" stroke="#262626" stroke-width="1"/>
<line x1="31.3" y1="358.8" x2="31.3" y2="398.3" stroke="#333" stroke-width="0.8"/>
<text x="29.8" y="397.8" font-size="4" fill="#4d4d4d" text-anchor="end">0.0</text>
<line x1="30" y1="396.4" x2="31.3" y2="396.4" stroke="#4d4d4d" stroke-width="0.4"/>
<text x="29.8" y="389.22" font-size="4" fill="#4d4d4d" text-anchor="end">2.5</text>
<line x1="30" y1="387.82" x2="31.3" y2="387.82" stroke="#4d4d4d" stroke-width="0.4"/>
<text x="29.8" y="380.65" font-size="4" fill="#4d4d4d" text-anchor="end">5.0</text>
<line x1="30" y1="379.25" x2="31.3" y2="379.25" stroke="#4d4d4d" stroke-width="0.4"/>
<text x="29.8" y="372.07" font-size="4" fill="#4d4d4d" text-anchor="end">7.5</text>
<line x1="30" y1="370.67" x2="31.3" y2="370.67" stroke="#4d4d4d" stroke-width="0.4"/>
<text x="29.8" y="363.5" font-size="4" fill="#4d4d4d" text-anchor="end">10.0</text>
<line x1="30" y1="362.1" x2="31.3" y2="362.1" stroke="#4d4d4d" stroke-width="0.4"/>
<line x1="150.6" y1="350" x2="150.6" y2="403" stroke="#000" stroke-width="0.8" stroke-dasharray="0.8,1.2"/>
<text x="225.8" y="402.6" font-size="3.2" fill="#4d4d4d" text-anchor="middle">Library</text>
<g transform="translate(14.7,381.0) rotate(-90)" fill="#3a3a3a"><text x="0" y="0" font-size="6.7" text-anchor="middle">Ottowia counts</text><text x="0" y="6.3" font-size="6.7" text-anchor="middle">(x10<tspan dy="-2.2" font-size="4.4">3</tspan><tspan dy="2.2">)</tspan></text></g>
<rect x="23.9" y="433.1" width="2.92" height="7.75" fill="#0b5f4b"/>
<rect x="23.9" y="440.8" width="2.92" height="55.06" fill="#bfdffa"/>
<line x1="25.36" y1="430.9" x2="25.36" y2="432.5" stroke="#cfcfcf" stroke-width="0.35"/>
<line x1="25.36" y1="496.8" x2="25.36" y2="498.6" stroke="#9a9a9a" stroke-width="0.35"/>
<rect x="26.82" y="433.1" width="2.92" height="1.13" fill="#b3b3b3"/>
<rect x="26.82" y="434.18" width="2.92" height="6.68" fill="#0b5f4b"/>
<rect x="26.82" y="440.8" width="2.92" height="55.06" fill="#bfdffa"/>
<line x1="28.28" y1="430.9" x2="28.28" y2="432.5" stroke="#cfcfcf" stroke-width="0.35"/>
<line x1="28.28" y1="496.8" x2="28.28" y2="498.6" stroke="#9a9a9a" stroke-width="0.35"/>
<rect x="29.74" y="433.1" width="2.92" height="7.75" fill="#b3b3b3"/>
<rect x="29.74" y="440.8" width="2.92" height="6.98" fill="#0b5f4b"/>
<rect x="29.74" y="447.73" width="2.92" height="48.12" fill="#bfdffa"/>
<line x1="31.2" y1="430.9" x2="31.2" y2="432.5" stroke="#cfcfcf" stroke-width="0.35"/>
<line x1="31.2" y1="496.8" x2="31.2" y2="498.6" stroke="#9a9a9a" stroke-width="0.35"/>
<rect x="32.66" y="433.1" width="2.92" height="7.75" fill="#b3b3b3"/>
<rect x="32.66" y="440.8" width="2.92" height="10.84" fill="#44c8a5"/>
<rect x="32.66" y="451.59" width="2.92" height="20.85" fill="#e6f1fc"/>
<rect x="32.66" y="472.39" width="2.92" height="23.47" fill="#bfdffa"/>
<line x1="34.12" y1="430.9" x2="34.12" y2="432.5" stroke="#cfcfcf" stroke-width="0.35"/>
<line x1="34.12" y1="496.8" x2="34.12" y2="498.6" stroke="#9a9a9a" stroke-width="0.35"/>
<rect x="35.58" y="433.1" width="2.92" height="62.76" fill="#bfdffa"/>
<line x1="37.04" y1="430.9" x2="37.04" y2="432.5" stroke="#cfcfcf" stroke-width="0.35"/>
<line x1="37.04" y1="496.8" x2="37.04" y2="498.6" stroke="#9a9a9a" stroke-width="0.35"/>
<rect x="38.5" y="433.1" width="2.92" height="3.9" fill="#b3b3b3"/>
<rect x="38.5" y="436.95" width="2.92" height="58.91" fill="#b97c55"/>
<line x1="39.96" y1="430.9" x2="39.96" y2="432.5" stroke="#cfcfcf" stroke-width="0.35"/>
<line x1="39.96" y1="496.8" x2="39.96" y2="498.6" stroke="#9a9a9a" stroke-width="0.35"/>
<rect x="41.42" y="433.1" width="2.92" height="7.75" fill="#b3b3b3"/>
<rect x="41.42" y="440.8" width="2.92" height="13.15" fill="#9dcf2c"/>
<rect x="41.42" y="453.9" width="2.92" height="41.96" fill="#bfdffa"/>
<line x1="42.88" y1="430.9" x2="42.88" y2="432.5" stroke="#cfcfcf" stroke-width="0.35"/>
<line x1="42.88" y1="496.8" x2="42.88" y2="498.6" stroke="#9a9a9a" stroke-width="0.35"/>
<rect x="44.34" y="433.1" width="2.92" height="5.75" fill="#b3b3b3"/>
<rect x="44.34" y="438.8" width="2.92" height="22.08" fill="#0b5f4b"/>
<rect x="44.34" y="460.83" width="2.92" height="35.03" fill="#bfdffa"/>
<line x1="45.8" y1="430.9" x2="45.8" y2="432.5" stroke="#cfcfcf" stroke-width="0.35"/>
<line x1="45.8" y1="496.8" x2="45.8" y2="498.6" stroke="#9a9a9a" stroke-width="0.35"/>
<rect x="47.26" y="433.1" width="2.92" height="2.36" fill="#b3b3b3"/>
<rect x="47.26" y="435.41" width="2.92" height="30.87" fill="#e3f6a2"/>
<rect x="47.26" y="466.22" width="2.92" height="29.63" fill="#dbc6bb"/>
<line x1="48.72" y1="430.9" x2="48.72" y2="432.5" stroke="#cfcfcf" stroke-width="0.35"/>
<line x1="48.72" y1="496.8" x2="48.72" y2="498.6" stroke="#9a9a9a" stroke-width="0.35"/>
<rect x="50.18" y="433.1" width="2.92" height="0.82" fill="#b3b3b3"/>
<rect x="50.18" y="433.87" width="2.92" height="6.98" fill="#e3f6a2"/>
<rect x="50.18" y="440.8" width="2.92" height="9.29" fill="#e6f1fc"/>
<rect x="50.18" y="450.05" width="2.92" height="45.81" fill="#dbc6bb"/>
<line x1="51.64" y1="430.9" x2="51.64" y2="432.5" stroke="#cfcfcf" stroke-width="0.35"/>
<line x1="51.64" y1="496.8" x2="51.64" y2="498.6" stroke="#9a9a9a" stroke-width="0.35"/>
<rect x="53.1" y="433.1" width="2.92" height="0.82" fill="#b3b3b3"/>
<rect x="53.1" y="433.87" width="2.92" height="61.99" fill="#dbc6bb"/>
<line x1="54.56" y1="430.9" x2="54.56" y2="432.5" stroke="#cfcfcf" stroke-width="0.35"/>
<line x1="54.56" y1="496.8" x2="54.56" y2="498.6" stroke="#9a9a9a" stroke-width="0.35"/>
<rect x="56.02" y="433.1" width="2.92" height="5.75" fill="#b3b3b3"/>
<rect x="56.02" y="438.8" width="2.92" height="41.34" fill="#e3f6a2"/>
<rect x="56.02" y="480.09" width="2.92" height="6.98" fill="#dbc6bb"/>
<rect x="56.02" y="487.03" width="2.92" height="8.83" fill="#5b2507"/>
<line x1="57.48" y1="430.9" x2="57.48" y2="432.5" stroke="#cfcfcf" stroke-width="0.35"/>
<line x1="57.48" y1="496.8" x2="57.48" y2="498.6" stroke="#9a9a9a" stroke-width="0.35"/>
<rect x="58.94" y="433.1" width="2.92" height="6.68" fill="#b3b3b3"/>
<rect x="58.94" y="439.72" width="2.92" height="17.31" fill="#666666"/>
<rect x="58.94" y="456.98" width="2.92" height="23.93" fill="#e3f6a2"/>
<rect x="58.94" y="480.86" width="2.92" height="9.29" fill="#b97c55"/>
<rect x="58.94" y="490.11" width="2.92" height="5.75" fill="#8b3c07"/>
<line x1="60.4" y1="430.9" x2="60.4" y2="432.5" stroke="#cfcfcf" stroke-width="0.35"/>
<line x1="60.4" y1="496.8" x2="60.4" y2="498.6" stroke="#9a9a9a" stroke-width="0.35"/>
<rect x="61.86" y="433.1" width="2.92" height="6.68" fill="#b3b3b3"/>
<rect x="61.86" y="439.72" width="2.92" height="41.19" fill="#cd70ab"/>
<rect x="61.86" y="480.86" width="2.92" height="15" fill="#dbc6bb"/>
<line x1="63.32" y1="430.9" x2="63.32" y2="432.5" stroke="#cfcfcf" stroke-width="0.35"/>
<line x1="63.32" y1="496.8" x2="63.32" y2="498.6" stroke="#9a9a9a" stroke-width="0.35"/>
<rect x="64.78" y="433.1" width="2.92" height="6.98" fill="#b3b3b3"/>
<rect x="64.78" y="440.03" width="2.92" height="30.1" fill="#cd70ab"/>
<rect x="64.78" y="470.08" width="2.92" height="14.69" fill="#8a3474"/>
<rect x="64.78" y="484.71" width="2.92" height="11.14" fill="#cd70ab"/>
<line x1="66.24" y1="430.9" x2="66.24" y2="432.5" stroke="#cfcfcf" stroke-width="0.35"/>
<line x1="66.24" y1="496.8" x2="66.24" y2="498.6" stroke="#9a9a9a" stroke-width="0.35"/>
<rect x="67.7" y="433.1" width="2.92" height="11.61" fill="#b3b3b3"/>
<rect x="67.7" y="444.65" width="2.92" height="6.21" fill="#efb5d8"/>
<rect x="67.7" y="450.82" width="2.92" height="45.04" fill="#cd70ab"/>
<line x1="69.16" y1="430.9" x2="69.16" y2="432.5" stroke="#cfcfcf" stroke-width="0.35"/>
<line x1="69.16" y1="496.8" x2="69.16" y2="498.6" stroke="#9a9a9a" stroke-width="0.35"/>
<rect x="70.62" y="433.1" width="2.92" height="2.05" fill="#b3b3b3"/>
<rect x="70.62" y="435.1" width="2.92" height="21.93" fill="#666666"/>
<rect x="70.62" y="456.98" width="2.92" height="17.77" fill="#a6e6d9"/>
<rect x="70.62" y="474.7" width="2.92" height="21.16" fill="#b97c55"/>
<line x1="72.08" y1="430.9" x2="72.08" y2="432.5" stroke="#cfcfcf" stroke-width="0.35"/>
<line x1="72.08" y1="496.8" x2="72.08" y2="498.6" stroke="#9a9a9a" stroke-width="0.35"/>
<rect x="73.54" y="433.1" width="2.92" height="6.21" fill="#b3b3b3"/>
<rect x="73.54" y="439.26" width="2.92" height="14.69" fill="#666666"/>
<rect x="73.54" y="453.9" width="2.92" height="41.96" fill="#8b3c07"/>
<line x1="75" y1="430.9" x2="75" y2="432.5" stroke="#cfcfcf" stroke-width="0.35"/>
<line x1="75" y1="496.8" x2="75" y2="498.6" stroke="#9a9a9a" stroke-width="0.35"/>
<text x="53.9" y="428.9" font-size="4.1" fill="#1a1a1a" text-anchor="middle">03000</text>
<rect x="79.4" y="433.1" width="2.92" height="5.75" fill="#b3b3b3"/>
<rect x="79.4" y="438.8" width="2.92" height="13.3" fill="#44c8a5"/>
<rect x="79.4" y="452.05" width="2.92" height="13.92" fill="#bfdffa"/>
<rect x="79.4" y="465.92" width="2.92" height="10.84" fill="#b97c55"/>
<rect x="79.4" y="476.7" width="2.92" height="19.16" fill="#5b2507"/>
<line x1="80.86" y1="430.9" x2="80.86" y2="432.5" stroke="#cfcfcf" stroke-width="0.35"/>
<line x1="80.86" y1="496.8" x2="80.86" y2="498.6" stroke="#9a9a9a" stroke-width="0.35"/>
<rect x="82.32" y="433.1" width="2.92" height="2.36" fill="#b3b3b3"/>
<rect x="82.32" y="435.41" width="2.92" height="60.45" fill="#bfdffa"/>
<line x1="83.78" y1="430.9" x2="83.78" y2="432.5" stroke="#cfcfcf" stroke-width="0.35"/>
<line x1="83.78" y1="496.8" x2="83.78" y2="498.6" stroke="#9a9a9a" stroke-width="0.35"/>
<rect x="85.24" y="433.1" width="2.92" height="1.59" fill="#b3b3b3"/>
<rect x="85.24" y="434.64" width="2.92" height="61.22" fill="#b97c55"/>
<line x1="86.7" y1="430.9" x2="86.7" y2="432.5" stroke="#cfcfcf" stroke-width="0.35"/>
<line x1="86.7" y1="496.8" x2="86.7" y2="498.6" stroke="#9a9a9a" stroke-width="0.35"/>
<rect x="88.16" y="433.1" width="2.92" height="9.76" fill="#b3b3b3"/>
<rect x="88.16" y="442.8" width="2.92" height="7.29" fill="#44c8a5"/>
<rect x="88.16" y="450.05" width="2.92" height="45.81" fill="#b97c55"/>
<line x1="89.62" y1="430.9" x2="89.62" y2="432.5" stroke="#cfcfcf" stroke-width="0.35"/>
<line x1="89.62" y1="496.8" x2="89.62" y2="498.6" stroke="#9a9a9a" stroke-width="0.35"/>
<rect x="91.08" y="433.1" width="2.92" height="7.75" fill="#9dcf2c"/>
<rect x="91.08" y="440.8" width="2.92" height="26.24" fill="#0b5f4b"/>
<rect x="91.08" y="467" width="2.92" height="28.86" fill="#bfdffa"/>
<line x1="92.54" y1="430.9" x2="92.54" y2="432.5" stroke="#cfcfcf" stroke-width="0.35"/>
<line x1="92.54" y1="496.8" x2="92.54" y2="498.6" stroke="#9a9a9a" stroke-width="0.35"/>
<rect x="94" y="433.1" width="2.92" height="5.44" fill="#b3b3b3"/>
<rect x="94" y="438.49" width="2.92" height="57.37" fill="#dbc6bb"/>
<line x1="95.46" y1="430.9" x2="95.46" y2="432.5" stroke="#cfcfcf" stroke-width="0.35"/>
<line x1="95.46" y1="496.8" x2="95.46" y2="498.6" stroke="#9a9a9a" stroke-width="0.35"/>
<rect x="96.92" y="433.1" width="2.92" height="1.13" fill="#b3b3b3"/>
<rect x="96.92" y="434.18" width="2.92" height="23.62" fill="#666666"/>
<rect x="96.92" y="457.75" width="2.92" height="38.11" fill="#dbc6bb"/>
<line x1="98.38" y1="430.9" x2="98.38" y2="432.5" stroke="#cfcfcf" stroke-width="0.35"/>
<line x1="98.38" y1="496.8" x2="98.38" y2="498.6" stroke="#9a9a9a" stroke-width="0.35"/>
<rect x="99.84" y="433.1" width="2.92" height="3.9" fill="#b3b3b3"/>
<rect x="99.84" y="436.95" width="2.92" height="37.34" fill="#666666"/>
<rect x="99.84" y="474.24" width="2.92" height="15.15" fill="#cd70ab"/>
<rect x="99.84" y="489.34" width="2.92" height="6.52" fill="#dbc6bb"/>
<line x1="101.3" y1="430.9" x2="101.3" y2="432.5" stroke="#cfcfcf" stroke-width="0.35"/>
<line x1="101.3" y1="496.8" x2="101.3" y2="498.6" stroke="#9a9a9a" stroke-width="0.35"/>
<rect x="102.76" y="433.1" width="2.92" height="7.75" fill="#b3b3b3"/>
<rect x="102.76" y="440.8" width="2.92" height="29.33" fill="#cd70ab"/>
<rect x="102.76" y="470.08" width="2.92" height="14.69" fill="#8a3474"/>
<rect x="102.76" y="484.71" width="2.92" height="11.14" fill="#dbc6bb"/>
<line x1="104.22" y1="430.9" x2="104.22" y2="432.5" stroke="#cfcfcf" stroke-width="0.35"/>
<line x1="104.22" y1="496.8" x2="104.22" y2="498.6" stroke="#9a9a9a" stroke-width="0.35"/>
<rect x="105.68" y="433.1" width="2.92" height="17.77" fill="#b3b3b3"/>
<rect x="105.68" y="450.82" width="2.92" height="7.75" fill="#666666"/>
<rect x="105.68" y="458.52" width="2.92" height="17" fill="#cd70ab"/>
<rect x="105.68" y="475.47" width="2.92" height="10.07" fill="#8a3474"/>
<rect x="105.68" y="485.49" width="2.92" height="10.37" fill="#8b3c07"/>
<line x1="107.14" y1="430.9" x2="107.14" y2="432.5" stroke="#cfcfcf" stroke-width="0.35"/>
<line x1="107.14" y1="496.8" x2="107.14" y2="498.6" stroke="#9a9a9a" stroke-width="0.35"/>
<rect x="108.6" y="433.1" width="2.92" height="2.67" fill="#b3b3b3"/>
<rect x="108.6" y="435.72" width="2.92" height="20.08" fill="#666666"/>
<rect x="108.6" y="455.75" width="2.92" height="17.46" fill="#8a3474"/>
<rect x="108.6" y="473.16" width="2.92" height="9.29" fill="#a6e6d9"/>
<rect x="108.6" y="482.4" width="2.92" height="13.46" fill="#b97c55"/>
<line x1="110.06" y1="430.9" x2="110.06" y2="432.5" stroke="#cfcfcf" stroke-width="0.35"/>
<line x1="110.06" y1="496.8" x2="110.06" y2="498.6" stroke="#9a9a9a" stroke-width="0.35"/>
<rect x="111.52" y="433.1" width="2.92" height="13.92" fill="#b3b3b3"/>
<rect x="111.52" y="446.96" width="2.92" height="12.84" fill="#666666"/>
<rect x="111.52" y="459.75" width="2.92" height="17.31" fill="#e3f6a2"/>
<rect x="111.52" y="477.01" width="2.92" height="11.61" fill="#cd70ab"/>
<rect x="111.52" y="488.57" width="2.92" height="7.29" fill="#8a3474"/>
<line x1="112.98" y1="430.9" x2="112.98" y2="432.5" stroke="#cfcfcf" stroke-width="0.35"/>
<line x1="112.98" y1="496.8" x2="112.98" y2="498.6" stroke="#9a9a9a" stroke-width="0.35"/>
<rect x="114.44" y="433.1" width="2.92" height="20.08" fill="#b3b3b3"/>
<rect x="114.44" y="453.13" width="2.92" height="19.31" fill="#e3f6a2"/>
<rect x="114.44" y="472.39" width="2.92" height="16.23" fill="#4e7d12"/>
<rect x="114.44" y="488.57" width="2.92" height="7.29" fill="#8a3474"/>
<line x1="115.9" y1="430.9" x2="115.9" y2="432.5" stroke="#cfcfcf" stroke-width="0.35"/>
<line x1="115.9" y1="496.8" x2="115.9" y2="498.6" stroke="#9a9a9a" stroke-width="0.35"/>
<rect x="117.36" y="433.1" width="2.92" height="2.67" fill="#b3b3b3"/>
<rect x="117.36" y="435.72" width="2.92" height="44.43" fill="#8a3474"/>
<rect x="117.36" y="480.09" width="2.92" height="15.77" fill="#dbc6bb"/>
<line x1="118.82" y1="430.9" x2="118.82" y2="432.5" stroke="#cfcfcf" stroke-width="0.35"/>
<line x1="118.82" y1="496.8" x2="118.82" y2="498.6" stroke="#9a9a9a" stroke-width="0.35"/>
<rect x="120.28" y="433.1" width="2.92" height="11.61" fill="#b3b3b3"/>
<rect x="120.28" y="444.65" width="2.92" height="51.21" fill="#8a3474"/>
<line x1="121.74" y1="430.9" x2="121.74" y2="432.5" stroke="#cfcfcf" stroke-width="0.35"/>
<line x1="121.74" y1="496.8" x2="121.74" y2="498.6" stroke="#9a9a9a" stroke-width="0.35"/>
<text x="105.2" y="428.9" font-size="4.1" fill="#1a1a1a" text-anchor="middle">03009</text>
<rect x="126.5" y="433.1" width="2.92" height="28.25" fill="#b3b3b3"/>
<rect x="126.5" y="461.29" width="2.92" height="20.39" fill="#666666"/>
<rect x="126.5" y="481.63" width="2.92" height="14.23" fill="#4e7d12"/>
<line x1="127.96" y1="430.9" x2="127.96" y2="432.5" stroke="#cfcfcf" stroke-width="0.35"/>
<line x1="127.96" y1="496.8" x2="127.96" y2="498.6" stroke="#9a9a9a" stroke-width="0.35"/>
<rect x="129.42" y="433.1" width="2.92" height="31.64" fill="#b3b3b3"/>
<rect x="129.42" y="464.68" width="2.92" height="20.08" fill="#666666"/>
<rect x="129.42" y="484.71" width="2.92" height="11.14" fill="#4e7d12"/>
<line x1="130.88" y1="430.9" x2="130.88" y2="432.5" stroke="#cfcfcf" stroke-width="0.35"/>
<line x1="130.88" y1="496.8" x2="130.88" y2="498.6" stroke="#9a9a9a" stroke-width="0.35"/>
<rect x="132.34" y="433.1" width="2.92" height="27.78" fill="#b3b3b3"/>
<rect x="132.34" y="460.83" width="2.92" height="12.38" fill="#666666"/>
<rect x="132.34" y="473.16" width="2.92" height="15.46" fill="#4e7d12"/>
<rect x="132.34" y="488.57" width="2.92" height="7.29" fill="#cd70ab"/>
<line x1="133.8" y1="430.9" x2="133.8" y2="432.5" stroke="#cfcfcf" stroke-width="0.35"/>
<line x1="133.8" y1="496.8" x2="133.8" y2="498.6" stroke="#9a9a9a" stroke-width="0.35"/>
<rect x="135.26" y="433.1" width="2.92" height="26.71" fill="#b3b3b3"/>
<rect x="135.26" y="459.75" width="2.92" height="18.85" fill="#666666"/>
<rect x="135.26" y="478.55" width="2.92" height="10.07" fill="#4e7d12"/>
<rect x="135.26" y="488.57" width="2.92" height="7.29" fill="#cd70ab"/>
<line x1="136.72" y1="430.9" x2="136.72" y2="432.5" stroke="#cfcfcf" stroke-width="0.35"/>
<line x1="136.72" y1="496.8" x2="136.72" y2="498.6" stroke="#9a9a9a" stroke-width="0.35"/>
<rect x="138.18" y="433.1" width="2.92" height="23.16" fill="#b3b3b3"/>
<rect x="138.18" y="456.21" width="2.92" height="9.29" fill="#666666"/>
<rect x="138.18" y="465.45" width="2.92" height="13.15" fill="#e3f6a2"/>
<rect x="138.18" y="478.55" width="2.92" height="10.07" fill="#4e7d12"/>
<rect x="138.18" y="488.57" width="2.92" height="7.29" fill="#a6e6d9"/>
<line x1="139.64" y1="430.9" x2="139.64" y2="432.5" stroke="#cfcfcf" stroke-width="0.35"/>
<line x1="139.64" y1="496.8" x2="139.64" y2="498.6" stroke="#9a9a9a" stroke-width="0.35"/>
<rect x="141.1" y="433.1" width="2.92" height="30.87" fill="#b3b3b3"/>
<rect x="141.1" y="463.91" width="2.92" height="12.38" fill="#666666"/>
<rect x="141.1" y="476.24" width="2.92" height="8.52" fill="#e3f6a2"/>
<rect x="141.1" y="484.71" width="2.92" height="11.14" fill="#4e7d12"/>
<line x1="142.56" y1="430.9" x2="142.56" y2="432.5" stroke="#cfcfcf" stroke-width="0.35"/>
<line x1="142.56" y1="496.8" x2="142.56" y2="498.6" stroke="#9a9a9a" stroke-width="0.35"/>
<rect x="144.02" y="433.1" width="2.92" height="23.62" fill="#b3b3b3"/>
<rect x="144.02" y="456.67" width="2.92" height="12.38" fill="#666666"/>
<rect x="144.02" y="469" width="2.92" height="17.31" fill="#e3f6a2"/>
<rect x="144.02" y="486.26" width="2.92" height="9.6" fill="#4e7d12"/>
<line x1="145.48" y1="430.9" x2="145.48" y2="432.5" stroke="#cfcfcf" stroke-width="0.35"/>
<line x1="145.48" y1="496.8" x2="145.48" y2="498.6" stroke="#9a9a9a" stroke-width="0.35"/>
<text x="139.6" y="428.9" font-size="4.1" fill="#1a1a1a" text-anchor="middle">03011</text>
<rect x="149.7" y="433.1" width="2.92" height="3.59" fill="#b3b3b3"/>
<rect x="149.7" y="436.64" width="2.92" height="18.54" fill="#666666"/>
<rect x="149.7" y="455.13" width="2.92" height="18.85" fill="#cd70ab"/>
<rect x="149.7" y="473.93" width="2.92" height="10.07" fill="#8a3474"/>
<rect x="149.7" y="483.94" width="2.92" height="11.91" fill="#b97c55"/>
<line x1="151.16" y1="430.9" x2="151.16" y2="432.5" stroke="#cfcfcf" stroke-width="0.35"/>
<line x1="151.16" y1="496.8" x2="151.16" y2="498.6" stroke="#9a9a9a" stroke-width="0.35"/>
<rect x="152.62" y="433.1" width="2.92" height="21.62" fill="#b3b3b3"/>
<rect x="152.62" y="454.67" width="2.92" height="14.38" fill="#666666"/>
<rect x="152.62" y="469" width="2.92" height="18.85" fill="#e3f6a2"/>
<rect x="152.62" y="487.8" width="2.92" height="8.06" fill="#4e7d12"/>
<line x1="154.08" y1="430.9" x2="154.08" y2="432.5" stroke="#cfcfcf" stroke-width="0.35"/>
<line x1="154.08" y1="496.8" x2="154.08" y2="498.6" stroke="#9a9a9a" stroke-width="0.35"/>
<text x="154.5" y="428.9" font-size="4.1" fill="#1a1a1a" text-anchor="middle">03012</text>
<rect x="158.2" y="433.1" width="2.92" height="5.75" fill="#b3b3b3"/>
<rect x="158.2" y="438.8" width="2.92" height="11.3" fill="#9dcf2c"/>
<rect x="158.2" y="450.05" width="2.92" height="45.81" fill="#bfdffa"/>
<line x1="159.66" y1="430.9" x2="159.66" y2="432.5" stroke="#cfcfcf" stroke-width="0.35"/>
<line x1="159.66" y1="496.8" x2="159.66" y2="498.6" stroke="#9a9a9a" stroke-width="0.35"/>
<rect x="161.12" y="433.1" width="2.92" height="13.92" fill="#b3b3b3"/>
<rect x="161.12" y="446.96" width="2.92" height="9.29" fill="#1a9276"/>
<rect x="161.12" y="456.21" width="2.92" height="39.65" fill="#bfdffa"/>
<line x1="162.58" y1="430.9" x2="162.58" y2="432.5" stroke="#cfcfcf" stroke-width="0.35"/>
<line x1="162.58" y1="496.8" x2="162.58" y2="498.6" stroke="#9a9a9a" stroke-width="0.35"/>
<rect x="164.04" y="433.1" width="2.92" height="25.47" fill="#666666"/>
<rect x="164.04" y="458.52" width="2.92" height="37.34" fill="#bfdffa"/>
<line x1="165.5" y1="430.9" x2="165.5" y2="432.5" stroke="#cfcfcf" stroke-width="0.35"/>
<line x1="165.5" y1="496.8" x2="165.5" y2="498.6" stroke="#9a9a9a" stroke-width="0.35"/>
<rect x="166.96" y="433.1" width="2.92" height="5.13" fill="#b3b3b3"/>
<rect x="166.96" y="438.18" width="2.92" height="57.68" fill="#b97c55"/>
<line x1="168.42" y1="430.9" x2="168.42" y2="432.5" stroke="#cfcfcf" stroke-width="0.35"/>
<line x1="168.42" y1="496.8" x2="168.42" y2="498.6" stroke="#9a9a9a" stroke-width="0.35"/>
<rect x="169.88" y="433.1" width="2.92" height="20.08" fill="#666666"/>
<rect x="169.88" y="453.13" width="2.92" height="14.69" fill="#0b5f4b"/>
<rect x="169.88" y="467.77" width="2.92" height="28.09" fill="#bfdffa"/>
<line x1="171.34" y1="430.9" x2="171.34" y2="432.5" stroke="#cfcfcf" stroke-width="0.35"/>
<line x1="171.34" y1="496.8" x2="171.34" y2="498.6" stroke="#9a9a9a" stroke-width="0.35"/>
<rect x="172.8" y="433.1" width="2.92" height="2.36" fill="#b3b3b3"/>
<rect x="172.8" y="435.41" width="2.92" height="47.05" fill="#e3f6a2"/>
<rect x="172.8" y="482.4" width="2.92" height="13.46" fill="#dbc6bb"/>
<line x1="174.26" y1="430.9" x2="174.26" y2="432.5" stroke="#cfcfcf" stroke-width="0.35"/>
<line x1="174.26" y1="496.8" x2="174.26" y2="498.6" stroke="#9a9a9a" stroke-width="0.35"/>
<rect x="175.72" y="433.1" width="2.92" height="17" fill="#b3b3b3"/>
<rect x="175.72" y="450.05" width="2.92" height="16.23" fill="#666666"/>
<rect x="175.72" y="466.22" width="2.92" height="20.85" fill="#e3f6a2"/>
<rect x="175.72" y="487.03" width="2.92" height="8.83" fill="#b97c55"/>
<line x1="177.18" y1="430.9" x2="177.18" y2="432.5" stroke="#cfcfcf" stroke-width="0.35"/>
<line x1="177.18" y1="496.8" x2="177.18" y2="498.6" stroke="#9a9a9a" stroke-width="0.35"/>
<rect x="178.64" y="433.1" width="2.92" height="12.84" fill="#b3b3b3"/>
<rect x="178.64" y="445.89" width="2.92" height="49.97" fill="#cd70ab"/>
<line x1="180.1" y1="430.9" x2="180.1" y2="432.5" stroke="#cfcfcf" stroke-width="0.35"/>
<line x1="180.1" y1="496.8" x2="180.1" y2="498.6" stroke="#9a9a9a" stroke-width="0.35"/>
<rect x="181.56" y="433.1" width="2.92" height="5.75" fill="#b3b3b3"/>
<rect x="181.56" y="438.8" width="2.92" height="51.36" fill="#cd70ab"/>
<rect x="181.56" y="490.11" width="2.92" height="5.75" fill="#bfdffa"/>
<line x1="183.02" y1="430.9" x2="183.02" y2="432.5" stroke="#cfcfcf" stroke-width="0.35"/>
<line x1="183.02" y1="496.8" x2="183.02" y2="498.6" stroke="#9a9a9a" stroke-width="0.35"/>
<rect x="184.48" y="433.1" width="2.92" height="20.85" fill="#b3b3b3"/>
<rect x="184.48" y="453.9" width="2.92" height="6.98" fill="#666666"/>
<rect x="184.48" y="460.83" width="2.92" height="17" fill="#cd70ab"/>
<rect x="184.48" y="477.78" width="2.92" height="10.07" fill="#8a3474"/>
<rect x="184.48" y="487.8" width="2.92" height="8.06" fill="#b97c55"/>
<line x1="185.94" y1="430.9" x2="185.94" y2="432.5" stroke="#cfcfcf" stroke-width="0.35"/>
<line x1="185.94" y1="496.8" x2="185.94" y2="498.6" stroke="#9a9a9a" stroke-width="0.35"/>
<rect x="187.4" y="433.1" width="2.92" height="12.38" fill="#b3b3b3"/>
<rect x="187.4" y="445.42" width="2.92" height="18.54" fill="#cd70ab"/>
<rect x="187.4" y="463.91" width="2.92" height="10.07" fill="#8a3474"/>
<rect x="187.4" y="473.93" width="2.92" height="10.84" fill="#b97c55"/>
<rect x="187.4" y="484.71" width="2.92" height="11.14" fill="#8b3c07"/>
<line x1="188.86" y1="430.9" x2="188.86" y2="432.5" stroke="#cfcfcf" stroke-width="0.35"/>
<line x1="188.86" y1="496.8" x2="188.86" y2="498.6" stroke="#9a9a9a" stroke-width="0.35"/>
<rect x="190.32" y="433.1" width="2.92" height="0.82" fill="#b3b3b3"/>
<rect x="190.32" y="433.87" width="2.92" height="39.34" fill="#666666"/>
<rect x="190.32" y="473.16" width="2.92" height="10.07" fill="#0b5f4b"/>
<rect x="190.32" y="483.17" width="2.92" height="12.68" fill="#1e88e5"/>
<line x1="191.78" y1="430.9" x2="191.78" y2="432.5" stroke="#cfcfcf" stroke-width="0.35"/>
<line x1="191.78" y1="496.8" x2="191.78" y2="498.6" stroke="#9a9a9a" stroke-width="0.35"/>
<rect x="193.24" y="433.1" width="2.92" height="5.13" fill="#b3b3b3"/>
<rect x="193.24" y="438.18" width="2.92" height="29.63" fill="#e3f6a2"/>
<rect x="193.24" y="467.77" width="2.92" height="13.92" fill="#cd70ab"/>
<rect x="193.24" y="481.63" width="2.92" height="7.75" fill="#8a3474"/>
<rect x="193.24" y="489.34" width="2.92" height="6.52" fill="#b97c55"/>
<line x1="194.7" y1="430.9" x2="194.7" y2="432.5" stroke="#cfcfcf" stroke-width="0.35"/>
<line x1="194.7" y1="496.8" x2="194.7" y2="498.6" stroke="#9a9a9a" stroke-width="0.35"/>
<rect x="196.16" y="433.1" width="2.92" height="6.68" fill="#b3b3b3"/>
<rect x="196.16" y="439.72" width="2.92" height="16.07" fill="#666666"/>
<rect x="196.16" y="455.75" width="2.92" height="18.23" fill="#cd70ab"/>
<rect x="196.16" y="473.93" width="2.92" height="10.07" fill="#8a3474"/>
<rect x="196.16" y="483.94" width="2.92" height="11.91" fill="#b97c55"/>
<line x1="197.62" y1="430.9" x2="197.62" y2="432.5" stroke="#cfcfcf" stroke-width="0.35"/>
<line x1="197.62" y1="496.8" x2="197.62" y2="498.6" stroke="#9a9a9a" stroke-width="0.35"/>
<rect x="199.08" y="433.1" width="2.92" height="8.83" fill="#b3b3b3"/>
<rect x="199.08" y="441.88" width="2.92" height="17.46" fill="#666666"/>
<rect x="199.08" y="459.29" width="2.92" height="16.54" fill="#cd70ab"/>
<rect x="199.08" y="475.78" width="2.92" height="9.76" fill="#8a3474"/>
<rect x="199.08" y="485.49" width="2.92" height="10.37" fill="#b97c55"/>
<line x1="200.54" y1="430.9" x2="200.54" y2="432.5" stroke="#cfcfcf" stroke-width="0.35"/>
<line x1="200.54" y1="496.8" x2="200.54" y2="498.6" stroke="#9a9a9a" stroke-width="0.35"/>
<rect x="202" y="433.1" width="2.92" height="4.67" fill="#b3b3b3"/>
<rect x="202" y="437.72" width="2.92" height="15.46" fill="#666666"/>
<rect x="202" y="453.13" width="2.92" height="16.54" fill="#cd70ab"/>
<rect x="202" y="469.61" width="2.92" height="10.53" fill="#8a3474"/>
<rect x="202" y="480.09" width="2.92" height="8.52" fill="#b97c55"/>
<rect x="202" y="488.57" width="2.92" height="7.29" fill="#8b3c07"/>
<line x1="203.46" y1="430.9" x2="203.46" y2="432.5" stroke="#cfcfcf" stroke-width="0.35"/>
<line x1="203.46" y1="496.8" x2="203.46" y2="498.6" stroke="#9a9a9a" stroke-width="0.35"/>
<rect x="204.92" y="433.1" width="2.92" height="5.75" fill="#b3b3b3"/>
<rect x="204.92" y="438.8" width="2.92" height="37.03" fill="#666666"/>
<rect x="204.92" y="475.78" width="2.92" height="20.08" fill="#b97c55"/>
<line x1="206.38" y1="430.9" x2="206.38" y2="432.5" stroke="#cfcfcf" stroke-width="0.35"/>
<line x1="206.38" y1="496.8" x2="206.38" y2="498.6" stroke="#9a9a9a" stroke-width="0.35"/>
<rect x="207.84" y="433.1" width="2.92" height="2.36" fill="#b3b3b3"/>
<rect x="207.84" y="435.41" width="2.92" height="43.96" fill="#8a3474"/>
<rect x="207.84" y="479.32" width="2.92" height="16.54" fill="#dbc6bb"/>
<line x1="209.3" y1="430.9" x2="209.3" y2="432.5" stroke="#cfcfcf" stroke-width="0.35"/>
<line x1="209.3" y1="496.8" x2="209.3" y2="498.6" stroke="#9a9a9a" stroke-width="0.35"/>
<rect x="210.76" y="433.1" width="2.92" height="5.75" fill="#b3b3b3"/>
<rect x="210.76" y="438.8" width="2.92" height="57.06" fill="#8a3474"/>
<line x1="212.22" y1="430.9" x2="212.22" y2="432.5" stroke="#cfcfcf" stroke-width="0.35"/>
<line x1="212.22" y1="496.8" x2="212.22" y2="498.6" stroke="#9a9a9a" stroke-width="0.35"/>
<text x="189.7" y="428.9" font-size="4.1" fill="#1a1a1a" text-anchor="middle">03016</text>
<rect x="217.1" y="433.1" width="2.92" height="1.59" fill="#b3b3b3"/>
<rect x="217.1" y="434.64" width="2.92" height="61.22" fill="#b97c55"/>
<line x1="218.56" y1="430.9" x2="218.56" y2="432.5" stroke="#cfcfcf" stroke-width="0.35"/>
<line x1="218.56" y1="496.8" x2="218.56" y2="498.6" stroke="#9a9a9a" stroke-width="0.35"/>
<rect x="220.02" y="433.1" width="2.92" height="5.13" fill="#b3b3b3"/>
<rect x="220.02" y="438.18" width="2.92" height="8.83" fill="#666666"/>
<rect x="220.02" y="446.96" width="2.92" height="21.16" fill="#0b5f4b"/>
<rect x="220.02" y="468.07" width="2.92" height="27.78" fill="#bfdffa"/>
<line x1="221.48" y1="430.9" x2="221.48" y2="432.5" stroke="#cfcfcf" stroke-width="0.35"/>
<line x1="221.48" y1="496.8" x2="221.48" y2="498.6" stroke="#9a9a9a" stroke-width="0.35"/>
<rect x="222.94" y="433.1" width="2.92" height="6.21" fill="#b3b3b3"/>
<rect x="222.94" y="439.26" width="2.92" height="19.62" fill="#666666"/>
<rect x="222.94" y="458.83" width="2.92" height="12.84" fill="#0b5f4b"/>
<rect x="222.94" y="471.62" width="2.92" height="24.24" fill="#bfdffa"/>
<line x1="224.4" y1="430.9" x2="224.4" y2="432.5" stroke="#cfcfcf" stroke-width="0.35"/>
<line x1="224.4" y1="496.8" x2="224.4" y2="498.6" stroke="#9a9a9a" stroke-width="0.35"/>
<rect x="225.86" y="433.1" width="2.92" height="3.9" fill="#b3b3b3"/>
<rect x="225.86" y="436.95" width="2.92" height="37.8" fill="#666666"/>
<rect x="225.86" y="474.7" width="2.92" height="14.69" fill="#cd70ab"/>
<rect x="225.86" y="489.34" width="2.92" height="6.52" fill="#dbc6bb"/>
<line x1="227.32" y1="430.9" x2="227.32" y2="432.5" stroke="#cfcfcf" stroke-width="0.35"/>
<line x1="227.32" y1="496.8" x2="227.32" y2="498.6" stroke="#9a9a9a" stroke-width="0.35"/>
<rect x="228.78" y="433.1" width="2.92" height="5.13" fill="#b3b3b3"/>
<rect x="228.78" y="438.18" width="2.92" height="15" fill="#666666"/>
<rect x="228.78" y="453.13" width="2.92" height="17" fill="#cd70ab"/>
<rect x="228.78" y="470.08" width="2.92" height="10.07" fill="#8a3474"/>
<rect x="228.78" y="480.09" width="2.92" height="9.29" fill="#b97c55"/>
<rect x="228.78" y="489.34" width="2.92" height="6.52" fill="#8b3c07"/>
<line x1="230.24" y1="430.9" x2="230.24" y2="432.5" stroke="#cfcfcf" stroke-width="0.35"/>
<line x1="230.24" y1="496.8" x2="230.24" y2="498.6" stroke="#9a9a9a" stroke-width="0.35"/>
<text x="227.4" y="428.9" font-size="4.1" fill="#1a1a1a" text-anchor="middle">03019</text>
<rect x="234" y="433.1" width="2.92" height="15.46" fill="#0b5f4b"/>
<rect x="234" y="448.51" width="2.92" height="47.35" fill="#bfdffa"/>
<line x1="235.46" y1="430.9" x2="235.46" y2="432.5" stroke="#cfcfcf" stroke-width="0.35"/>
<line x1="235.46" y1="496.8" x2="235.46" y2="498.6" stroke="#9a9a9a" stroke-width="0.35"/>
<rect x="236.92" y="433.1" width="2.92" height="11.61" fill="#9dcf2c"/>
<rect x="236.92" y="444.65" width="2.92" height="51.21" fill="#bfdffa"/>
<line x1="238.38" y1="430.9" x2="238.38" y2="432.5" stroke="#cfcfcf" stroke-width="0.35"/>
<line x1="238.38" y1="496.8" x2="238.38" y2="498.6" stroke="#9a9a9a" stroke-width="0.35"/>
<rect x="239.84" y="433.1" width="2.92" height="7.75" fill="#b3b3b3"/>
<rect x="239.84" y="440.8" width="2.92" height="29.33" fill="#cd70ab"/>
<rect x="239.84" y="470.08" width="2.92" height="14.69" fill="#8a3474"/>
<rect x="239.84" y="484.71" width="2.92" height="11.14" fill="#dbc6bb"/>
<line x1="241.3" y1="430.9" x2="241.3" y2="432.5" stroke="#cfcfcf" stroke-width="0.35"/>
<line x1="241.3" y1="496.8" x2="241.3" y2="498.6" stroke="#9a9a9a" stroke-width="0.35"/>
<rect x="242.76" y="433.1" width="2.92" height="15" fill="#b3b3b3"/>
<rect x="242.76" y="448.04" width="2.92" height="8.99" fill="#666666"/>
<rect x="242.76" y="456.98" width="2.92" height="20.39" fill="#e3f6a2"/>
<rect x="242.76" y="477.32" width="2.92" height="11.3" fill="#cd70ab"/>
<rect x="242.76" y="488.57" width="2.92" height="7.29" fill="#8a3474"/>
<line x1="244.22" y1="430.9" x2="244.22" y2="432.5" stroke="#cfcfcf" stroke-width="0.35"/>
<line x1="244.22" y1="496.8" x2="244.22" y2="498.6" stroke="#9a9a9a" stroke-width="0.35"/>
<rect x="245.68" y="433.1" width="2.92" height="28.56" fill="#b3b3b3"/>
<rect x="245.68" y="461.6" width="2.92" height="26.24" fill="#666666"/>
<rect x="245.68" y="487.8" width="2.92" height="8.06" fill="#cd70ab"/>
<line x1="247.14" y1="430.9" x2="247.14" y2="432.5" stroke="#cfcfcf" stroke-width="0.35"/>
<line x1="247.14" y1="496.8" x2="247.14" y2="498.6" stroke="#9a9a9a" stroke-width="0.35"/>
<text x="244.6" y="428.9" font-size="4.1" fill="#1a1a1a" text-anchor="middle">03021</text>
<rect x="251.7" y="433.1" width="2.92" height="7.75" fill="#b3b3b3"/>
<rect x="251.7" y="440.8" width="2.92" height="55.06" fill="#bfdffa"/>
<line x1="253.16" y1="430.9" x2="253.16" y2="432.5" stroke="#cfcfcf" stroke-width="0.35"/>
<line x1="253.16" y1="496.8" x2="253.16" y2="498.6" stroke="#9a9a9a" stroke-width="0.35"/>
<rect x="254.62" y="433.1" width="2.92" height="0.82" fill="#b3b3b3"/>
<rect x="254.62" y="433.87" width="2.92" height="12.07" fill="#666666"/>
<rect x="254.62" y="445.89" width="2.92" height="49.97" fill="#bfdffa"/>
<line x1="256.08" y1="430.9" x2="256.08" y2="432.5" stroke="#cfcfcf" stroke-width="0.35"/>
<line x1="256.08" y1="496.8" x2="256.08" y2="498.6" stroke="#9a9a9a" stroke-width="0.35"/>
<rect x="257.54" y="433.1" width="2.92" height="2.36" fill="#b3b3b3"/>
<rect x="257.54" y="435.41" width="2.92" height="60.45" fill="#bfdffa"/>
<line x1="259" y1="430.9" x2="259" y2="432.5" stroke="#cfcfcf" stroke-width="0.35"/>
<line x1="259" y1="496.8" x2="259" y2="498.6" stroke="#9a9a9a" stroke-width="0.35"/>
<rect x="260.46" y="433.1" width="2.92" height="8.83" fill="#b3b3b3"/>
<rect x="260.46" y="441.88" width="2.92" height="15.92" fill="#0b5f4b"/>
<rect x="260.46" y="457.75" width="2.92" height="38.11" fill="#bfdffa"/>
<line x1="261.92" y1="430.9" x2="261.92" y2="432.5" stroke="#cfcfcf" stroke-width="0.35"/>
<line x1="261.92" y1="496.8" x2="261.92" y2="498.6" stroke="#9a9a9a" stroke-width="0.35"/>
<rect x="263.38" y="433.1" width="2.92" height="7.75" fill="#b3b3b3"/>
<rect x="263.38" y="440.8" width="2.92" height="47.05" fill="#e3f6a2"/>
<rect x="263.38" y="487.8" width="2.92" height="8.06" fill="#dbc6bb"/>
<line x1="264.84" y1="430.9" x2="264.84" y2="432.5" stroke="#cfcfcf" stroke-width="0.35"/>
<line x1="264.84" y1="496.8" x2="264.84" y2="498.6" stroke="#9a9a9a" stroke-width="0.35"/>
<text x="261.8" y="428.9" font-size="4.1" fill="#1a1a1a" text-anchor="middle">03029</text>
<rect x="269.1" y="433.1" width="2.92" height="15" fill="#9dcf2c"/>
<rect x="269.1" y="448.04" width="2.92" height="47.82" fill="#bfdffa"/>
<line x1="270.56" y1="430.9" x2="270.56" y2="432.5" stroke="#cfcfcf" stroke-width="0.35"/>
<line x1="270.56" y1="496.8" x2="270.56" y2="498.6" stroke="#9a9a9a" stroke-width="0.35"/>
<rect x="272.02" y="433.1" width="2.92" height="12.84" fill="#b3b3b3"/>
<rect x="272.02" y="445.89" width="2.92" height="49.97" fill="#bfdffa"/>
<line x1="273.48" y1="430.9" x2="273.48" y2="432.5" stroke="#cfcfcf" stroke-width="0.35"/>
<line x1="273.48" y1="496.8" x2="273.48" y2="498.6" stroke="#9a9a9a" stroke-width="0.35"/>
<rect x="274.94" y="433.1" width="2.92" height="1.59" fill="#b3b3b3"/>
<rect x="274.94" y="434.64" width="2.92" height="61.22" fill="#b97c55"/>
<line x1="276.4" y1="430.9" x2="276.4" y2="432.5" stroke="#cfcfcf" stroke-width="0.35"/>
<line x1="276.4" y1="496.8" x2="276.4" y2="498.6" stroke="#9a9a9a" stroke-width="0.35"/>
<rect x="277.86" y="433.1" width="2.92" height="10.84" fill="#b3b3b3"/>
<rect x="277.86" y="443.88" width="2.92" height="51.98" fill="#b97c55"/>
<line x1="279.32" y1="430.9" x2="279.32" y2="432.5" stroke="#cfcfcf" stroke-width="0.35"/>
<line x1="279.32" y1="496.8" x2="279.32" y2="498.6" stroke="#9a9a9a" stroke-width="0.35"/>
<rect x="280.78" y="433.1" width="2.92" height="5.13" fill="#b3b3b3"/>
<rect x="280.78" y="438.18" width="2.92" height="11.45" fill="#666666"/>
<rect x="280.78" y="449.58" width="2.92" height="46.27" fill="#cd70ab"/>
<line x1="282.24" y1="430.9" x2="282.24" y2="432.5" stroke="#cfcfcf" stroke-width="0.35"/>
<line x1="282.24" y1="496.8" x2="282.24" y2="498.6" stroke="#9a9a9a" stroke-width="0.35"/>
<rect x="283.7" y="433.1" width="2.92" height="8.83" fill="#b3b3b3"/>
<rect x="283.7" y="441.88" width="2.92" height="53.98" fill="#cd70ab"/>
<line x1="285.16" y1="430.9" x2="285.16" y2="432.5" stroke="#cfcfcf" stroke-width="0.35"/>
<line x1="285.16" y1="496.8" x2="285.16" y2="498.6" stroke="#9a9a9a" stroke-width="0.35"/>
<rect x="286.62" y="433.1" width="2.92" height="8.52" fill="#b3b3b3"/>
<rect x="286.62" y="441.57" width="2.92" height="37.03" fill="#cd70ab"/>
<rect x="286.62" y="478.55" width="2.92" height="17.31" fill="#b97c55"/>
<line x1="288.08" y1="430.9" x2="288.08" y2="432.5" stroke="#cfcfcf" stroke-width="0.35"/>
<line x1="288.08" y1="496.8" x2="288.08" y2="498.6" stroke="#9a9a9a" stroke-width="0.35"/>
<text x="282.7" y="428.9" font-size="4.1" fill="#1a1a1a" text-anchor="middle">03032</text>
<rect x="292.2" y="433.1" width="2.92" height="6.68" fill="#0b5f4b"/>
<rect x="292.2" y="439.72" width="2.92" height="56.14" fill="#bfdffa"/>
<line x1="293.66" y1="430.9" x2="293.66" y2="432.5" stroke="#cfcfcf" stroke-width="0.35"/>
<line x1="293.66" y1="496.8" x2="293.66" y2="498.6" stroke="#9a9a9a" stroke-width="0.35"/>
<rect x="295.12" y="433.1" width="2.92" height="3.59" fill="#b3b3b3"/>
<rect x="295.12" y="436.64" width="2.92" height="59.22" fill="#bfdffa"/>
<line x1="296.58" y1="430.9" x2="296.58" y2="432.5" stroke="#cfcfcf" stroke-width="0.35"/>
<line x1="296.58" y1="496.8" x2="296.58" y2="498.6" stroke="#9a9a9a" stroke-width="0.35"/>
<rect x="298.04" y="433.1" width="2.92" height="11.61" fill="#b3b3b3"/>
<rect x="298.04" y="444.65" width="2.92" height="6.98" fill="#0b5f4b"/>
<rect x="298.04" y="451.59" width="2.92" height="44.27" fill="#bfdffa"/>
<line x1="299.5" y1="430.9" x2="299.5" y2="432.5" stroke="#cfcfcf" stroke-width="0.35"/>
<line x1="299.5" y1="496.8" x2="299.5" y2="498.6" stroke="#9a9a9a" stroke-width="0.35"/>
<rect x="300.96" y="433.1" width="2.92" height="1.59" fill="#b3b3b3"/>
<rect x="300.96" y="434.64" width="2.92" height="61.22" fill="#bfdffa"/>
<line x1="302.42" y1="430.9" x2="302.42" y2="432.5" stroke="#cfcfcf" stroke-width="0.35"/>
<line x1="302.42" y1="496.8" x2="302.42" y2="498.6" stroke="#9a9a9a" stroke-width="0.35"/>
<rect x="303.88" y="433.1" width="2.92" height="6.68" fill="#666666"/>
<rect x="303.88" y="439.72" width="2.92" height="56.14" fill="#b97c55"/>
<line x1="305.34" y1="430.9" x2="305.34" y2="432.5" stroke="#cfcfcf" stroke-width="0.35"/>
<line x1="305.34" y1="496.8" x2="305.34" y2="498.6" stroke="#9a9a9a" stroke-width="0.35"/>
<rect x="306.8" y="433.1" width="2.92" height="7.29" fill="#b3b3b3"/>
<rect x="306.8" y="440.34" width="2.92" height="13.61" fill="#9dcf2c"/>
<rect x="306.8" y="453.9" width="2.92" height="41.96" fill="#bfdffa"/>
<line x1="308.26" y1="430.9" x2="308.26" y2="432.5" stroke="#cfcfcf" stroke-width="0.35"/>
<line x1="308.26" y1="496.8" x2="308.26" y2="498.6" stroke="#9a9a9a" stroke-width="0.35"/>
<rect x="309.72" y="433.1" width="2.92" height="6.21" fill="#b3b3b3"/>
<rect x="309.72" y="439.26" width="2.92" height="19.62" fill="#666666"/>
<rect x="309.72" y="458.83" width="2.92" height="12.84" fill="#0b5f4b"/>
<rect x="309.72" y="471.62" width="2.92" height="24.24" fill="#bfdffa"/>
<line x1="311.18" y1="430.9" x2="311.18" y2="432.5" stroke="#cfcfcf" stroke-width="0.35"/>
<line x1="311.18" y1="496.8" x2="311.18" y2="498.6" stroke="#9a9a9a" stroke-width="0.35"/>
<rect x="312.64" y="433.1" width="2.92" height="7.75" fill="#b3b3b3"/>
<rect x="312.64" y="440.8" width="2.92" height="47.35" fill="#e3f6a2"/>
<rect x="312.64" y="488.1" width="2.92" height="7.75" fill="#dbc6bb"/>
<line x1="314.1" y1="430.9" x2="314.1" y2="432.5" stroke="#cfcfcf" stroke-width="0.35"/>
<line x1="314.1" y1="496.8" x2="314.1" y2="498.6" stroke="#9a9a9a" stroke-width="0.35"/>
<rect x="315.56" y="433.1" width="2.92" height="8.83" fill="#b3b3b3"/>
<rect x="315.56" y="441.88" width="2.92" height="15.15" fill="#666666"/>
<rect x="315.56" y="456.98" width="2.92" height="32.1" fill="#e3f6a2"/>
<rect x="315.56" y="489.03" width="2.92" height="6.83" fill="#b97c55"/>
<line x1="317.02" y1="430.9" x2="317.02" y2="432.5" stroke="#cfcfcf" stroke-width="0.35"/>
<line x1="317.02" y1="496.8" x2="317.02" y2="498.6" stroke="#9a9a9a" stroke-width="0.35"/>
<rect x="318.48" y="433.1" width="2.92" height="8.83" fill="#b3b3b3"/>
<rect x="318.48" y="441.88" width="2.92" height="53.98" fill="#cd70ab"/>
<line x1="319.94" y1="430.9" x2="319.94" y2="432.5" stroke="#cfcfcf" stroke-width="0.35"/>
<line x1="319.94" y1="496.8" x2="319.94" y2="498.6" stroke="#9a9a9a" stroke-width="0.35"/>
<rect x="321.4" y="433.1" width="2.92" height="8.22" fill="#b3b3b3"/>
<rect x="321.4" y="441.26" width="2.92" height="38.11" fill="#cd70ab"/>
<rect x="321.4" y="479.32" width="2.92" height="16.54" fill="#b97c55"/>
<line x1="322.86" y1="430.9" x2="322.86" y2="432.5" stroke="#cfcfcf" stroke-width="0.35"/>
<line x1="322.86" y1="496.8" x2="322.86" y2="498.6" stroke="#9a9a9a" stroke-width="0.35"/>
<rect x="324.32" y="433.1" width="2.92" height="6.68" fill="#b3b3b3"/>
<rect x="324.32" y="439.72" width="2.92" height="48.89" fill="#cd70ab"/>
<rect x="324.32" y="488.57" width="2.92" height="7.29" fill="#b97c55"/>
<line x1="325.78" y1="430.9" x2="325.78" y2="432.5" stroke="#cfcfcf" stroke-width="0.35"/>
<line x1="325.78" y1="496.8" x2="325.78" y2="498.6" stroke="#9a9a9a" stroke-width="0.35"/>
<rect x="327.24" y="433.1" width="2.92" height="12.38" fill="#b3b3b3"/>
<rect x="327.24" y="445.42" width="2.92" height="18.54" fill="#cd70ab"/>
<rect x="327.24" y="463.91" width="2.92" height="9.29" fill="#8a3474"/>
<rect x="327.24" y="473.16" width="2.92" height="11.61" fill="#b97c55"/>
<rect x="327.24" y="484.71" width="2.92" height="11.14" fill="#8b3c07"/>
<line x1="328.7" y1="430.9" x2="328.7" y2="432.5" stroke="#cfcfcf" stroke-width="0.35"/>
<line x1="328.7" y1="496.8" x2="328.7" y2="498.6" stroke="#9a9a9a" stroke-width="0.35"/>
<rect x="330.16" y="433.1" width="2.92" height="20.08" fill="#b3b3b3"/>
<rect x="330.16" y="453.13" width="2.92" height="19.31" fill="#e3f6a2"/>
<rect x="330.16" y="472.39" width="2.92" height="16.23" fill="#4e7d12"/>
<rect x="330.16" y="488.57" width="2.92" height="7.29" fill="#8a3474"/>
<line x1="331.62" y1="430.9" x2="331.62" y2="432.5" stroke="#cfcfcf" stroke-width="0.35"/>
<line x1="331.62" y1="496.8" x2="331.62" y2="498.6" stroke="#9a9a9a" stroke-width="0.35"/>
<rect x="333.08" y="433.1" width="2.92" height="16.54" fill="#b3b3b3"/>
<rect x="333.08" y="449.58" width="2.92" height="46.27" fill="#8a3474"/>
<line x1="334.54" y1="430.9" x2="334.54" y2="432.5" stroke="#cfcfcf" stroke-width="0.35"/>
<line x1="334.54" y1="496.8" x2="334.54" y2="498.6" stroke="#9a9a9a" stroke-width="0.35"/>
<text x="317" y="428.9" font-size="4.1" fill="#1a1a1a" text-anchor="middle">03036</text>
<rect x="339.1" y="433.1" width="2.92" height="8.52" fill="#b3b3b3"/>
<rect x="339.1" y="441.57" width="2.92" height="54.29" fill="#bfdffa"/>
<line x1="340.56" y1="430.9" x2="340.56" y2="432.5" stroke="#cfcfcf" stroke-width="0.35"/>
<line x1="340.56" y1="496.8" x2="340.56" y2="498.6" stroke="#9a9a9a" stroke-width="0.35"/>
<rect x="342.02" y="433.1" width="2.92" height="7.75" fill="#666666"/>
<rect x="342.02" y="440.8" width="2.92" height="6.68" fill="#0b5f4b"/>
<rect x="342.02" y="447.43" width="2.92" height="48.43" fill="#bfdffa"/>
<line x1="343.48" y1="430.9" x2="343.48" y2="432.5" stroke="#cfcfcf" stroke-width="0.35"/>
<line x1="343.48" y1="496.8" x2="343.48" y2="498.6" stroke="#9a9a9a" stroke-width="0.35"/>
<rect x="344.94" y="433.1" width="2.92" height="7.75" fill="#b3b3b3"/>
<rect x="344.94" y="440.8" width="2.92" height="55.06" fill="#bfdffa"/>
<line x1="346.4" y1="430.9" x2="346.4" y2="432.5" stroke="#cfcfcf" stroke-width="0.35"/>
<line x1="346.4" y1="496.8" x2="346.4" y2="498.6" stroke="#9a9a9a" stroke-width="0.35"/>
<rect x="347.86" y="433.1" width="2.92" height="5.75" fill="#b3b3b3"/>
<rect x="347.86" y="438.8" width="2.92" height="57.06" fill="#bfdffa"/>
<line x1="349.32" y1="430.9" x2="349.32" y2="432.5" stroke="#cfcfcf" stroke-width="0.35"/>
<line x1="349.32" y1="496.8" x2="349.32" y2="498.6" stroke="#9a9a9a" stroke-width="0.35"/>
<rect x="350.78" y="433.1" width="2.92" height="5.75" fill="#b3b3b3"/>
<rect x="350.78" y="438.8" width="2.92" height="7.14" fill="#9dcf2c"/>
<rect x="350.78" y="445.89" width="2.92" height="49.97" fill="#bfdffa"/>
<line x1="352.24" y1="430.9" x2="352.24" y2="432.5" stroke="#cfcfcf" stroke-width="0.35"/>
<line x1="352.24" y1="496.8" x2="352.24" y2="498.6" stroke="#9a9a9a" stroke-width="0.35"/>
<rect x="353.7" y="433.1" width="2.92" height="11.91" fill="#b3b3b3"/>
<rect x="353.7" y="444.96" width="2.92" height="8.68" fill="#9dcf2c"/>
<rect x="353.7" y="453.59" width="2.92" height="42.27" fill="#bfdffa"/>
<line x1="355.16" y1="430.9" x2="355.16" y2="432.5" stroke="#cfcfcf" stroke-width="0.35"/>
<line x1="355.16" y1="496.8" x2="355.16" y2="498.6" stroke="#9a9a9a" stroke-width="0.35"/>
<rect x="356.62" y="433.1" width="2.92" height="4.67" fill="#b3b3b3"/>
<rect x="356.62" y="437.72" width="2.92" height="13.15" fill="#9dcf2c"/>
<rect x="356.62" y="450.82" width="2.92" height="45.04" fill="#bfdffa"/>
<line x1="358.08" y1="430.9" x2="358.08" y2="432.5" stroke="#cfcfcf" stroke-width="0.35"/>
<line x1="358.08" y1="496.8" x2="358.08" y2="498.6" stroke="#9a9a9a" stroke-width="0.35"/>
<rect x="359.54" y="433.1" width="2.92" height="6.68" fill="#b3b3b3"/>
<rect x="359.54" y="439.72" width="2.92" height="56.14" fill="#bfdffa"/>
<line x1="361" y1="430.9" x2="361" y2="432.5" stroke="#cfcfcf" stroke-width="0.35"/>
<line x1="361" y1="496.8" x2="361" y2="498.6" stroke="#9a9a9a" stroke-width="0.35"/>
<rect x="362.46" y="433.1" width="2.92" height="5.75" fill="#b3b3b3"/>
<rect x="362.46" y="438.8" width="2.92" height="7.45" fill="#8a3474"/>
<rect x="362.46" y="446.19" width="2.92" height="9.6" fill="#1e88e5"/>
<rect x="362.46" y="455.75" width="2.92" height="40.11" fill="#b97c55"/>
<line x1="363.92" y1="430.9" x2="363.92" y2="432.5" stroke="#cfcfcf" stroke-width="0.35"/>
<line x1="363.92" y1="496.8" x2="363.92" y2="498.6" stroke="#9a9a9a" stroke-width="0.35"/>
<rect x="365.38" y="433.1" width="2.92" height="8.52" fill="#b3b3b3"/>
<rect x="365.38" y="441.57" width="2.92" height="16.23" fill="#0b5f4b"/>
<rect x="365.38" y="457.75" width="2.92" height="38.11" fill="#bfdffa"/>
<line x1="366.84" y1="430.9" x2="366.84" y2="432.5" stroke="#cfcfcf" stroke-width="0.35"/>
<line x1="366.84" y1="496.8" x2="366.84" y2="498.6" stroke="#9a9a9a" stroke-width="0.35"/>
<rect x="368.3" y="433.1" width="2.92" height="5.75" fill="#b3b3b3"/>
<rect x="368.3" y="438.8" width="2.92" height="57.06" fill="#cd70ab"/>
<line x1="369.76" y1="430.9" x2="369.76" y2="432.5" stroke="#cfcfcf" stroke-width="0.35"/>
<line x1="369.76" y1="496.8" x2="369.76" y2="498.6" stroke="#9a9a9a" stroke-width="0.35"/>
<rect x="371.22" y="433.1" width="2.92" height="6.68" fill="#b3b3b3"/>
<rect x="371.22" y="439.72" width="2.92" height="18.08" fill="#666666"/>
<rect x="371.22" y="457.75" width="2.92" height="14.38" fill="#cd70ab"/>
<rect x="371.22" y="472.08" width="2.92" height="8.83" fill="#8a3474"/>
<rect x="371.22" y="480.86" width="2.92" height="6.98" fill="#dbc6bb"/>
<rect x="371.22" y="487.8" width="2.92" height="8.06" fill="#b97c55"/>
<line x1="372.68" y1="430.9" x2="372.68" y2="432.5" stroke="#cfcfcf" stroke-width="0.35"/>
<line x1="372.68" y1="496.8" x2="372.68" y2="498.6" stroke="#9a9a9a" stroke-width="0.35"/>
<rect x="374.14" y="433.1" width="2.92" height="5.75" fill="#b3b3b3"/>
<rect x="374.14" y="438.8" width="2.92" height="25.17" fill="#8a3474"/>
<rect x="374.14" y="463.91" width="2.92" height="31.95" fill="#b97c55"/>
<line x1="375.6" y1="430.9" x2="375.6" y2="432.5" stroke="#cfcfcf" stroke-width="0.35"/>
<line x1="375.6" y1="496.8" x2="375.6" y2="498.6" stroke="#9a9a9a" stroke-width="0.35"/>
<text x="361" y="428.9" font-size="4.1" fill="#1a1a1a" text-anchor="middle">03110</text>
<rect x="380.2" y="433.1" width="2.92" height="3.59" fill="#b3b3b3"/>
<rect x="380.2" y="436.64" width="2.92" height="59.22" fill="#bfdffa"/>
<line x1="381.66" y1="430.9" x2="381.66" y2="432.5" stroke="#cfcfcf" stroke-width="0.35"/>
<line x1="381.66" y1="496.8" x2="381.66" y2="498.6" stroke="#9a9a9a" stroke-width="0.35"/>
<rect x="383.12" y="433.1" width="2.92" height="12.84" fill="#b3b3b3"/>
<rect x="383.12" y="445.89" width="2.92" height="49.97" fill="#bfdffa"/>
<line x1="384.58" y1="430.9" x2="384.58" y2="432.5" stroke="#cfcfcf" stroke-width="0.35"/>
<line x1="384.58" y1="496.8" x2="384.58" y2="498.6" stroke="#9a9a9a" stroke-width="0.35"/>
<rect x="386.04" y="433.1" width="2.92" height="8.83" fill="#9dcf2c"/>
<rect x="386.04" y="441.88" width="2.92" height="7.14" fill="#0b5f4b"/>
<rect x="386.04" y="448.97" width="2.92" height="46.89" fill="#bfdffa"/>
<line x1="387.5" y1="430.9" x2="387.5" y2="432.5" stroke="#cfcfcf" stroke-width="0.35"/>
<line x1="387.5" y1="496.8" x2="387.5" y2="498.6" stroke="#9a9a9a" stroke-width="0.35"/>
<rect x="388.96" y="433.1" width="2.92" height="2.36" fill="#b3b3b3"/>
<rect x="388.96" y="435.41" width="2.92" height="60.45" fill="#bfdffa"/>
<line x1="390.42" y1="430.9" x2="390.42" y2="432.5" stroke="#cfcfcf" stroke-width="0.35"/>
<line x1="390.42" y1="496.8" x2="390.42" y2="498.6" stroke="#9a9a9a" stroke-width="0.35"/>
<rect x="391.88" y="433.1" width="2.92" height="1.59" fill="#b3b3b3"/>
<rect x="391.88" y="434.64" width="2.92" height="61.22" fill="#b97c55"/>
<line x1="393.34" y1="430.9" x2="393.34" y2="432.5" stroke="#cfcfcf" stroke-width="0.35"/>
<line x1="393.34" y1="496.8" x2="393.34" y2="498.6" stroke="#9a9a9a" stroke-width="0.35"/>
<rect x="394.8" y="433.1" width="2.92" height="10.37" fill="#b3b3b3"/>
<rect x="394.8" y="443.42" width="2.92" height="52.44" fill="#b97c55"/>
<line x1="396.26" y1="430.9" x2="396.26" y2="432.5" stroke="#cfcfcf" stroke-width="0.35"/>
<line x1="396.26" y1="496.8" x2="396.26" y2="498.6" stroke="#9a9a9a" stroke-width="0.35"/>
<rect x="397.72" y="433.1" width="2.92" height="4.21" fill="#b3b3b3"/>
<rect x="397.72" y="437.26" width="2.92" height="8.68" fill="#8a3474"/>
<rect x="397.72" y="445.89" width="2.92" height="13.92" fill="#bfdffa"/>
<rect x="397.72" y="459.75" width="2.92" height="36.11" fill="#b97c55"/>
<line x1="399.18" y1="430.9" x2="399.18" y2="432.5" stroke="#cfcfcf" stroke-width="0.35"/>
<line x1="399.18" y1="496.8" x2="399.18" y2="498.6" stroke="#9a9a9a" stroke-width="0.35"/>
<rect x="400.64" y="433.1" width="2.92" height="2.36" fill="#b3b3b3"/>
<rect x="400.64" y="435.41" width="2.92" height="9.29" fill="#8a3474"/>
<rect x="400.64" y="444.65" width="2.92" height="12.07" fill="#bfdffa"/>
<rect x="400.64" y="456.67" width="2.92" height="39.19" fill="#b97c55"/>
<line x1="402.1" y1="430.9" x2="402.1" y2="432.5" stroke="#cfcfcf" stroke-width="0.35"/>
<line x1="402.1" y1="496.8" x2="402.1" y2="498.6" stroke="#9a9a9a" stroke-width="0.35"/>
<rect x="403.56" y="433.1" width="2.92" height="7.75" fill="#b3b3b3"/>
<rect x="403.56" y="440.8" width="2.92" height="12.84" fill="#9dcf2c"/>
<rect x="403.56" y="453.59" width="2.92" height="42.27" fill="#bfdffa"/>
<line x1="405.02" y1="430.9" x2="405.02" y2="432.5" stroke="#cfcfcf" stroke-width="0.35"/>
<line x1="405.02" y1="496.8" x2="405.02" y2="498.6" stroke="#9a9a9a" stroke-width="0.35"/>
<rect x="406.48" y="433.1" width="2.92" height="7.75" fill="#9dcf2c"/>
<rect x="406.48" y="440.8" width="2.92" height="24.7" fill="#0b5f4b"/>
<rect x="406.48" y="465.45" width="2.92" height="30.4" fill="#bfdffa"/>
<line x1="407.94" y1="430.9" x2="407.94" y2="432.5" stroke="#cfcfcf" stroke-width="0.35"/>
<line x1="407.94" y1="496.8" x2="407.94" y2="498.6" stroke="#9a9a9a" stroke-width="0.35"/>
<rect x="409.4" y="433.1" width="2.92" height="7.75" fill="#b3b3b3"/>
<rect x="409.4" y="440.8" width="2.92" height="44.73" fill="#e3f6a2"/>
<rect x="409.4" y="485.49" width="2.92" height="10.37" fill="#dbc6bb"/>
<line x1="410.86" y1="430.9" x2="410.86" y2="432.5" stroke="#cfcfcf" stroke-width="0.35"/>
<line x1="410.86" y1="496.8" x2="410.86" y2="498.6" stroke="#9a9a9a" stroke-width="0.35"/>
<rect x="412.32" y="433.1" width="2.92" height="6.68" fill="#b3b3b3"/>
<rect x="412.32" y="439.72" width="2.92" height="6.21" fill="#666666"/>
<rect x="412.32" y="445.89" width="2.92" height="35.49" fill="#e3f6a2"/>
<rect x="412.32" y="481.33" width="2.92" height="6.52" fill="#dbc6bb"/>
<rect x="412.32" y="487.8" width="2.92" height="8.06" fill="#b97c55"/>
<line x1="413.78" y1="430.9" x2="413.78" y2="432.5" stroke="#cfcfcf" stroke-width="0.35"/>
<line x1="413.78" y1="496.8" x2="413.78" y2="498.6" stroke="#9a9a9a" stroke-width="0.35"/>
<rect x="415.24" y="433.1" width="2.92" height="6.98" fill="#b3b3b3"/>
<rect x="415.24" y="440.03" width="2.92" height="45.5" fill="#666666"/>
<rect x="415.24" y="485.49" width="2.92" height="10.37" fill="#8b3c07"/>
<line x1="416.7" y1="430.9" x2="416.7" y2="432.5" stroke="#cfcfcf" stroke-width="0.35"/>
<line x1="416.7" y1="496.8" x2="416.7" y2="498.6" stroke="#9a9a9a" stroke-width="0.35"/>
<rect x="418.16" y="433.1" width="2.92" height="1.59" fill="#b3b3b3"/>
<rect x="418.16" y="434.64" width="2.92" height="61.22" fill="#666666"/>
<line x1="419.62" y1="430.9" x2="419.62" y2="432.5" stroke="#cfcfcf" stroke-width="0.35"/>
<line x1="419.62" y1="496.8" x2="419.62" y2="498.6" stroke="#9a9a9a" stroke-width="0.35"/>
<rect x="421.08" y="433.1" width="2.92" height="5.13" fill="#b3b3b3"/>
<rect x="421.08" y="438.18" width="2.92" height="11.14" fill="#666666"/>
<rect x="421.08" y="449.28" width="2.92" height="46.58" fill="#cd70ab"/>
<line x1="422.54" y1="430.9" x2="422.54" y2="432.5" stroke="#cfcfcf" stroke-width="0.35"/>
<line x1="422.54" y1="496.8" x2="422.54" y2="498.6" stroke="#9a9a9a" stroke-width="0.35"/>
<rect x="424" y="433.1" width="2.92" height="15" fill="#b3b3b3"/>
<rect x="424" y="448.04" width="2.92" height="8.99" fill="#666666"/>
<rect x="424" y="456.98" width="2.92" height="20.39" fill="#e3f6a2"/>
<rect x="424" y="477.32" width="2.92" height="11.3" fill="#cd70ab"/>
<rect x="424" y="488.57" width="2.92" height="7.29" fill="#8a3474"/>
<line x1="425.46" y1="430.9" x2="425.46" y2="432.5" stroke="#cfcfcf" stroke-width="0.35"/>
<line x1="425.46" y1="496.8" x2="425.46" y2="498.6" stroke="#9a9a9a" stroke-width="0.35"/>
<rect x="426.92" y="433.1" width="2.92" height="28.86" fill="#b3b3b3"/>
<rect x="426.92" y="461.91" width="2.92" height="25.94" fill="#666666"/>
<rect x="426.92" y="487.8" width="2.92" height="8.06" fill="#cd70ab"/>
<line x1="428.38" y1="430.9" x2="428.38" y2="432.5" stroke="#cfcfcf" stroke-width="0.35"/>
<line x1="428.38" y1="496.8" x2="428.38" y2="498.6" stroke="#9a9a9a" stroke-width="0.35"/>
<rect x="429.84" y="433.1" width="2.92" height="11.91" fill="#b3b3b3"/>
<rect x="429.84" y="444.96" width="2.92" height="35.18" fill="#4e7d12"/>
<rect x="429.84" y="480.09" width="2.92" height="15.77" fill="#1e88e5"/>
<line x1="431.3" y1="430.9" x2="431.3" y2="432.5" stroke="#cfcfcf" stroke-width="0.35"/>
<line x1="431.3" y1="496.8" x2="431.3" y2="498.6" stroke="#9a9a9a" stroke-width="0.35"/>
<text x="410" y="428.9" font-size="4.1" fill="#1a1a1a" text-anchor="middle">03400</text>
<rect x="435.7" y="433.1" width="2.92" height="5.75" fill="#b3b3b3"/>
<rect x="435.7" y="438.8" width="2.92" height="20.08" fill="#666666"/>
<rect x="435.7" y="458.83" width="2.92" height="37.03" fill="#dbc6bb"/>
<line x1="437.16" y1="430.9" x2="437.16" y2="432.5" stroke="#cfcfcf" stroke-width="0.35"/>
<line x1="437.16" y1="496.8" x2="437.16" y2="498.6" stroke="#9a9a9a" stroke-width="0.35"/>
<rect x="438.62" y="433.1" width="2.92" height="5.75" fill="#b3b3b3"/>
<rect x="438.62" y="438.8" width="2.92" height="38.26" fill="#666666"/>
<rect x="438.62" y="477.01" width="2.92" height="10.07" fill="#dbc6bb"/>
<rect x="438.62" y="487.03" width="2.92" height="8.83" fill="#b97c55"/>
<line x1="440.08" y1="430.9" x2="440.08" y2="432.5" stroke="#cfcfcf" stroke-width="0.35"/>
<line x1="440.08" y1="496.8" x2="440.08" y2="498.6" stroke="#9a9a9a" stroke-width="0.35"/>
<rect x="441.54" y="433.1" width="2.92" height="15.92" fill="#b3b3b3"/>
<rect x="441.54" y="448.97" width="2.92" height="8.83" fill="#666666"/>
<rect x="441.54" y="457.75" width="2.92" height="14.69" fill="#4e7d12"/>
<rect x="441.54" y="472.39" width="2.92" height="14.69" fill="#cd70ab"/>
<rect x="441.54" y="487.03" width="2.92" height="8.83" fill="#8a3474"/>
<line x1="443" y1="430.9" x2="443" y2="432.5" stroke="#cfcfcf" stroke-width="0.35"/>
<line x1="443" y1="496.8" x2="443" y2="498.6" stroke="#9a9a9a" stroke-width="0.35"/>
<text x="440.5" y="428.9" font-size="4.1" fill="#1a1a1a" text-anchor="middle">04131</text>
<text transform="translate(26.41,512.0) rotate(-90)" font-size="3.0" fill="#3d3d3d">K09370</text>
<text transform="translate(29.33,512.0) rotate(-90)" font-size="3.0" fill="#3d3d3d">K12748</text>
<text transform="translate(32.25,512.0) rotate(-90)" font-size="3.0" fill="#3d3d3d">K18368</text>
<text transform="translate(35.17,512.0) rotate(-90)" font-size="3.0" fill="#3d3d3d">K01950</text>
<text transform="translate(38.09,512.0) rotate(-90)" font-size="3.0" fill="#3d3d3d">K16257</text>
<text transform="translate(41.01,512.0) rotate(-90)" font-size="3.0" fill="#3d3d3d">K09160</text>
<text transform="translate(43.93,512.0) rotate(-90)" font-size="3.0" fill="#3d3d3d">K02699</text>
<text transform="translate(46.85,512.0) rotate(-90)" font-size="3.0" fill="#3d3d3d">K06139</text>
<text transform="translate(49.77,512.0) rotate(-90)" font-size="3.0" fill="#3d3d3d">K04709</text>
<text transform="translate(52.69,512.0) rotate(-90)" font-size="3.0" fill="#3d3d3d">K13182</text>
<text transform="translate(55.61,512.0) rotate(-90)" font-size="3.0" fill="#3d3d3d">K16370</text>
<text transform="translate(58.53,512.0) rotate(-90)" font-size="3.0" fill="#3d3d3d">K09079</text>
<text transform="translate(61.45,512.0) rotate(-90)" font-size="3.0" fill="#3d3d3d">K13476</text>
<text transform="translate(64.37,512.0) rotate(-90)" font-size="3.0" fill="#3d3d3d">K18817</text>
<text transform="translate(67.29,512.0) rotate(-90)" font-size="3.0" fill="#3d3d3d">K04341</text>
<text transform="translate(70.21,512.0) rotate(-90)" font-size="3.0" fill="#3d3d3d">K09170</text>
<text transform="translate(73.13,512.0) rotate(-90)" font-size="3.0" fill="#3d3d3d">K01429</text>
<text transform="translate(76.05,512.0) rotate(-90)" font-size="3.0" fill="#3d3d3d">K08101</text>
<text transform="translate(81.91,512.0) rotate(-90)" font-size="3.0" fill="#3d3d3d">K14374</text>
<text transform="translate(84.83,512.0) rotate(-90)" font-size="3.0" fill="#3d3d3d">K10158</text>
<text transform="translate(87.75,512.0) rotate(-90)" font-size="3.0" fill="#3d3d3d">K06966</text>
<text transform="translate(90.67,512.0) rotate(-90)" font-size="3.0" fill="#3d3d3d">K13761</text>
<text transform="translate(93.59,512.0) rotate(-90)" font-size="3.0" fill="#3d3d3d">K06229</text>
<text transform="translate(96.51,512.0) rotate(-90)" font-size="3.0" fill="#3d3d3d">K03357</text>
<text transform="translate(99.43,512.0) rotate(-90)" font-size="3.0" fill="#3d3d3d">K05547</text>
<text transform="translate(102.35,512.0) rotate(-90)" font-size="3.0" fill="#3d3d3d">K15576</text>
<text transform="translate(105.27,512.0) rotate(-90)" font-size="3.0" fill="#3d3d3d">K05151</text>
<text transform="translate(108.19,512.0) rotate(-90)" font-size="3.0" fill="#3d3d3d">K05333</text>
<text transform="translate(111.11,512.0) rotate(-90)" font-size="3.0" fill="#3d3d3d">K01058</text>
<text transform="translate(114.03,512.0) rotate(-90)" font-size="3.0" fill="#3d3d3d">K01174</text>
<text transform="translate(116.95,512.0) rotate(-90)" font-size="3.0" fill="#3d3d3d">K07863</text>
<text transform="translate(119.87,512.0) rotate(-90)" font-size="3.0" fill="#3d3d3d">K08060</text>
<text transform="translate(122.79,512.0) rotate(-90)" font-size="3.0" fill="#3d3d3d">K06434</text>
<text transform="translate(129.01,512.0) rotate(-90)" font-size="3.0" fill="#3d3d3d">K06455</text>
<text transform="translate(131.93,512.0) rotate(-90)" font-size="3.0" fill="#3d3d3d">K10479</text>
<text transform="translate(134.85,512.0) rotate(-90)" font-size="3.0" fill="#3d3d3d">K11277</text>
<text transform="translate(137.77,512.0) rotate(-90)" font-size="3.0" fill="#3d3d3d">K07517</text>
<text transform="translate(140.69,512.0) rotate(-90)" font-size="3.0" fill="#3d3d3d">K18669</text>
<text transform="translate(143.61,512.0) rotate(-90)" font-size="3.0" fill="#3d3d3d">K07710</text>
<text transform="translate(146.53,512.0) rotate(-90)" font-size="3.0" fill="#3d3d3d">K06952</text>
<text transform="translate(152.21,512.0) rotate(-90)" font-size="3.0" fill="#3d3d3d">K07451</text>
<text transform="translate(155.13,512.0) rotate(-90)" font-size="3.0" fill="#3d3d3d">K13557</text>
<text transform="translate(160.71,512.0) rotate(-90)" font-size="3.0" fill="#3d3d3d">K10790</text>
<text transform="translate(163.63,512.0) rotate(-90)" font-size="3.0" fill="#3d3d3d">K01706</text>
<text transform="translate(166.55,512.0) rotate(-90)" font-size="3.0" fill="#3d3d3d">K12835</text>
<text transform="translate(169.47,512.0) rotate(-90)" font-size="3.0" fill="#3d3d3d">K14595</text>
<text transform="translate(172.39,512.0) rotate(-90)" font-size="3.0" fill="#3d3d3d">K06438</text>
<text transform="translate(175.31,512.0) rotate(-90)" font-size="3.0" fill="#3d3d3d">K05774</text>
<text transform="translate(178.23,512.0) rotate(-90)" font-size="3.0" fill="#3d3d3d">K09644</text>
<text transform="translate(181.15,512.0) rotate(-90)" font-size="3.0" fill="#3d3d3d">K03134</text>
<text transform="translate(184.07,512.0) rotate(-90)" font-size="3.0" fill="#3d3d3d">K11874</text>
<text transform="translate(186.99,512.0) rotate(-90)" font-size="3.0" fill="#3d3d3d">K10874</text>
<text transform="translate(189.91,512.0) rotate(-90)" font-size="3.0" fill="#3d3d3d">K01110</text>
<text transform="translate(192.83,512.0) rotate(-90)" font-size="3.0" fill="#3d3d3d">K12072</text>
<text transform="translate(195.75,512.0) rotate(-90)" font-size="3.0" fill="#3d3d3d">K03163</text>
<text transform="translate(198.67,512.0) rotate(-90)" font-size="3.0" fill="#3d3d3d">K11156</text>
<text transform="translate(201.59,512.0) rotate(-90)" font-size="3.0" fill="#3d3d3d">K12644</text>
<text transform="translate(204.51,512.0) rotate(-90)" font-size="3.0" fill="#3d3d3d">K11029</text>
<text transform="translate(207.43,512.0) rotate(-90)" font-size="3.0" fill="#3d3d3d">K16753</text>
<text transform="translate(210.35,512.0) rotate(-90)" font-size="3.0" fill="#3d3d3d">K11347</text>
<text transform="translate(213.27,512.0) rotate(-90)" font-size="3.0" fill="#3d3d3d">K07054</text>
<text transform="translate(219.61,512.0) rotate(-90)" font-size="3.0" fill="#3d3d3d">K16768</text>
<text transform="translate(222.53,512.0) rotate(-90)" font-size="3.0" fill="#3d3d3d">K16484</text>
<text transform="translate(225.45,512.0) rotate(-90)" font-size="3.0" fill="#3d3d3d">K06771</text>
<text transform="translate(228.37,512.0) rotate(-90)" font-size="3.0" fill="#3d3d3d">K02867</text>
<text transform="translate(231.29,512.0) rotate(-90)" font-size="3.0" fill="#3d3d3d">K09394</text>
<text transform="translate(236.51,512.0) rotate(-90)" font-size="3.0" fill="#3d3d3d">K01749</text>
<text transform="translate(239.43,512.0) rotate(-90)" font-size="3.0" fill="#3d3d3d">K12719</text>
<text transform="translate(242.35,512.0) rotate(-90)" font-size="3.0" fill="#3d3d3d">K14247</text>
<text transform="translate(245.27,512.0) rotate(-90)" font-size="3.0" fill="#3d3d3d">K01592</text>
<text transform="translate(248.19,512.0) rotate(-90)" font-size="3.0" fill="#3d3d3d">K18991</text>
<text transform="translate(254.21,512.0) rotate(-90)" font-size="3.0" fill="#3d3d3d">K14724</text>
<text transform="translate(257.13,512.0) rotate(-90)" font-size="3.0" fill="#3d3d3d">K12999</text>
<text transform="translate(260.05,512.0) rotate(-90)" font-size="3.0" fill="#3d3d3d">K13332</text>
<text transform="translate(262.97,512.0) rotate(-90)" font-size="3.0" fill="#3d3d3d">K01297</text>
<text transform="translate(265.89,512.0) rotate(-90)" font-size="3.0" fill="#3d3d3d">K15838</text>
<text transform="translate(271.61,512.0) rotate(-90)" font-size="3.0" fill="#3d3d3d">K02531</text>
<text transform="translate(274.53,512.0) rotate(-90)" font-size="3.0" fill="#3d3d3d">K06928</text>
<text transform="translate(277.45,512.0) rotate(-90)" font-size="3.0" fill="#3d3d3d">K07439</text>
<text transform="translate(280.37,512.0) rotate(-90)" font-size="3.0" fill="#3d3d3d">K04900</text>
<text transform="translate(283.29,512.0) rotate(-90)" font-size="3.0" fill="#3d3d3d">K09063</text>
<text transform="translate(286.21,512.0) rotate(-90)" font-size="3.0" fill="#3d3d3d">K16145</text>
<text transform="translate(289.13,512.0) rotate(-90)" font-size="3.0" fill="#3d3d3d">K12284</text>
<text transform="translate(294.71,512.0) rotate(-90)" font-size="3.0" fill="#3d3d3d">K17793</text>
<text transform="translate(297.63,512.0) rotate(-90)" font-size="3.0" fill="#3d3d3d">K12625</text>
<text transform="translate(300.55,512.0) rotate(-90)" font-size="3.0" fill="#3d3d3d">K18193</text>
<text transform="translate(303.47,512.0) rotate(-90)" font-size="3.0" fill="#3d3d3d">K09221</text>
<text transform="translate(306.39,512.0) rotate(-90)" font-size="3.0" fill="#3d3d3d">K16166</text>
<text transform="translate(309.31,512.0) rotate(-90)" font-size="3.0" fill="#3d3d3d">K04540</text>
<text transform="translate(312.23,512.0) rotate(-90)" font-size="3.0" fill="#3d3d3d">K13035</text>
<text transform="translate(315.15,512.0) rotate(-90)" font-size="3.0" fill="#3d3d3d">K10694</text>
<text transform="translate(318.07,512.0) rotate(-90)" font-size="3.0" fill="#3d3d3d">K02200</text>
<text transform="translate(320.99,512.0) rotate(-90)" font-size="3.0" fill="#3d3d3d">K15187</text>
<text transform="translate(323.91,512.0) rotate(-90)" font-size="3.0" fill="#3d3d3d">K03987</text>
<text transform="translate(326.83,512.0) rotate(-90)" font-size="3.0" fill="#3d3d3d">K07831</text>
<text transform="translate(329.75,512.0) rotate(-90)" font-size="3.0" fill="#3d3d3d">K12165</text>
<text transform="translate(332.67,512.0) rotate(-90)" font-size="3.0" fill="#3d3d3d">K17806</text>
<text transform="translate(335.59,512.0) rotate(-90)" font-size="3.0" fill="#3d3d3d">K12882</text>
<text transform="translate(341.61,512.0) rotate(-90)" font-size="3.0" fill="#3d3d3d">K05856</text>
<text transform="translate(344.53,512.0) rotate(-90)" font-size="3.0" fill="#3d3d3d">K12139</text>
<text transform="translate(347.45,512.0) rotate(-90)" font-size="3.0" fill="#3d3d3d">K10033</text>
<text transform="translate(350.37,512.0) rotate(-90)" font-size="3.0" fill="#3d3d3d">K18863</text>
<text transform="translate(353.29,512.0) rotate(-90)" font-size="3.0" fill="#3d3d3d">K04017</text>
<text transform="translate(356.21,512.0) rotate(-90)" font-size="3.0" fill="#3d3d3d">K11238</text>
<text transform="translate(359.13,512.0) rotate(-90)" font-size="3.0" fill="#3d3d3d">K11380</text>
<text transform="translate(362.05,512.0) rotate(-90)" font-size="3.0" fill="#3d3d3d">K11032</text>
<text transform="translate(364.97,512.0) rotate(-90)" font-size="3.0" fill="#3d3d3d">K06815</text>
<text transform="translate(367.89,512.0) rotate(-90)" font-size="3.0" fill="#3d3d3d">K03562</text>
<text transform="translate(370.81,512.0) rotate(-90)" font-size="3.0" fill="#3d3d3d">K05878</text>
<text transform="translate(373.73,512.0) rotate(-90)" font-size="3.0" fill="#3d3d3d">K11135</text>
<text transform="translate(376.65,512.0) rotate(-90)" font-size="3.0" fill="#3d3d3d">K16852</text>
<text transform="translate(382.71,512.0) rotate(-90)" font-size="3.0" fill="#3d3d3d">K06292</text>
<text transform="translate(385.63,512.0) rotate(-90)" font-size="3.0" fill="#3d3d3d">K02590</text>
<text transform="translate(388.55,512.0) rotate(-90)" font-size="3.0" fill="#3d3d3d">K03652</text>
<text transform="translate(391.47,512.0) rotate(-90)" font-size="3.0" fill="#3d3d3d">K18482</text>
<text transform="translate(394.39,512.0) rotate(-90)" font-size="3.0" fill="#3d3d3d">K14300</text>
<text transform="translate(397.31,512.0) rotate(-90)" font-size="3.0" fill="#3d3d3d">K02042</text>
<text transform="translate(400.23,512.0) rotate(-90)" font-size="3.0" fill="#3d3d3d">K08777</text>
<text transform="translate(403.15,512.0) rotate(-90)" font-size="3.0" fill="#3d3d3d">K12266</text>
<text transform="translate(406.07,512.0) rotate(-90)" font-size="3.0" fill="#3d3d3d">K09198</text>
<text transform="translate(408.99,512.0) rotate(-90)" font-size="3.0" fill="#3d3d3d">K15931</text>
<text transform="translate(411.91,512.0) rotate(-90)" font-size="3.0" fill="#3d3d3d">K14820</text>
<text transform="translate(414.83,512.0) rotate(-90)" font-size="3.0" fill="#3d3d3d">K05771</text>
<text transform="translate(417.75,512.0) rotate(-90)" font-size="3.0" fill="#3d3d3d">K02825</text>
<text transform="translate(420.67,512.0) rotate(-90)" font-size="3.0" fill="#3d3d3d">K02072</text>
<text transform="translate(423.59,512.0) rotate(-90)" font-size="3.0" fill="#3d3d3d">K17173</text>
<text transform="translate(426.51,512.0) rotate(-90)" font-size="3.0" fill="#3d3d3d">K11950</text>
<text transform="translate(429.43,512.0) rotate(-90)" font-size="3.0" fill="#3d3d3d">K07784</text>
<text transform="translate(432.35,512.0) rotate(-90)" font-size="3.0" fill="#3d3d3d">K05278</text>
<text transform="translate(438.21,512.0) rotate(-90)" font-size="3.0" fill="#3d3d3d">K05350</text>
<text transform="translate(441.13,512.0) rotate(-90)" font-size="3.0" fill="#3d3d3d">K14560</text>
<text transform="translate(444.05,512.0) rotate(-90)" font-size="3.0" fill="#3d3d3d">K04494</text>
<text x="245.8" y="420.9" font-size="5.2" text-anchor="middle">Protein families: genetic information processing</text>
<text x="22" y="449.6" font-size="5.9" fill="#4d4d4d" text-anchor="end">100</text>
<text x="22" y="461.95" font-size="5.9" fill="#4d4d4d" text-anchor="end">75</text>
<text x="22" y="474.3" font-size="5.9" fill="#4d4d4d" text-anchor="end">50</text>
<text x="22" y="486.65" font-size="5.9" fill="#4d4d4d" text-anchor="end">25</text>
<text x="22" y="499" font-size="5.9" fill="#4d4d4d" text-anchor="end">0</text>
<g transform="translate(9.8,471.8) rotate(-90)"><text x="0" y="0" font-size="4.7" text-anchor="middle">Percent</text></g>
<text x="234.4" y="518.3" font-size="4.6" text-anchor="middle">KEGG Ortholog</text>
<text x="453.6" y="430.7" font-size="5.5">Genus</text>
<rect x="453.8" y="433.9" width="6.2" height="6.1" fill="#b3b3b3"/>
<text x="463.4" y="438.5" font-size="4.4">Other</text>
<rect x="453.8" y="440.97" width="6.2" height="6.1" fill="#666666"/>
<text x="463.4" y="445.57" font-size="4.4">unclassified</text>
<rect x="453.8" y="448.04" width="6.2" height="6.1" fill="#e3f6a2"/>
<text x="463.4" y="452.64" font-size="4.4" font-style="italic">Actinomyces</text>
<rect x="453.8" y="455.11" width="6.2" height="6.1" fill="#9dcf2c"/>
<text x="463.4" y="459.71" font-size="4.4" font-style="italic">Aggregatibacter</text>
<rect x="453.8" y="462.18" width="6.2" height="6.1" fill="#4e7d12"/>
<text x="463.4" y="466.78" font-size="4.4"><tspan font-style="italic">Anaerolineaceae</tspan> unclassified</text>
<rect x="453.8" y="469.25" width="6.2" height="6.1" fill="#2f5409"/>
<text x="463.4" y="473.85" font-size="4.4"><tspan font-style="italic">Bacteroidetes</tspan> unclassified</text>
<rect x="453.8" y="476.32" width="6.2" height="6.1" fill="#efb5d8"/>
<text x="463.4" y="480.92" font-size="4.4" font-style="italic">Corynebacterium</text>
<rect x="453.8" y="483.39" width="6.2" height="6.1" fill="#cd70ab"/>
<text x="463.4" y="487.99" font-size="4.4" font-style="italic">Desulfobulbus</text>
<rect x="453.8" y="490.46" width="6.2" height="6.1" fill="#8a3474"/>
<text x="463.4" y="495.06" font-size="4.4" font-style="italic">Desulfomicrobium</text>
<rect x="453.8" y="497.53" width="6.2" height="6.1" fill="#4e1c45"/>
<text x="463.4" y="502.13" font-size="4.4" font-style="italic">Filifactor</text>
<rect x="453.8" y="504.6" width="6.2" height="6.1" fill="#a6e6d9"/>
<text x="463.4" y="509.2" font-size="4.4" font-style="italic">Fretibacterium</text>
<rect x="526.9" y="433.9" width="6.2" height="6.1" fill="#44c8a5"/>
<text x="536.2" y="438.5" font-size="4.4" font-style="italic">Fusobacterium</text>
<rect x="526.9" y="440.97" width="6.2" height="6.1" fill="#1a9276"/>
<text x="536.2" y="445.57" font-size="4.4" font-style="italic">Leptotrichia</text>
<rect x="526.9" y="448.04" width="6.2" height="6.1" fill="#0b5f4b"/>
<text x="536.2" y="452.64" font-size="4.4" font-style="italic">Neisseria</text>
<rect x="526.9" y="455.11" width="6.2" height="6.1" fill="#e6f1fc"/>
<text x="536.2" y="459.71" font-size="4.4" font-style="italic">Olsenella</text>
<rect x="526.9" y="462.18" width="6.2" height="6.1" fill="#bfdffa"/>
<text x="536.2" y="466.78" font-size="4.4" font-style="italic">Ottowia</text>
<rect x="526.9" y="469.25" width="6.2" height="6.1" fill="#1e88e5"/>
<text x="536.2" y="473.85" font-size="4.4" font-style="italic">Parvimonas</text>
<rect x="526.9" y="476.32" width="6.2" height="6.1" fill="#0e5c9d"/>
<text x="536.2" y="480.92" font-size="4.4" font-style="italic">Porphyromonas</text>
<rect x="526.9" y="483.39" width="6.2" height="6.1" fill="#dbc6bb"/>
<text x="536.2" y="487.99" font-size="4.4" font-style="italic">Pseudopropionibacterium</text>
<rect x="526.9" y="490.46" width="6.2" height="6.1" fill="#b97c55"/>
<text x="536.2" y="495.06" font-size="4.4" font-style="italic">Streptococcus</text>
<rect x="526.9" y="497.53" width="6.2" height="6.1" fill="#8b3c07"/>
<text x="536.2" y="502.13" font-size="4.4" font-style="italic">Tannerella</text>
<rect x="526.9" y="504.6" width="6.2" height="6.1" fill="#5b2507"/>
<text x="536.2" y="509.2" font-size="4.4" font-style="italic">Treponema</text>
<text x="592.8" y="430.7" font-size="5.7">KEGG Pathway</text>
<text x="592.8" y="438.8" font-size="4.3">03000 - Transcription factors</text>
<text x="592.8" y="444" font-size="4.3">03009 - Ribosome biogenesis</text>
<text x="592.8" y="449.2" font-size="4.3">03011 - Ribosome</text>
<text x="592.8" y="453.9" font-size="4.3">03012 - Translation factors</text>
<text x="592.8" y="458.4" font-size="4.3">03016 - Transfer RNA biogenesis</text>
<text x="592.8" y="464.8" font-size="4.3">03019 - Messenger RNA biogenesis</text>
<text x="592.8" y="470" font-size="4.3">03021 - Transcription machinery</text>
<text x="592.8" y="475.7" font-size="4.3">03029 - Mitochondrial biogenesis</text>
<text x="592.8" y="481.3" font-size="4.3">03032 - DNA replication proteins</text>
<text x="592.8" y="487" font-size="4.3">03036 - Chromosome and associated proteins</text>
<text x="592.8" y="492.2" font-size="4.3">03110 - Chaperones and folding catalysts</text>
<text x="592.8" y="497.8" font-size="4.3">03400 - DNA repair and recombination proteins</text>
<text x="592.8" y="503.1" font-size="4.3">04131 - Membrane trafficking</text>
</svg>
</body></html>
